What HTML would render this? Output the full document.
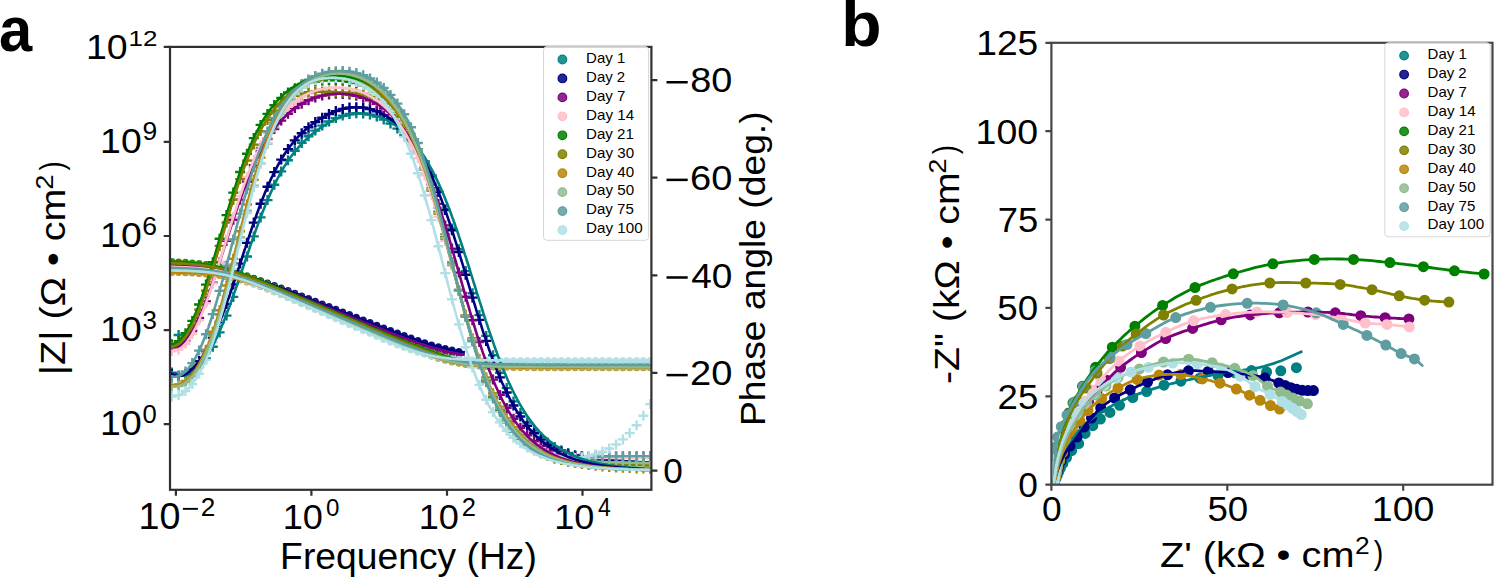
<!DOCTYPE html>
<html><head><meta charset="utf-8"><style>html,body{margin:0;padding:0;background:#fff;}body{width:1495px;height:577px;overflow:hidden;position:relative;}</style></head>
<body>
<svg width="1495" height="577" viewBox="0 0 1495 577" style="position:absolute;left:0;top:0;font-family:&quot;Liberation Sans&quot;,sans-serif">
<rect x="0" y="0" width="1495" height="577" fill="#fff"/>
<defs><clipPath id="ca"><rect x="170.0" y="46.9" width="481.4" height="442.9"/></clipPath>
<clipPath id="cb"><rect x="1051.4" y="42.8" width="441.1" height="441.9"/></clipPath></defs>
<g clip-path="url(#ca)">
<path d="M171.8,266.8h0.01M178.6,267.1h0.01M185.5,267.4h0.01M192.3,267.8h0.01M199.1,268.3h0.01M206.0,269.0h0.01M212.8,269.9h0.01M219.6,271.0h0.01M226.5,272.2h0.01M233.3,273.8h0.01M240.1,275.5h0.01M247.0,277.4h0.01M253.8,279.5h0.01M260.6,281.7h0.01M267.5,284.1h0.01M274.3,286.5h0.01M281.2,289.0h0.01M288.0,291.6h0.01M294.8,294.2h0.01M301.7,296.8h0.01M308.5,299.4h0.01M315.3,302.1h0.01M322.2,304.7h0.01M329.0,307.4h0.01M335.8,310.1h0.01M342.7,312.8h0.01M349.5,315.5h0.01M356.3,318.1h0.01M363.2,320.8h0.01M370.0,323.5h0.01M376.8,326.1h0.01M383.7,328.7h0.01M390.5,331.3h0.01M397.4,333.9h0.01M404.2,336.4h0.01M411.0,338.8h0.01M417.9,341.2h0.01M424.7,343.4h0.01M431.5,345.5h0.01M438.4,347.4h0.01M445.2,349.2h0.01M452.0,350.7h0.01M458.9,352.0h0.01" stroke="#008080" stroke-width="7" stroke-linecap="round" fill="none" stroke-opacity="0.9"/>
<path d="M166.8,372.6h10.0M171.8,367.6v10.0M173.6,375.6h10.0M178.6,370.6v10.0M180.5,375.7h10.0M185.5,370.7v10.0M187.3,372.9h10.0M192.3,367.9v10.0M194.1,367.1h10.0M199.1,362.1v10.0M201.0,358.4h10.0M206.0,353.4v10.0M207.8,346.8h10.0M212.8,341.8v10.0M214.6,332.4h10.0M219.6,327.4v10.0M221.5,315.6h10.0M226.5,310.6v10.0M228.3,296.9h10.0M233.3,291.9v10.0M235.1,276.9h10.0M240.1,271.9v10.0M242.0,256.5h10.0M247.0,251.5v10.0M248.8,236.4h10.0M253.8,231.4v10.0M255.6,217.4h10.0M260.6,212.4v10.0M262.5,200.1h10.0M267.5,195.1v10.0M269.3,184.7h10.0M274.3,179.7v10.0M276.2,171.4h10.0M281.2,166.4v10.0M283.0,160.2h10.0M288.0,155.2v10.0M289.8,150.8h10.0M294.8,145.8v10.0M296.7,142.9h10.0M301.7,137.9v10.0M303.5,136.3h10.0M308.5,131.3v10.0M310.3,130.6h10.0M315.3,125.6v10.0M317.2,125.6h10.0M322.2,120.6v10.0M324.0,121.5h10.0M329.0,116.5v10.0M330.8,118.1h10.0M335.8,113.1v10.0M337.7,115.6h10.0M342.7,110.6v10.0M344.5,114.0h10.0M349.5,109.0v10.0M351.3,113.3h10.0M356.3,108.3v10.0M358.2,113.5h10.0M363.2,108.5v10.0M365.0,114.6h10.0M370.0,109.6v10.0M371.8,116.6h10.0M376.8,111.6v10.0M378.7,119.6h10.0M383.7,114.6v10.0M385.5,123.5h10.0M390.5,118.5v10.0M392.4,128.6h10.0M397.4,123.6v10.0M399.2,135.0h10.0M404.2,130.0v10.0M406.0,142.8h10.0M411.0,137.8v10.0M412.9,152.3h10.0M417.9,147.3v10.0M419.7,163.5h10.0M424.7,158.5v10.0M426.5,176.7h10.0M431.5,171.7v10.0M433.4,192.0h10.0M438.4,187.0v10.0M440.2,209.3h10.0M445.2,204.3v10.0M447.0,228.5h10.0M452.0,223.5v10.0M453.9,249.3h10.0M458.9,244.3v10.0M460.7,271.1h10.0M465.7,266.1v10.0M467.5,293.2h10.0M472.5,288.2v10.0M474.4,315.1h10.0M479.4,310.1v10.0M481.2,335.9h10.0M486.2,330.9v10.0M488.0,355.2h10.0M493.0,350.2v10.0M494.9,372.7h10.0M499.9,367.7v10.0M501.7,388.1h10.0M506.7,383.1v10.0M508.5,401.4h10.0M513.5,396.4v10.0M515.4,412.9h10.0M520.4,407.9v10.0M522.2,422.5h10.0M527.2,417.5v10.0M529.1,430.6h10.0M534.1,425.6v10.0M535.9,437.2h10.0M540.9,432.2v10.0M542.7,442.6h10.0M547.7,437.6v10.0M549.6,446.9h10.0M554.6,441.9v10.0M556.4,450.3h10.0M561.4,445.3v10.0M563.2,453.0h10.0M568.2,448.0v10.0M570.1,455.0h10.0M575.1,450.0v10.0M576.9,456.5h10.0M581.9,451.5v10.0M583.7,457.7h10.0M588.7,452.7v10.0M590.6,458.6h10.0M595.6,453.6v10.0M597.4,459.4h10.0M602.4,454.4v10.0M604.2,460.0h10.0M609.2,455.0v10.0M611.1,460.6h10.0M616.1,455.6v10.0M617.9,461.1h10.0M622.9,456.1v10.0M624.7,461.5h10.0M629.7,456.5v10.0M631.6,461.9h10.0M636.6,456.9v10.0M638.4,462.2h10.0M643.4,457.2v10.0M645.2,462.5h10.0M650.2,457.5v10.0M173.6,335.0h10.0M178.6,330.0v10.0" stroke="#008080" stroke-width="2.4" fill="none"/>
<path d="M171.8,266.3h0.01M178.6,266.5h0.01M185.5,266.8h0.01M192.3,267.2h0.01M199.1,267.7h0.01M206.0,268.4h0.01M212.8,269.2h0.01M219.6,270.2h0.01M226.5,271.5h0.01M233.3,272.9h0.01M240.1,274.6h0.01M247.0,276.5h0.01M253.8,278.6h0.01M260.6,280.8h0.01M267.5,283.1h0.01M274.3,285.6h0.01M281.2,288.1h0.01M288.0,290.6h0.01M294.8,293.2h0.01M301.7,295.9h0.01M308.5,298.5h0.01M315.3,301.2h0.01M322.2,303.9h0.01M329.0,306.5h0.01M335.8,309.2h0.01M342.7,311.9h0.01M349.5,314.6h0.01M356.3,317.3h0.01M363.2,320.0h0.01M370.0,322.6h0.01M376.8,325.3h0.01M383.7,327.9h0.01M390.5,330.5h0.01M397.4,333.1h0.01M404.2,335.6h0.01M411.0,338.1h0.01M417.9,340.5h0.01M424.7,342.7h0.01M431.5,344.9h0.01M438.4,346.8h0.01M445.2,348.6h0.01M452.0,350.1h0.01M458.9,351.5h0.01" stroke="#000080" stroke-width="7" stroke-linecap="round" fill="none" stroke-opacity="0.9"/>
<path d="M166.8,374.0h10.0M171.8,369.0v10.0M173.6,375.9h10.0M178.6,370.9v10.0M180.5,374.0h10.0M185.5,369.0v10.0M187.3,368.9h10.0M192.3,363.9v10.0M194.1,361.1h10.0M199.1,356.1v10.0M201.0,350.7h10.0M206.0,345.7v10.0M207.8,337.6h10.0M212.8,332.6v10.0M214.6,322.0h10.0M219.6,317.0v10.0M221.5,304.1h10.0M226.5,299.1v10.0M228.3,284.4h10.0M233.3,279.4v10.0M235.1,263.6h10.0M240.1,258.6v10.0M242.0,242.7h10.0M247.0,237.7v10.0M248.8,222.6h10.0M253.8,217.6v10.0M255.6,203.8h10.0M260.6,198.8v10.0M262.5,186.8h10.0M267.5,181.8v10.0M269.3,172.1h10.0M274.3,167.1v10.0M276.2,159.6h10.0M281.2,154.6v10.0M283.0,149.1h10.0M288.0,144.1v10.0M289.8,140.4h10.0M294.8,135.4v10.0M296.7,133.3h10.0M301.7,128.3v10.0M303.5,127.3h10.0M308.5,122.3v10.0M310.3,122.1h10.0M315.3,117.1v10.0M317.2,117.7h10.0M322.2,112.7v10.0M324.0,114.0h10.0M329.0,109.0v10.0M330.8,111.1h10.0M335.8,106.1v10.0M337.7,108.9h10.0M342.7,103.9v10.0M344.5,107.6h10.0M349.5,102.6v10.0M351.3,107.2h10.0M356.3,102.2v10.0M358.2,107.7h10.0M363.2,102.7v10.0M365.0,109.1h10.0M370.0,104.1v10.0M371.8,111.3h10.0M376.8,106.3v10.0M378.7,114.6h10.0M383.7,109.6v10.0M385.5,118.9h10.0M390.5,113.9v10.0M392.4,124.4h10.0M397.4,119.4v10.0M399.2,131.2h10.0M404.2,126.2v10.0M406.0,139.5h10.0M411.0,134.5v10.0M412.9,149.5h10.0M417.9,144.5v10.0M419.7,161.5h10.0M424.7,156.5v10.0M426.5,175.5h10.0M431.5,170.5v10.0M433.4,191.7h10.0M438.4,186.7v10.0M440.2,210.0h10.0M445.2,205.0v10.0M447.0,230.3h10.0M452.0,225.3v10.0M453.9,252.0h10.0M458.9,247.0v10.0M460.7,274.7h10.0M465.7,269.7v10.0M467.5,297.6h10.0M472.5,292.6v10.0M474.4,319.9h10.0M479.4,314.9v10.0M481.2,340.9h10.0M486.2,335.9v10.0M488.0,360.2h10.0M493.0,355.2v10.0M494.9,377.4h10.0M499.9,372.4v10.0M501.7,392.5h10.0M506.7,387.5v10.0M508.5,405.5h10.0M513.5,400.5v10.0M515.4,416.5h10.0M520.4,411.5v10.0M522.2,425.7h10.0M527.2,420.7v10.0M529.1,433.3h10.0M534.1,428.3v10.0M535.9,439.6h10.0M540.9,434.6v10.0M542.7,444.7h10.0M547.7,439.7v10.0M549.6,448.7h10.0M554.6,443.7v10.0M556.4,451.8h10.0M561.4,446.8v10.0M563.2,454.2h10.0M568.2,449.2v10.0M570.1,456.0h10.0M575.1,451.0v10.0M576.9,457.4h10.0M581.9,452.4v10.0M583.7,458.4h10.0M588.7,453.4v10.0M590.6,459.2h10.0M595.6,454.2v10.0M597.4,459.9h10.0M602.4,454.9v10.0M604.2,460.5h10.0M609.2,455.5v10.0M611.1,461.0h10.0M616.1,456.0v10.0M617.9,461.4h10.0M622.9,456.4v10.0M624.7,461.8h10.0M629.7,456.8v10.0M631.6,462.1h10.0M636.6,457.1v10.0M638.4,462.4h10.0M643.4,457.4v10.0M645.2,462.6h10.0M650.2,457.6v10.0" stroke="#000080" stroke-width="2.4" fill="none"/>
<path d="M171.8,265.8h0.01M178.6,266.1h0.01M185.5,266.4h0.01M192.3,266.8h0.01M199.1,267.3h0.01M206.0,268.1h0.01M212.8,269.0h0.01M219.6,270.1h0.01M226.5,271.5h0.01M233.3,273.1h0.01M240.1,274.9h0.01M247.0,277.0h0.01M253.8,279.2h0.01M260.6,281.5h0.01M267.5,284.0h0.01M274.3,286.5h0.01M281.2,289.1h0.01M288.0,291.8h0.01M294.8,294.5h0.01M301.7,297.2h0.01M308.5,299.9h0.01M315.3,302.6h0.01M322.2,305.4h0.01M329.0,308.1h0.01M335.8,310.9h0.01M342.7,313.7h0.01M349.5,316.4h0.01M356.3,319.2h0.01M363.2,321.9h0.01M370.0,324.7h0.01M376.8,327.4h0.01M383.7,330.1h0.01M390.5,332.8h0.01M397.4,335.4h0.01M404.2,338.0h0.01M411.0,340.5h0.01M417.9,342.9h0.01M424.7,345.2h0.01M431.5,347.4h0.01M438.4,349.4h0.01M445.2,351.2h0.01M452.0,352.7h0.01M458.9,354.0h0.01" stroke="#800080" stroke-width="7" stroke-linecap="round" fill="none" stroke-opacity="0.9"/>
<path d="M166.8,347.3h10.0M171.8,342.3v10.0M173.6,345.9h10.0M178.6,340.9v10.0M180.5,340.4h10.0M185.5,335.4v10.0M187.3,331.0h10.0M192.3,326.0v10.0M194.1,317.9h10.0M199.1,312.9v10.0M201.0,301.5h10.0M206.0,296.5v10.0M207.8,282.7h10.0M212.8,277.7v10.0M214.6,262.1h10.0M219.6,257.1v10.0M221.5,240.8h10.0M226.5,235.8v10.0M228.3,219.8h10.0M233.3,214.8v10.0M235.1,199.8h10.0M240.1,194.8v10.0M242.0,181.6h10.0M247.0,176.6v10.0M248.8,165.3h10.0M253.8,160.3v10.0M255.6,151.2h10.0M260.6,146.2v10.0M262.5,139.1h10.0M267.5,134.1v10.0M269.3,129.0h10.0M274.3,124.0v10.0M276.2,120.6h10.0M281.2,115.6v10.0M283.0,113.7h10.0M288.0,108.7v10.0M289.8,108.1h10.0M294.8,103.1v10.0M296.7,103.7h10.0M301.7,98.7v10.0M303.5,100.2h10.0M308.5,95.2v10.0M310.3,97.5h10.0M315.3,92.5v10.0M317.2,95.6h10.0M322.2,90.6v10.0M324.0,94.4h10.0M329.0,89.4v10.0M330.8,93.8h10.0M335.8,88.8v10.0M337.7,93.9h10.0M342.7,88.9v10.0M344.5,94.5h10.0M349.5,89.5v10.0M351.3,95.7h10.0M356.3,90.7v10.0M358.2,97.7h10.0M363.2,92.7v10.0M365.0,100.4h10.0M370.0,95.4v10.0M371.8,103.9h10.0M376.8,98.9v10.0M378.7,108.5h10.0M383.7,103.5v10.0M385.5,114.2h10.0M390.5,109.2v10.0M392.4,121.3h10.0M397.4,116.3v10.0M399.2,129.9h10.0M404.2,124.9v10.0M406.0,140.3h10.0M411.0,135.3v10.0M412.9,152.8h10.0M417.9,147.8v10.0M419.7,167.5h10.0M424.7,162.5v10.0M426.5,184.6h10.0M431.5,179.6v10.0M433.4,203.9h10.0M438.4,198.9v10.0M440.2,225.4h10.0M445.2,220.4v10.0M447.0,248.6h10.0M452.0,243.6v10.0M453.9,272.6h10.0M458.9,267.6v10.0M460.7,296.8h10.0M465.7,291.8v10.0M467.5,320.2h10.0M472.5,315.2v10.0M474.4,342.1h10.0M479.4,337.1v10.0M481.2,362.0h10.0M486.2,357.0v10.0M488.0,379.6h10.0M493.0,374.6v10.0M494.9,394.9h10.0M499.9,389.9v10.0M501.7,407.9h10.0M506.7,402.9v10.0M508.5,418.8h10.0M513.5,413.8v10.0M515.4,427.8h10.0M520.4,422.8v10.0M522.2,435.3h10.0M527.2,430.3v10.0M529.1,441.3h10.0M534.1,436.3v10.0M535.9,446.0h10.0M540.9,441.0v10.0M542.7,449.7h10.0M547.7,444.7v10.0M549.6,452.4h10.0M554.6,447.4v10.0M556.4,454.2h10.0M561.4,449.2v10.0M563.2,455.4h10.0M568.2,450.4v10.0M570.1,456.0h10.0M575.1,451.0v10.0M576.9,456.3h10.0M581.9,451.3v10.0M583.7,456.4h10.0M588.7,451.4v10.0M590.6,456.4h10.0M595.6,451.4v10.0M597.4,456.4h10.0M602.4,451.4v10.0M604.2,456.5h10.0M609.2,451.5v10.0M611.1,456.6h10.0M616.1,451.6v10.0M617.9,456.7h10.0M622.9,451.7v10.0M624.7,456.8h10.0M629.7,451.8v10.0M631.6,456.9h10.0M636.6,451.9v10.0M638.4,457.1h10.0M643.4,452.1v10.0M645.2,457.2h10.0M650.2,452.2v10.0" stroke="#800080" stroke-width="2.4" fill="none"/>
<path d="M171.8,266.9h0.01M178.6,267.1h0.01M185.5,267.3h0.01M192.3,267.7h0.01M199.1,268.2h0.01M206.0,268.9h0.01M212.8,269.8h0.01M219.6,271.0h0.01M226.5,272.4h0.01M233.3,274.1h0.01M240.1,276.1h0.01M247.0,278.3h0.01M253.8,280.7h0.01M260.6,283.2h0.01M267.5,285.8h0.01M274.3,288.6h0.01M281.2,291.3h0.01M288.0,294.1h0.01M294.8,297.0h0.01M301.7,299.9h0.01M308.5,302.7h0.01M315.3,305.6h0.01M322.2,308.5h0.01M329.0,311.4h0.01M335.8,314.3h0.01M342.7,317.2h0.01M349.5,320.1h0.01M356.3,323.0h0.01M363.2,325.9h0.01M370.0,328.8h0.01M376.8,331.7h0.01M383.7,334.6h0.01M390.5,337.4h0.01M397.4,340.3h0.01M404.2,343.1h0.01M411.0,345.8h0.01M417.9,348.5h0.01M424.7,351.0h0.01M431.5,353.5h0.01M438.4,355.7h0.01M445.2,357.8h0.01M452.0,359.6h0.01M458.9,361.1h0.01M465.7,362.3h0.01M472.5,363.3h0.01M479.4,364.1h0.01M486.2,364.6h0.01M493.0,365.0h0.01M499.9,365.3h0.01M506.7,365.5h0.01M513.5,365.7h0.01M520.4,365.8h0.01M527.2,365.9h0.01M534.1,366.0h0.01M540.9,366.0h0.01M547.7,366.0h0.01M554.6,366.1h0.01M561.4,366.1h0.01M568.2,366.1h0.01M575.1,366.1h0.01M581.9,366.1h0.01M588.7,366.1h0.01M595.6,366.1h0.01M602.4,366.1h0.01M609.2,366.1h0.01M616.1,366.1h0.01M622.9,366.1h0.01M629.7,366.1h0.01M636.6,366.1h0.01M643.4,366.1h0.01M650.2,366.1h0.01" stroke="#FFC0CB" stroke-width="7" stroke-linecap="round" fill="none" stroke-opacity="0.9"/>
<path d="M166.8,351.0h10.0M171.8,346.0v10.0M173.6,349.5h10.0M178.6,344.5v10.0M180.5,343.7h10.0M185.5,338.7v10.0M187.3,333.9h10.0M192.3,328.9v10.0M194.1,320.3h10.0M199.1,315.3v10.0M201.0,303.2h10.0M206.0,298.2v10.0M207.8,283.4h10.0M212.8,278.4v10.0M214.6,261.8h10.0M219.6,256.8v10.0M221.5,239.3h10.0M226.5,234.3v10.0M228.3,217.1h10.0M233.3,212.1v10.0M235.1,196.1h10.0M240.1,191.1v10.0M242.0,177.0h10.0M247.0,172.0v10.0M248.8,160.0h10.0M253.8,155.0v10.0M255.6,145.3h10.0M260.6,140.3v10.0M262.5,132.8h10.0M267.5,127.8v10.0M269.3,122.4h10.0M274.3,117.4v10.0M276.2,113.9h10.0M281.2,108.9v10.0M283.0,106.9h10.0M288.0,101.9v10.0M289.8,101.3h10.0M294.8,96.3v10.0M296.7,96.8h10.0M301.7,91.8v10.0M303.5,93.4h10.0M308.5,88.4v10.0M310.3,90.9h10.0M315.3,85.9v10.0M317.2,89.1h10.0M322.2,84.1v10.0M324.0,88.0h10.0M329.0,83.0v10.0M330.8,87.7h10.0M335.8,82.7v10.0M337.7,87.9h10.0M342.7,82.9v10.0M344.5,88.9h10.0M349.5,83.9v10.0M351.3,90.5h10.0M356.3,85.5v10.0M358.2,92.9h10.0M363.2,87.9v10.0M365.0,96.2h10.0M370.0,91.2v10.0M371.8,100.5h10.0M376.8,95.5v10.0M378.7,105.9h10.0M383.7,100.9v10.0M385.5,112.7h10.0M390.5,107.7v10.0M392.4,121.0h10.0M397.4,116.0v10.0M399.2,131.2h10.0M404.2,126.2v10.0M406.0,143.5h10.0M411.0,138.5v10.0M412.9,158.2h10.0M417.9,153.2v10.0M419.7,175.3h10.0M424.7,170.3v10.0M426.5,194.9h10.0M431.5,189.9v10.0M433.4,216.9h10.0M438.4,211.9v10.0M440.2,240.7h10.0M445.2,235.7v10.0M447.0,265.7h10.0M452.0,260.7v10.0M453.9,290.9h10.0M458.9,285.9v10.0M460.7,315.4h10.0M465.7,310.4v10.0M467.5,338.4h10.0M472.5,333.4v10.0M474.4,359.3h10.0M479.4,354.3v10.0M481.2,377.7h10.0M486.2,372.7v10.0M488.0,393.6h10.0M493.0,388.6v10.0M494.9,407.1h10.0M499.9,402.1v10.0M501.7,418.4h10.0M506.7,413.4v10.0M508.5,427.8h10.0M513.5,422.8v10.0M515.4,435.5h10.0M520.4,430.5v10.0M522.2,441.7h10.0M527.2,436.7v10.0M529.1,446.7h10.0M534.1,441.7v10.0M535.9,450.6h10.0M540.9,445.6v10.0M542.7,453.5h10.0M547.7,448.5v10.0M549.6,455.7h10.0M554.6,450.7v10.0M556.4,457.1h10.0M561.4,452.1v10.0M563.2,457.9h10.0M568.2,452.9v10.0M570.1,458.3h10.0M575.1,453.3v10.0M576.9,458.3h10.0M581.9,453.3v10.0M583.7,458.3h10.0M588.7,453.3v10.0M590.6,458.1h10.0M595.6,453.1v10.0M597.4,458.1h10.0M602.4,453.1v10.0M604.2,458.0h10.0M609.2,453.0v10.0M611.1,458.0h10.0M616.1,453.0v10.0M617.9,458.1h10.0M622.9,453.1v10.0M624.7,458.1h10.0M629.7,453.1v10.0M631.6,458.2h10.0M636.6,453.2v10.0M638.4,458.3h10.0M643.4,453.3v10.0M645.2,458.4h10.0M650.2,453.4v10.0" stroke="#FFC0CB" stroke-width="2.4" fill="none"/>
<path d="M171.8,261.6h0.01M178.6,261.9h0.01M185.5,262.3h0.01M192.3,262.9h0.01M199.1,263.6h0.01M206.0,264.6h0.01M212.8,265.8h0.01M219.6,267.3h0.01M226.5,269.0h0.01M233.3,271.1h0.01M240.1,273.3h0.01M247.0,275.7h0.01M253.8,278.3h0.01M260.6,280.9h0.01M267.5,283.6h0.01M274.3,286.4h0.01M281.2,289.2h0.01M288.0,292.1h0.01M294.8,295.0h0.01M301.7,297.8h0.01M308.5,300.7h0.01M315.3,303.6h0.01M322.2,306.5h0.01M329.0,309.4h0.01M335.8,312.3h0.01M342.7,315.2h0.01M349.5,318.1h0.01M356.3,321.0h0.01M363.2,323.9h0.01M370.0,326.8h0.01M376.8,329.7h0.01M383.7,332.6h0.01M390.5,335.5h0.01M397.4,338.3h0.01M404.2,341.1h0.01M411.0,343.9h0.01M417.9,346.6h0.01M424.7,349.2h0.01M431.5,351.7h0.01M438.4,354.0h0.01M445.2,356.2h0.01M452.0,358.1h0.01M458.9,359.7h0.01M465.7,361.1h0.01M472.5,362.2h0.01M479.4,363.1h0.01M486.2,363.7h0.01M493.0,364.2h0.01M499.9,364.5h0.01M506.7,364.8h0.01M513.5,365.0h0.01M520.4,365.1h0.01M527.2,365.2h0.01M534.1,365.3h0.01M540.9,365.3h0.01M547.7,365.4h0.01M554.6,365.4h0.01M561.4,365.4h0.01M568.2,365.4h0.01M575.1,365.5h0.01M581.9,365.5h0.01M588.7,365.5h0.01M595.6,365.5h0.01M602.4,365.5h0.01M609.2,365.5h0.01M616.1,365.5h0.01M622.9,365.5h0.01M629.7,365.5h0.01M636.6,365.5h0.01M643.4,365.5h0.01M650.2,365.5h0.01" stroke="#008000" stroke-width="7" stroke-linecap="round" fill="none" stroke-opacity="0.9"/>
<path d="M166.8,344.2h10.0M171.8,339.2v10.0M173.6,341.1h10.0M178.6,336.1v10.0M180.5,333.3h10.0M185.5,328.3v10.0M187.3,320.9h10.0M192.3,315.9v10.0M194.1,304.5h10.0M199.1,299.5v10.0M201.0,284.6h10.0M206.0,279.6v10.0M207.8,262.3h10.0M212.8,257.3v10.0M214.6,238.7h10.0M219.6,233.7v10.0M221.5,215.1h10.0M226.5,210.1v10.0M228.3,192.6h10.0M233.3,187.6v10.0M235.1,172.0h10.0M240.1,167.0v10.0M242.0,153.8h10.0M247.0,148.8v10.0M248.8,138.1h10.0M253.8,133.1v10.0M255.6,124.9h10.0M260.6,119.9v10.0M262.5,113.9h10.0M267.5,108.9v10.0M269.3,105.1h10.0M274.3,100.1v10.0M276.2,98.0h10.0M281.2,93.0v10.0M283.0,92.4h10.0M288.0,87.4v10.0M289.8,88.2h10.0M294.8,83.2v10.0M296.7,85.1h10.0M301.7,80.1v10.0M303.5,82.9h10.0M308.5,77.9v10.0M310.3,81.5h10.0M315.3,76.5v10.0M317.2,80.6h10.0M322.2,75.6v10.0M324.0,80.3h10.0M329.0,75.3v10.0M330.8,80.4h10.0M335.8,75.4v10.0M337.7,80.8h10.0M342.7,75.8v10.0M344.5,81.7h10.0M349.5,76.7v10.0M351.3,83.1h10.0M356.3,78.1v10.0M358.2,85.2h10.0M363.2,80.2v10.0M365.0,88.0h10.0M370.0,83.0v10.0M371.8,91.8h10.0M376.8,86.8v10.0M378.7,96.8h10.0M383.7,91.8v10.0M385.5,103.3h10.0M390.5,98.3v10.0M392.4,111.5h10.0M397.4,106.5v10.0M399.2,121.7h10.0M404.2,116.7v10.0M406.0,134.3h10.0M411.0,129.3v10.0M412.9,149.5h10.0M417.9,144.5v10.0M419.7,167.5h10.0M424.7,162.5v10.0M426.5,188.3h10.0M431.5,183.3v10.0M433.4,211.7h10.0M438.4,206.7v10.0M440.2,237.2h10.0M445.2,232.2v10.0M447.0,263.8h10.0M452.0,258.8v10.0M453.9,290.6h10.0M458.9,285.6v10.0M460.7,316.4h10.0M465.7,311.4v10.0M467.5,340.4h10.0M472.5,335.4v10.0M474.4,361.9h10.0M479.4,356.9v10.0M481.2,380.7h10.0M486.2,375.7v10.0M488.0,396.7h10.0M493.0,391.7v10.0M494.9,410.2h10.0M499.9,405.2v10.0M501.7,421.4h10.0M506.7,416.4v10.0M508.5,430.6h10.0M513.5,425.6v10.0M515.4,438.1h10.0M520.4,433.1v10.0M522.2,444.2h10.0M527.2,439.2v10.0M529.1,449.1h10.0M534.1,444.1v10.0M535.9,453.0h10.0M540.9,448.0v10.0M542.7,456.0h10.0M547.7,451.0v10.0M549.6,458.4h10.0M554.6,453.4v10.0M556.4,460.1h10.0M561.4,455.1v10.0M563.2,461.4h10.0M568.2,456.4v10.0M570.1,462.4h10.0M575.1,457.4v10.0M576.9,463.0h10.0M581.9,458.0v10.0M583.7,463.5h10.0M588.7,458.5v10.0M590.6,463.8h10.0M595.6,458.8v10.0M597.4,464.1h10.0M602.4,459.1v10.0M604.2,464.3h10.0M609.2,459.3v10.0M611.1,464.5h10.0M616.1,459.5v10.0M617.9,464.7h10.0M622.9,459.7v10.0M624.7,464.9h10.0M629.7,459.9v10.0M631.6,465.0h10.0M636.6,460.0v10.0M638.4,465.1h10.0M643.4,460.1v10.0M645.2,465.2h10.0M650.2,460.2v10.0" stroke="#008000" stroke-width="2.4" fill="none"/>
<path d="M171.8,263.0h0.01M178.6,263.3h0.01M185.5,263.7h0.01M192.3,264.2h0.01M199.1,264.9h0.01M206.0,265.8h0.01M212.8,267.0h0.01M219.6,268.4h0.01M226.5,270.1h0.01M233.3,272.1h0.01M240.1,274.3h0.01M247.0,276.7h0.01M253.8,279.2h0.01M260.6,281.9h0.01M267.5,284.6h0.01M274.3,287.4h0.01M281.2,290.2h0.01M288.0,293.1h0.01M294.8,295.9h0.01M301.7,298.8h0.01M308.5,301.7h0.01M315.3,304.6h0.01M322.2,307.5h0.01M329.0,310.4h0.01M335.8,313.3h0.01M342.7,316.3h0.01M349.5,319.2h0.01M356.3,322.1h0.01M363.2,325.0h0.01M370.0,327.9h0.01M376.8,330.8h0.01M383.7,333.7h0.01M390.5,336.5h0.01M397.4,339.4h0.01M404.2,342.2h0.01M411.0,344.9h0.01M417.9,347.6h0.01M424.7,350.2h0.01M431.5,352.7h0.01M438.4,355.0h0.01M445.2,357.2h0.01M452.0,359.1h0.01M458.9,360.7h0.01M465.7,362.0h0.01M472.5,363.1h0.01M479.4,363.9h0.01M486.2,364.5h0.01M493.0,365.0h0.01M499.9,365.3h0.01M506.7,365.5h0.01M513.5,365.7h0.01M520.4,365.8h0.01M527.2,365.9h0.01M534.1,366.0h0.01M540.9,366.0h0.01M547.7,366.1h0.01M554.6,366.1h0.01M561.4,366.1h0.01M568.2,366.1h0.01M575.1,366.2h0.01M581.9,366.2h0.01M588.7,366.2h0.01M595.6,366.2h0.01M602.4,366.2h0.01M609.2,366.2h0.01M616.1,366.2h0.01M622.9,366.2h0.01M629.7,366.2h0.01M636.6,366.2h0.01M643.4,366.2h0.01M650.2,366.2h0.01" stroke="#808000" stroke-width="7" stroke-linecap="round" fill="none" stroke-opacity="0.9"/>
<path d="M166.8,346.6h10.0M171.8,341.6v10.0M173.6,344.0h10.0M178.6,339.0v10.0M180.5,336.8h10.0M185.5,331.8v10.0M187.3,325.2h10.0M192.3,320.2v10.0M194.1,309.6h10.0M199.1,304.6v10.0M201.0,290.6h10.0M206.0,285.6v10.0M207.8,269.0h10.0M212.8,264.0v10.0M214.6,245.9h10.0M219.6,240.9v10.0M221.5,222.5h10.0M226.5,217.5v10.0M228.3,199.9h10.0M233.3,194.9v10.0M235.1,179.1h10.0M240.1,174.1v10.0M242.0,160.6h10.0M247.0,155.6v10.0M248.8,144.6h10.0M253.8,139.6v10.0M255.6,131.1h10.0M260.6,126.1v10.0M262.5,120.1h10.0M267.5,115.1v10.0M269.3,111.3h10.0M274.3,106.3v10.0M276.2,104.5h10.0M281.2,99.5v10.0M283.0,99.4h10.0M288.0,94.4v10.0M289.8,95.9h10.0M294.8,90.9v10.0M296.7,93.6h10.0M301.7,88.6v10.0M303.5,92.3h10.0M308.5,87.3v10.0M310.3,91.7h10.0M315.3,86.7v10.0M317.2,91.7h10.0M322.2,86.7v10.0M324.0,91.8h10.0M329.0,86.8v10.0M330.8,92.2h10.0M335.8,87.2v10.0M337.7,92.5h10.0M342.7,87.5v10.0M344.5,93.0h10.0M349.5,88.0v10.0M351.3,93.6h10.0M356.3,88.6v10.0M358.2,94.7h10.0M363.2,89.7v10.0M365.0,96.4h10.0M370.0,91.4v10.0M371.8,99.0h10.0M376.8,94.0v10.0M378.7,102.9h10.0M383.7,97.9v10.0M385.5,108.4h10.0M390.5,103.4v10.0M392.4,115.8h10.0M397.4,110.8v10.0M399.2,125.3h10.0M404.2,120.3v10.0M406.0,137.2h10.0M411.0,132.2v10.0M412.9,151.9h10.0M417.9,146.9v10.0M419.7,169.3h10.0M424.7,164.3v10.0M426.5,189.6h10.0M431.5,184.6v10.0M433.4,212.5h10.0M438.4,207.5v10.0M440.2,237.4h10.0M445.2,232.4v10.0M447.0,263.6h10.0M452.0,258.6v10.0M453.9,290.0h10.0M458.9,285.0v10.0M460.7,315.5h10.0M465.7,310.5v10.0M467.5,339.3h10.0M472.5,334.3v10.0M474.4,360.7h10.0M479.4,355.7v10.0M481.2,379.5h10.0M486.2,374.5v10.0M488.0,395.6h10.0M493.0,390.6v10.0M494.9,409.1h10.0M499.9,404.1v10.0M501.7,420.4h10.0M506.7,415.4v10.0M508.5,429.7h10.0M513.5,424.7v10.0M515.4,437.3h10.0M520.4,432.3v10.0M522.2,443.5h10.0M527.2,438.5v10.0M529.1,448.5h10.0M534.1,443.5v10.0M535.9,452.5h10.0M540.9,447.5v10.0M542.7,455.6h10.0M547.7,450.6v10.0M549.6,458.0h10.0M554.6,453.0v10.0M556.4,459.9h10.0M561.4,454.9v10.0M563.2,461.2h10.0M568.2,456.2v10.0M570.1,462.2h10.0M575.1,457.2v10.0M576.9,462.8h10.0M581.9,457.8v10.0M583.7,463.3h10.0M588.7,458.3v10.0M590.6,463.7h10.0M595.6,458.7v10.0M597.4,464.0h10.0M602.4,459.0v10.0M604.2,464.2h10.0M609.2,459.2v10.0M611.1,464.5h10.0M616.1,459.5v10.0M617.9,464.6h10.0M622.9,459.6v10.0M624.7,464.8h10.0M629.7,459.8v10.0M631.6,465.0h10.0M636.6,460.0v10.0M638.4,465.1h10.0M643.4,460.1v10.0M645.2,465.2h10.0M650.2,460.2v10.0" stroke="#808000" stroke-width="2.4" fill="none"/>
<path d="M171.8,272.4h0.01M178.6,272.6h0.01M185.5,272.8h0.01M192.3,273.1h0.01M199.1,273.4h0.01M206.0,274.0h0.01M212.8,274.7h0.01M219.6,275.6h0.01M226.5,276.8h0.01M233.3,278.2h0.01M240.1,279.9h0.01M247.0,281.9h0.01M253.8,284.1h0.01M260.6,286.5h0.01M267.5,289.1h0.01M274.3,291.7h0.01M281.2,294.4h0.01M288.0,297.2h0.01M294.8,300.0h0.01M301.7,302.9h0.01M308.5,305.7h0.01M315.3,308.6h0.01M322.2,311.5h0.01M329.0,314.4h0.01M335.8,317.3h0.01M342.7,320.2h0.01M349.5,323.1h0.01M356.3,326.0h0.01M363.2,328.9h0.01M370.0,331.7h0.01M376.8,334.6h0.01M383.7,337.5h0.01M390.5,340.3h0.01M397.4,343.1h0.01M404.2,345.9h0.01M411.0,348.6h0.01M417.9,351.2h0.01M424.7,353.7h0.01M431.5,356.1h0.01M438.4,358.3h0.01M445.2,360.2h0.01M452.0,361.9h0.01M458.9,363.3h0.01M465.7,364.4h0.01M472.5,365.3h0.01M479.4,366.0h0.01M486.2,366.5h0.01M493.0,366.9h0.01M499.9,367.1h0.01M506.7,367.3h0.01M513.5,367.4h0.01M520.4,367.5h0.01M527.2,367.6h0.01M534.1,367.7h0.01M540.9,367.7h0.01M547.7,367.7h0.01M554.6,367.8h0.01M561.4,367.8h0.01M568.2,367.8h0.01M575.1,367.8h0.01M581.9,367.8h0.01M588.7,367.8h0.01M595.6,367.8h0.01M602.4,367.8h0.01M609.2,367.8h0.01M616.1,367.8h0.01M622.9,367.8h0.01M629.7,367.8h0.01M636.6,367.8h0.01M643.4,367.8h0.01M650.2,367.8h0.01" stroke="#B8860B" stroke-width="7" stroke-linecap="round" fill="none" stroke-opacity="0.9"/>
<path d="M166.8,385.2h10.0M171.8,380.2v10.0M173.6,384.5h10.0M178.6,379.5v10.0M180.5,380.9h10.0M185.5,375.9v10.0M187.3,374.1h10.0M192.3,369.1v10.0M194.1,363.8h10.0M199.1,358.8v10.0M201.0,349.7h10.0M206.0,344.7v10.0M207.8,331.8h10.0M212.8,326.8v10.0M214.6,310.2h10.0M219.6,305.2v10.0M221.5,285.5h10.0M226.5,280.5v10.0M228.3,258.7h10.0M233.3,253.7v10.0M235.1,231.2h10.0M240.1,226.2v10.0M242.0,204.5h10.0M247.0,199.5v10.0M248.8,179.7h10.0M253.8,174.7v10.0M255.6,157.6h10.0M260.6,152.6v10.0M262.5,138.7h10.0M267.5,133.7v10.0M269.3,122.9h10.0M274.3,117.9v10.0M276.2,110.0h10.0M281.2,105.0v10.0M283.0,99.6h10.0M288.0,94.6v10.0M289.8,91.4h10.0M294.8,86.4v10.0M296.7,85.1h10.0M301.7,80.1v10.0M303.5,80.4h10.0M308.5,75.4v10.0M310.3,76.9h10.0M315.3,71.9v10.0M317.2,74.6h10.0M322.2,69.6v10.0M324.0,73.3h10.0M329.0,68.3v10.0M330.8,72.9h10.0M335.8,67.9v10.0M337.7,73.3h10.0M342.7,68.3v10.0M344.5,74.5h10.0M349.5,69.5v10.0M351.3,76.5h10.0M356.3,71.5v10.0M358.2,79.4h10.0M363.2,74.4v10.0M365.0,83.3h10.0M370.0,78.3v10.0M371.8,88.2h10.0M376.8,83.2v10.0M378.7,94.4h10.0M383.7,89.4v10.0M385.5,102.0h10.0M390.5,97.0v10.0M392.4,111.3h10.0M397.4,106.3v10.0M399.2,122.5h10.0M404.2,117.5v10.0M406.0,135.8h10.0M411.0,130.8v10.0M412.9,151.6h10.0M417.9,146.6v10.0M419.7,169.9h10.0M424.7,164.9v10.0M426.5,190.7h10.0M431.5,185.7v10.0M433.4,213.8h10.0M438.4,208.8v10.0M440.2,238.7h10.0M445.2,233.7v10.0M447.0,264.5h10.0M452.0,259.5v10.0M453.9,290.3h10.0M458.9,285.3v10.0M460.7,315.1h10.0M465.7,310.1v10.0M467.5,338.3h10.0M472.5,333.3v10.0M474.4,359.1h10.0M479.4,354.1v10.0M481.2,377.5h10.0M486.2,372.5v10.0M488.0,393.2h10.0M493.0,388.2v10.0M494.9,406.7h10.0M499.9,401.7v10.0M501.7,417.9h10.0M506.7,412.9v10.0M508.5,427.3h10.0M513.5,422.3v10.0M515.4,435.0h10.0M520.4,430.0v10.0M522.2,441.4h10.0M527.2,436.4v10.0M529.1,446.6h10.0M534.1,441.6v10.0M535.9,450.9h10.0M540.9,445.9v10.0M542.7,454.4h10.0M547.7,449.4v10.0M549.6,457.2h10.0M554.6,452.2v10.0M556.4,459.5h10.0M561.4,454.5v10.0M563.2,461.3h10.0M568.2,456.3v10.0M570.1,462.8h10.0M575.1,457.8v10.0M576.9,464.0h10.0M581.9,459.0v10.0M583.7,465.0h10.0M588.7,460.0v10.0M590.6,465.8h10.0M595.6,460.8v10.0M597.4,466.5h10.0M602.4,461.5v10.0M604.2,467.0h10.0M609.2,462.0v10.0M611.1,467.4h10.0M616.1,462.4v10.0M617.9,467.8h10.0M622.9,462.8v10.0M624.7,468.1h10.0M629.7,463.1v10.0M631.6,468.4h10.0M636.6,463.4v10.0M638.4,468.6h10.0M643.4,463.6v10.0M645.2,468.8h10.0M650.2,463.8v10.0" stroke="#B8860B" stroke-width="2.4" fill="none"/>
<path d="M171.8,269.9h0.01M178.6,270.1h0.01M185.5,270.3h0.01M192.3,270.6h0.01M199.1,271.1h0.01M206.0,271.7h0.01M212.8,272.5h0.01M219.6,273.6h0.01M226.5,274.9h0.01M233.3,276.6h0.01M240.1,278.5h0.01M247.0,280.6h0.01M253.8,283.0h0.01M260.6,285.5h0.01M267.5,288.1h0.01M274.3,290.8h0.01M281.2,293.6h0.01M288.0,296.4h0.01M294.8,299.2h0.01M301.7,302.1h0.01M308.5,305.0h0.01M315.3,307.9h0.01M322.2,310.8h0.01M329.0,313.7h0.01M335.8,316.6h0.01M342.7,319.6h0.01M349.5,322.5h0.01M356.3,325.4h0.01M363.2,328.3h0.01M370.0,331.2h0.01M376.8,334.1h0.01M383.7,337.0h0.01M390.5,339.8h0.01M397.4,342.7h0.01M404.2,345.4h0.01M411.0,348.2h0.01M417.9,350.8h0.01M424.7,353.3h0.01M431.5,355.7h0.01M438.4,357.8h0.01M445.2,359.7h0.01M452.0,361.4h0.01M458.9,362.8h0.01M465.7,363.9h0.01M472.5,364.7h0.01M479.4,365.4h0.01M486.2,365.8h0.01M493.0,366.2h0.01M499.9,366.4h0.01M506.7,366.6h0.01M513.5,366.7h0.01M520.4,366.8h0.01M527.2,366.9h0.01M534.1,366.9h0.01M540.9,367.0h0.01M547.7,367.0h0.01M554.6,367.0h0.01M561.4,367.0h0.01M568.2,367.0h0.01M575.1,367.0h0.01M581.9,367.0h0.01M588.7,367.1h0.01M595.6,367.1h0.01M602.4,367.1h0.01M609.2,367.1h0.01M616.1,367.1h0.01M622.9,367.1h0.01M629.7,367.1h0.01M636.6,367.1h0.01M643.4,367.1h0.01M650.2,367.1h0.01" stroke="#8FBC8F" stroke-width="7" stroke-linecap="round" fill="none" stroke-opacity="0.9"/>
<path d="M166.8,386.4h10.0M171.8,381.4v10.0M173.6,386.1h10.0M178.6,381.1v10.0M180.5,382.8h10.0M185.5,377.8v10.0M187.3,376.4h10.0M192.3,371.4v10.0M194.1,366.6h10.0M199.1,361.6v10.0M201.0,353.1h10.0M206.0,348.1v10.0M207.8,335.8h10.0M212.8,330.8v10.0M214.6,314.8h10.0M219.6,309.8v10.0M221.5,290.8h10.0M226.5,285.8v10.0M228.3,264.5h10.0M233.3,259.5v10.0M235.1,237.3h10.0M240.1,232.3v10.0M242.0,210.6h10.0M247.0,205.6v10.0M248.8,185.6h10.0M253.8,180.6v10.0M255.6,163.2h10.0M260.6,158.2v10.0M262.5,143.8h10.0M267.5,138.8v10.0M269.3,127.4h10.0M274.3,122.4v10.0M276.2,113.9h10.0M281.2,108.9v10.0M283.0,103.0h10.0M288.0,98.0v10.0M289.8,94.4h10.0M294.8,89.4v10.0M296.7,87.6h10.0M301.7,82.6v10.0M303.5,82.4h10.0M308.5,77.4v10.0M310.3,78.6h10.0M315.3,73.6v10.0M317.2,75.9h10.0M322.2,70.9v10.0M324.0,74.3h10.0M329.0,69.3v10.0M330.8,73.5h10.0M335.8,68.5v10.0M337.7,73.6h10.0M342.7,68.6v10.0M344.5,74.6h10.0M349.5,69.6v10.0M351.3,76.3h10.0M356.3,71.3v10.0M358.2,79.0h10.0M363.2,74.0v10.0M365.0,82.5h10.0M370.0,77.5v10.0M371.8,87.2h10.0M376.8,82.2v10.0M378.7,93.2h10.0M383.7,88.2v10.0M385.5,100.6h10.0M390.5,95.6v10.0M392.4,109.7h10.0M397.4,104.7v10.0M399.2,120.7h10.0M404.2,115.7v10.0M406.0,134.0h10.0M411.0,129.0v10.0M412.9,149.8h10.0M417.9,144.8v10.0M419.7,168.2h10.0M424.7,163.2v10.0M426.5,189.3h10.0M431.5,184.3v10.0M433.4,212.7h10.0M438.4,207.7v10.0M440.2,238.0h10.0M445.2,233.0v10.0M447.0,264.4h10.0M452.0,259.4v10.0M453.9,290.7h10.0M458.9,285.7v10.0M460.7,316.0h10.0M465.7,311.0v10.0M467.5,339.5h10.0M472.5,334.5v10.0M474.4,360.6h10.0M479.4,355.6v10.0M481.2,379.1h10.0M486.2,374.1v10.0M488.0,395.0h10.0M493.0,390.0v10.0M494.9,408.3h10.0M499.9,403.3v10.0M501.7,419.5h10.0M506.7,414.5v10.0M508.5,428.7h10.0M513.5,423.7v10.0M515.4,436.2h10.0M520.4,431.2v10.0M522.2,442.4h10.0M527.2,437.4v10.0M529.1,447.4h10.0M534.1,442.4v10.0M535.9,451.3h10.0M540.9,446.3v10.0M542.7,454.4h10.0M547.7,449.4v10.0M549.6,456.8h10.0M554.6,451.8v10.0M556.4,458.5h10.0M561.4,453.5v10.0M563.2,459.7h10.0M568.2,454.7v10.0M570.1,460.5h10.0M575.1,455.5v10.0M576.9,461.1h10.0M581.9,456.1v10.0M583.7,461.5h10.0M588.7,456.5v10.0M590.6,461.7h10.0M595.6,456.7v10.0M597.4,461.9h10.0M602.4,456.9v10.0M604.2,462.1h10.0M609.2,457.1v10.0M611.1,462.3h10.0M616.1,457.3v10.0M617.9,462.5h10.0M622.9,457.5v10.0M624.7,462.7h10.0M629.7,457.7v10.0M631.6,462.8h10.0M636.6,457.8v10.0M638.4,463.0h10.0M643.4,458.0v10.0M645.2,463.1h10.0M650.2,458.1v10.0" stroke="#8FBC8F" stroke-width="2.4" fill="none"/>
<path d="M171.8,267.9h0.01M178.6,268.1h0.01M185.5,268.3h0.01M192.3,268.7h0.01M199.1,269.2h0.01M206.0,269.9h0.01M212.8,270.8h0.01M219.6,271.9h0.01M226.5,273.4h0.01M233.3,275.1h0.01M240.1,277.1h0.01M247.0,279.3h0.01M253.8,281.7h0.01M260.6,284.2h0.01M267.5,286.8h0.01M274.3,289.6h0.01M281.2,292.3h0.01M288.0,295.2h0.01M294.8,298.0h0.01M301.7,300.9h0.01M308.5,303.8h0.01M315.3,306.7h0.01M322.2,309.6h0.01M329.0,312.5h0.01M335.8,315.4h0.01M342.7,318.3h0.01M349.5,321.2h0.01M356.3,324.1h0.01M363.2,327.0h0.01M370.0,329.9h0.01M376.8,332.8h0.01M383.7,335.6h0.01M390.5,338.5h0.01M397.4,341.3h0.01M404.2,344.0h0.01M411.0,346.7h0.01M417.9,349.3h0.01M424.7,351.8h0.01M431.5,354.1h0.01M438.4,356.2h0.01M445.2,358.1h0.01M452.0,359.7h0.01M458.9,361.0h0.01M465.7,362.0h0.01M472.5,362.8h0.01M479.4,363.4h0.01M486.2,363.8h0.01M493.0,364.1h0.01M499.9,364.4h0.01M506.7,364.5h0.01M513.5,364.6h0.01M520.4,364.7h0.01M527.2,364.8h0.01M534.1,364.8h0.01M540.9,364.9h0.01M547.7,364.9h0.01M554.6,364.9h0.01M561.4,364.9h0.01M568.2,365.0h0.01M575.1,365.0h0.01M581.9,365.0h0.01M588.7,365.0h0.01M595.6,365.0h0.01M602.4,365.0h0.01M609.2,365.0h0.01M616.1,365.0h0.01M622.9,365.0h0.01M629.7,365.0h0.01M636.6,365.0h0.01M643.4,365.0h0.01M650.2,365.0h0.01" stroke="#5F9EA0" stroke-width="7" stroke-linecap="round" fill="none" stroke-opacity="0.9"/>
<path d="M166.8,376.3h10.0M171.8,371.3v10.0M173.6,375.9h10.0M178.6,370.9v10.0M180.5,371.5h10.0M185.5,366.5v10.0M187.3,363.1h10.0M192.3,358.1v10.0M194.1,350.6h10.0M199.1,345.6v10.0M201.0,334.2h10.0M206.0,329.2v10.0M207.8,314.1h10.0M212.8,309.1v10.0M214.6,290.9h10.0M219.6,285.9v10.0M221.5,265.6h10.0M226.5,260.6v10.0M228.3,239.4h10.0M233.3,234.4v10.0M235.1,213.6h10.0M240.1,208.6v10.0M242.0,189.3h10.0M247.0,184.3v10.0M248.8,167.3h10.0M253.8,162.3v10.0M255.6,148.0h10.0M260.6,143.0v10.0M262.5,131.6h10.0M267.5,126.6v10.0M269.3,117.9h10.0M274.3,112.9v10.0M276.2,106.5h10.0M281.2,101.5v10.0M283.0,97.3h10.0M288.0,92.3v10.0M289.8,90.0h10.0M294.8,85.0v10.0M296.7,84.1h10.0M301.7,79.1v10.0M303.5,79.6h10.0M308.5,74.6v10.0M310.3,76.1h10.0M315.3,71.1v10.0M317.2,73.7h10.0M322.2,68.7v10.0M324.0,72.0h10.0M329.0,67.0v10.0M330.8,71.2h10.0M335.8,66.2v10.0M337.7,71.1h10.0M342.7,66.1v10.0M344.5,71.7h10.0M349.5,66.7v10.0M351.3,73.1h10.0M356.3,68.1v10.0M358.2,75.3h10.0M363.2,70.3v10.0M365.0,78.4h10.0M370.0,73.4v10.0M371.8,82.6h10.0M376.8,77.6v10.0M378.7,88.0h10.0M383.7,83.0v10.0M385.5,94.9h10.0M390.5,89.9v10.0M392.4,103.6h10.0M397.4,98.6v10.0M399.2,114.2h10.0M404.2,109.2v10.0M406.0,127.3h10.0M411.0,122.3v10.0M412.9,143.0h10.0M417.9,138.0v10.0M419.7,161.7h10.0M424.7,156.7v10.0M426.5,183.3h10.0M431.5,178.3v10.0M433.4,207.7h10.0M438.4,202.7v10.0M440.2,234.3h10.0M445.2,229.3v10.0M447.0,262.1h10.0M452.0,257.1v10.0M453.9,290.0h10.0M458.9,285.0v10.0M460.7,316.7h10.0M465.7,311.7v10.0M467.5,341.4h10.0M472.5,336.4v10.0M474.4,363.3h10.0M479.4,358.3v10.0M481.2,382.3h10.0M486.2,377.3v10.0M488.0,398.4h10.0M493.0,393.4v10.0M494.9,411.9h10.0M499.9,406.9v10.0M501.7,422.9h10.0M506.7,417.9v10.0M508.5,431.9h10.0M513.5,426.9v10.0M515.4,439.1h10.0M520.4,434.1v10.0M522.2,444.9h10.0M527.2,439.9v10.0M529.1,449.4h10.0M534.1,444.4v10.0M535.9,452.8h10.0M540.9,447.8v10.0M542.7,455.3h10.0M547.7,450.3v10.0M549.6,457.0h10.0M554.6,452.0v10.0M556.4,458.0h10.0M561.4,453.0v10.0M563.2,458.3h10.0M568.2,453.3v10.0M570.1,458.2h10.0M575.1,453.2v10.0M576.9,457.9h10.0M581.9,452.9v10.0M583.7,457.4h10.0M588.7,452.4v10.0M590.6,457.0h10.0M595.6,452.0v10.0M597.4,456.6h10.0M602.4,451.6v10.0M604.2,456.4h10.0M609.2,451.4v10.0M611.1,456.2h10.0M616.1,451.2v10.0M617.9,456.1h10.0M622.9,451.1v10.0M624.7,456.1h10.0M629.7,451.1v10.0M631.6,456.1h10.0M636.6,451.1v10.0M638.4,456.1h10.0M643.4,451.1v10.0M645.2,456.1h10.0M650.2,451.1v10.0" stroke="#5F9EA0" stroke-width="2.4" fill="none"/>
<path d="M171.8,270.5h0.01M178.6,270.6h0.01M185.5,270.8h0.01M192.3,271.1h0.01M199.1,271.5h0.01M206.0,272.1h0.01M212.8,272.9h0.01M219.6,273.9h0.01M226.5,275.3h0.01M233.3,277.0h0.01M240.1,279.0h0.01M247.0,281.2h0.01M253.8,283.7h0.01M260.6,286.3h0.01M267.5,289.0h0.01M274.3,291.9h0.01M281.2,294.8h0.01M288.0,297.7h0.01M294.8,300.7h0.01M301.7,303.7h0.01M308.5,306.7h0.01M315.3,309.7h0.01M322.2,312.7h0.01M329.0,315.7h0.01M335.8,318.7h0.01M342.7,321.7h0.01M349.5,324.7h0.01M356.3,327.7h0.01M363.2,330.7h0.01M370.0,333.6h0.01M376.8,336.6h0.01M383.7,339.5h0.01M390.5,342.3h0.01M397.4,345.0h0.01M404.2,347.6h0.01M411.0,350.0h0.01M417.9,352.2h0.01M424.7,354.1h0.01M431.5,355.7h0.01M438.4,357.0h0.01M445.2,358.0h0.01M452.0,358.8h0.01M458.9,359.3h0.01M465.7,359.7h0.01M472.5,360.0h0.01M479.4,360.1h0.01M486.2,360.3h0.01M493.0,360.4h0.01M499.9,360.4h0.01M506.7,360.5h0.01M513.5,360.5h0.01M520.4,360.5h0.01M527.2,360.5h0.01M534.1,360.5h0.01M540.9,360.5h0.01M547.7,360.6h0.01M554.6,360.6h0.01M561.4,360.6h0.01M568.2,360.6h0.01M575.1,360.6h0.01M581.9,360.6h0.01M588.7,360.6h0.01M595.6,360.6h0.01M602.4,360.6h0.01M609.2,360.6h0.01M616.1,360.6h0.01M622.9,360.6h0.01M629.7,360.6h0.01M636.6,360.6h0.01M643.4,360.6h0.01M650.2,360.6h0.01" stroke="#B0E0E6" stroke-width="7" stroke-linecap="round" fill="none" stroke-opacity="0.9"/>
<path d="M166.8,396.4h10.0M171.8,391.4v10.0M173.6,395.1h10.0M178.6,390.1v10.0M180.5,391.0h10.0M185.5,386.0v10.0M187.3,384.1h10.0M192.3,379.1v10.0M194.1,373.8h10.0M199.1,368.8v10.0M201.0,359.9h10.0M206.0,354.9v10.0M207.8,342.3h10.0M212.8,337.3v10.0M214.6,320.9h10.0M219.6,315.9v10.0M221.5,296.2h10.0M226.5,291.2v10.0M228.3,269.1h10.0M233.3,264.1v10.0M235.1,240.9h10.0M240.1,235.9v10.0M242.0,213.0h10.0M247.0,208.0v10.0M248.8,186.9h10.0M253.8,181.9v10.0M255.6,163.4h10.0M260.6,158.4v10.0M262.5,143.2h10.0M267.5,138.2v10.0M269.3,126.3h10.0M274.3,121.3v10.0M276.2,112.6h10.0M281.2,107.6v10.0M283.0,101.8h10.0M288.0,96.8v10.0M289.8,93.5h10.0M294.8,88.5v10.0M296.7,87.4h10.0M301.7,82.4v10.0M303.5,83.1h10.0M308.5,78.1v10.0M310.3,80.2h10.0M315.3,75.2v10.0M317.2,78.6h10.0M322.2,73.6v10.0M324.0,77.9h10.0M329.0,72.9v10.0M330.8,77.9h10.0M335.8,72.9v10.0M337.7,78.6h10.0M342.7,73.6v10.0M344.5,79.9h10.0M349.5,74.9v10.0M351.3,82.0h10.0M356.3,77.0v10.0M358.2,85.0h10.0M363.2,80.0v10.0M365.0,89.2h10.0M370.0,84.2v10.0M371.8,94.7h10.0M376.8,89.7v10.0M378.7,102.0h10.0M383.7,97.0v10.0M385.5,111.3h10.0M390.5,106.3v10.0M392.4,122.9h10.0M397.4,117.9v10.0M399.2,136.9h10.0M404.2,131.9v10.0M406.0,153.7h10.0M411.0,148.7v10.0M412.9,173.3h10.0M417.9,168.3v10.0M419.7,195.5h10.0M424.7,190.5v10.0M426.5,220.1h10.0M431.5,215.1v10.0M433.4,246.3h10.0M438.4,241.3v10.0M440.2,273.1h10.0M445.2,268.1v10.0M447.0,299.4h10.0M452.0,294.4v10.0M453.9,324.4h10.0M458.9,319.4v10.0M460.7,347.2h10.0M465.7,342.2v10.0M467.5,367.4h10.0M472.5,362.4v10.0M474.4,384.9h10.0M479.4,379.9v10.0M481.2,399.7h10.0M486.2,394.7v10.0M488.0,412.1h10.0M493.0,407.1v10.0M494.9,422.4h10.0M499.9,417.4v10.0M501.7,430.8h10.0M506.7,425.8v10.0M508.5,437.7h10.0M513.5,432.7v10.0M515.4,443.2h10.0M520.4,438.2v10.0M522.2,447.6h10.0M527.2,442.6v10.0M529.1,451.1h10.0M534.1,446.1v10.0M535.9,453.7h10.0M540.9,448.7v10.0M542.7,455.7h10.0M547.7,450.7v10.0M549.6,457.0h10.0M554.6,452.0v10.0M556.4,457.8h10.0M561.4,452.8v10.0M563.2,458.1h10.0M568.2,453.1v10.0M570.1,457.9h10.0M575.1,452.9v10.0M576.9,457.2h10.0M581.9,452.2v10.0M583.7,456.0h10.0M588.7,451.0v10.0M590.6,454.2h10.0M595.6,449.2v10.0M597.4,451.7h10.0M602.4,446.7v10.0M604.2,448.5h10.0M609.2,443.5v10.0M611.1,444.5h10.0M616.1,439.5v10.0M617.9,439.4h10.0M622.9,434.4v10.0M624.7,433.1h10.0M629.7,428.1v10.0M631.6,425.3h10.0M636.6,420.3v10.0M638.4,415.8h10.0M643.4,410.8v10.0M645.2,404.1h10.0M650.2,399.1v10.0" stroke="#B0E0E6" stroke-width="2.4" fill="none"/>
<path d="M162.3,266.6 L163.5,266.6 L164.8,266.6 L166.0,266.7 L167.3,266.7 L168.5,266.7 L169.7,266.8 L171.0,266.8 L172.2,266.8 L173.5,266.9 L174.7,266.9 L175.9,267.0 L177.2,267.0 L178.4,267.1 L179.7,267.1 L180.9,267.2 L182.1,267.2 L183.4,267.3 L184.6,267.3 L185.9,267.4 L187.1,267.5 L188.3,267.6 L189.6,267.6 L190.8,267.7 L192.1,267.8 L193.3,267.9 L194.5,268.0 L195.8,268.1 L197.0,268.2 L198.3,268.3 L199.5,268.4 L200.7,268.5 L202.0,268.6 L203.2,268.7 L204.5,268.9 L205.7,269.0 L206.9,269.1 L208.2,269.3 L209.4,269.4 L210.7,269.6 L211.9,269.8 L213.1,269.9 L214.4,270.1 L215.6,270.3 L216.9,270.5 L218.1,270.7 L219.3,270.9 L220.6,271.1 L221.8,271.3 L223.1,271.6 L224.3,271.8 L225.5,272.1 L226.8,272.3 L228.0,272.6 L229.3,272.8 L230.5,273.1 L231.7,273.4 L233.0,273.7 L234.2,274.0 L235.5,274.3 L236.7,274.6 L237.9,274.9 L239.2,275.2 L240.4,275.6 L241.7,275.9 L242.9,276.2 L244.1,276.6 L245.4,276.9 L246.6,277.3 L247.9,277.7 L249.1,278.0 L250.3,278.4 L251.6,278.8 L252.8,279.2 L254.1,279.6 L255.3,280.0 L256.5,280.4 L257.8,280.8 L259.0,281.2 L260.3,281.6 L261.5,282.0 L262.7,282.4 L264.0,282.9 L265.2,283.3 L266.5,283.7 L267.7,284.2 L268.9,284.6 L270.2,285.0 L271.4,285.5 L272.7,285.9 L273.9,286.4 L275.1,286.8 L276.4,287.3 L277.6,287.7 L278.9,288.2 L280.1,288.6 L281.3,289.1 L282.6,289.5 L283.8,290.0 L285.1,290.5 L286.3,290.9 L287.5,291.4 L288.8,291.9 L290.0,292.3 L291.3,292.8 L292.5,293.3 L293.7,293.7 L295.0,294.2 L296.2,294.7 L297.5,295.2 L298.7,295.6 L299.9,296.1 L301.2,296.6 L302.4,297.1 L303.7,297.5 L304.9,298.0 L306.1,298.5 L307.4,299.0 L308.6,299.5 L309.9,299.9 L311.1,300.4 L312.3,300.9 L313.6,301.4 L314.8,301.9 L316.1,302.4 L317.3,302.8 L318.5,303.3 L319.8,303.8 L321.0,304.3 L322.3,304.8 L323.5,305.3 L324.7,305.8 L326.0,306.2 L327.2,306.7 L328.5,307.2 L329.7,307.7 L330.9,308.2 L332.2,308.7 L333.4,309.2 L334.7,309.6 L335.9,310.1 L337.1,310.6 L338.4,311.1 L339.6,311.6 L340.9,312.1 L342.1,312.6 L343.3,313.0 L344.6,313.5 L345.8,314.0 L347.1,314.5 L348.3,315.0 L349.5,315.5 L350.8,316.0 L352.0,316.4 L353.3,316.9 L354.5,317.4 L355.7,317.9 L357.0,318.4 L358.2,318.9 L359.5,319.4 L360.7,319.8 L361.9,320.3 L363.2,320.8 L364.4,321.3 L365.6,321.8 L366.9,322.2 L368.1,322.7 L369.4,323.2 L370.6,323.7 L371.8,324.2 L373.1,324.7 L374.3,325.1 L375.6,325.6 L376.8,326.1 L378.0,326.6 L379.3,327.0 L380.5,327.5 L381.8,328.0 L383.0,328.5 L384.2,328.9 L385.5,329.4 L386.7,329.9 L388.0,330.4 L389.2,330.8 L390.4,331.3 L391.7,331.8 L392.9,332.2 L394.2,332.7 L395.4,333.2 L396.6,333.6 L397.9,334.1 L399.1,334.5 L400.4,335.0 L401.6,335.4 L402.8,335.9 L404.1,336.3 L405.3,336.8 L406.6,337.2 L407.8,337.7 L409.0,338.1 L410.3,338.6 L411.5,339.0 L412.8,339.4 L414.0,339.9 L415.2,340.3 L416.5,340.7 L417.7,341.1 L419.0,341.5 L420.2,341.9 L421.4,342.4 L422.7,342.8 L423.9,343.2 L425.2,343.6 L426.4,343.9 L427.6,344.3 L428.9,344.7 L430.1,345.1 L431.4,345.5 L432.6,345.8 L433.8,346.2 L435.1,346.5 L436.3,346.9 L437.6,347.2 L438.8,347.5 L440.0,347.9 L441.3,348.2 L442.5,348.5 L443.8,348.8 L445.0,349.1 L446.2,349.4 L447.5,349.7 L448.7,350.0 L450.0,350.2 L451.2,350.5 L452.4,350.8 L453.7,351.0 L454.9,351.3 L456.2,351.5 L457.4,351.7 L458.6,351.9 L459.9,352.2 L461.1,352.4 L462.4,352.6 L463.6,352.8 L464.8,352.9" stroke="#008080" stroke-width="2.6" fill="none" stroke-linejoin="round"/>
<path d="M162.3,365.1 L163.5,366.5 L164.8,367.7 L166.0,368.9 L167.3,369.9 L168.5,370.9 L169.7,371.8 L171.0,372.6 L172.2,373.3 L173.5,374.0 L174.7,374.5 L175.9,375.0 L177.2,375.3 L178.4,375.6 L179.7,375.8 L180.9,375.8 L182.1,375.8 L183.4,375.7 L184.6,375.5 L185.9,375.2 L187.1,374.9 L188.3,374.4 L189.6,373.8 L190.8,373.1 L192.1,372.4 L193.3,371.5 L194.5,370.6 L195.8,369.5 L197.0,368.4 L198.3,367.1 L199.5,365.8 L200.7,364.4 L202.0,362.8 L203.2,361.2 L204.5,359.5 L205.7,357.7 L206.9,355.8 L208.2,353.8 L209.4,351.7 L210.7,349.5 L211.9,347.2 L213.1,344.9 L214.4,342.4 L215.6,339.9 L216.9,337.3 L218.1,334.6 L219.3,331.8 L220.6,328.9 L221.8,326.0 L223.1,323.0 L224.3,319.9 L225.5,316.7 L226.8,313.5 L228.0,310.2 L229.3,306.9 L230.5,303.5 L231.7,300.1 L233.0,296.6 L234.2,293.1 L235.5,289.6 L236.7,286.0 L237.9,282.4 L239.2,278.7 L240.4,275.1 L241.7,271.4 L242.9,267.8 L244.1,264.1 L245.4,260.4 L246.6,256.8 L247.9,253.1 L249.1,249.5 L250.3,245.9 L251.6,242.3 L252.8,238.7 L254.1,235.2 L255.3,231.7 L256.5,228.3 L257.8,224.9 L259.0,221.5 L260.3,218.2 L261.5,215.0 L262.7,211.8 L264.0,208.7 L265.2,205.6 L266.5,202.6 L267.7,199.6 L268.9,196.7 L270.2,193.9 L271.4,191.2 L272.7,188.5 L273.9,185.9 L275.1,183.3 L276.4,180.8 L277.6,178.4 L278.9,176.1 L280.1,173.8 L281.3,171.6 L282.6,169.5 L283.8,167.4 L285.1,165.4 L286.3,163.5 L287.5,161.6 L288.8,159.8 L290.0,158.0 L291.3,156.3 L292.5,154.6 L293.7,153.0 L295.0,151.5 L296.2,150.0 L297.5,148.5 L298.7,147.1 L299.9,145.7 L301.2,144.4 L302.4,143.1 L303.7,141.9 L304.9,140.6 L306.1,139.5 L307.4,138.3 L308.6,137.2 L309.9,136.1 L311.1,135.0 L312.3,134.0 L313.6,133.0 L314.8,132.0 L316.1,131.1 L317.3,130.1 L318.5,129.2 L319.8,128.3 L321.0,127.5 L322.3,126.6 L323.5,125.8 L324.7,125.0 L326.0,124.3 L327.2,123.5 L328.5,122.8 L329.7,122.1 L330.9,121.5 L332.2,120.8 L333.4,120.2 L334.7,119.6 L335.9,119.1 L337.1,118.5 L338.4,118.0 L339.6,117.5 L340.9,117.1 L342.1,116.7 L343.3,116.3 L344.6,115.9 L345.8,115.6 L347.1,115.2 L348.3,115.0 L349.5,114.7 L350.8,114.5 L352.0,114.3 L353.3,114.1 L354.5,114.0 L355.7,113.9 L357.0,113.8 L358.2,113.7 L359.5,113.7 L360.7,113.7 L361.9,113.7 L363.2,113.8 L364.4,113.9 L365.6,114.0 L366.9,114.1 L368.1,114.3 L369.4,114.5 L370.6,114.7 L371.8,115.0 L373.1,115.2 L374.3,115.5 L375.6,115.9 L376.8,116.2 L378.0,116.6 L379.3,117.0 L380.5,117.5 L381.8,118.0 L383.0,118.5 L384.2,119.0 L385.5,119.6 L386.7,120.2 L388.0,120.8 L389.2,121.4 L390.4,122.1 L391.7,122.9 L392.9,123.6 L394.2,124.4 L395.4,125.2 L396.6,126.1 L397.9,127.0 L399.1,127.9 L400.4,128.9 L401.6,129.9 L402.8,131.0 L404.1,132.1 L405.3,133.2 L406.6,134.4 L407.8,135.6 L409.0,136.9 L410.3,138.2 L411.5,139.6 L412.8,141.0 L414.0,142.5 L415.2,144.0 L416.5,145.6 L417.7,147.2 L419.0,148.9 L420.2,150.6 L421.4,152.4 L422.7,154.2 L423.9,156.1 L425.2,158.1 L426.4,160.1 L427.6,162.2 L428.9,164.4 L430.1,166.6 L431.4,168.8 L432.6,171.2 L433.8,173.6 L435.1,176.1 L436.3,178.6 L437.6,181.2 L438.8,183.9 L440.0,186.6 L441.3,189.4 L442.5,192.3 L443.8,195.2 L445.0,198.2 L446.2,201.3 L447.5,204.4 L448.7,207.6 L450.0,210.9 L451.2,214.2 L452.4,217.6 L453.7,221.0 L454.9,224.5 L456.2,228.1 L457.4,231.7 L458.6,235.4 L459.9,239.1 L461.1,242.8 L462.4,246.6 L463.6,250.4 L464.8,254.3 L466.1,258.1 L467.3,262.0 L468.6,266.0 L469.8,269.9 L471.0,273.9 L472.3,277.9 L473.5,281.8 L474.8,285.8 L476.0,289.8 L477.2,293.8 L478.5,297.8 L479.7,301.7 L481.0,305.6 L482.2,309.5 L483.4,313.4 L484.7,317.3 L485.9,321.1 L487.2,324.9 L488.4,328.6 L489.6,332.3 L490.9,335.9 L492.1,339.5 L493.4,343.1 L494.6,346.6 L495.8,350.0 L497.1,353.4 L498.3,356.7 L499.6,360.0 L500.8,363.2 L502.0,366.3 L503.3,369.4 L504.5,372.4 L505.8,375.3 L507.0,378.2 L508.2,381.0 L509.5,383.7 L510.7,386.4 L512.0,389.0 L513.2,391.5 L514.4,394.0 L515.7,396.4 L516.9,398.8 L518.2,401.1 L519.4,403.3 L520.6,405.5 L521.9,407.6 L523.1,409.6 L524.4,411.6 L525.6,413.5 L526.8,415.4 L528.1,417.2 L529.3,419.0 L530.6,420.7 L531.8,422.3 L533.0,423.9 L534.3,425.5 L535.5,427.0 L536.8,428.5 L538.0,429.9 L539.2,431.3 L540.5,432.6 L541.7,433.9 L543.0,435.1 L544.2,436.3 L545.4,437.5 L546.7,438.6 L547.9,439.7 L549.2,440.8 L550.4,441.8 L551.6,442.8 L552.9,443.7 L554.1,444.7 L555.4,445.5 L556.6,446.4 L557.8,447.2 L559.1,448.0 L560.3,448.8 L561.6,449.6 L562.8,450.3 L564.0,451.0 L565.3,451.7 L566.5,452.3 L567.8,453.0 L569.0,453.6 L570.2,454.2 L571.5,454.8 L572.7,455.3 L574.0,455.8 L575.2,456.3 L576.4,456.8 L577.7,457.3 L578.9,457.8 L580.2,458.2 L581.4,458.7 L582.6,459.1 L583.9,459.5 L585.1,459.9 L586.4,460.2 L587.6,460.6 L588.8,461.0 L590.1,461.3 L591.3,461.6 L592.6,461.9 L593.8,462.2 L595.0,462.5 L596.3,462.8 L597.5,463.1 L598.8,463.4 L600.0,463.6 L601.2,463.9 L602.5,464.1 L603.7,464.3 L605.0,464.5 L606.2,464.8 L607.4,465.0 L608.7,465.2 L609.9,465.3 L611.2,465.5 L612.4,465.7 L613.6,465.9 L614.9,466.0 L616.1,466.2 L617.4,466.4 L618.6,466.5 L619.8,466.7 L621.1,466.8 L622.3,466.9 L623.5,467.1 L624.8,467.2 L626.0,467.3 L627.3,467.4 L628.5,467.5 L629.7,467.6 L631.0,467.7 L632.2,467.8 L633.5,467.9 L634.7,468.0 L635.9,468.1 L637.2,468.2 L638.4,468.3 L639.7,468.4 L640.9,468.5 L642.1,468.5 L643.4,468.6 L644.6,468.7 L645.9,468.7 L647.1,468.8 L648.3,468.9 L649.6,468.9 L650.8,469.0 L652.1,469.0 L653.3,469.1 L654.5,469.2 L655.8,469.2 L657.0,469.3" stroke="#008080" stroke-width="2.6" fill="none" stroke-linejoin="round"/>
<path d="M162.3,266.1 L163.5,266.1 L164.8,266.1 L166.0,266.1 L167.3,266.2 L168.5,266.2 L169.7,266.2 L171.0,266.3 L172.2,266.3 L173.5,266.3 L174.7,266.4 L175.9,266.4 L177.2,266.5 L178.4,266.5 L179.7,266.6 L180.9,266.6 L182.1,266.7 L183.4,266.7 L184.6,266.8 L185.9,266.8 L187.1,266.9 L188.3,267.0 L189.6,267.0 L190.8,267.1 L192.1,267.2 L193.3,267.3 L194.5,267.4 L195.8,267.5 L197.0,267.5 L198.3,267.6 L199.5,267.7 L200.7,267.9 L202.0,268.0 L203.2,268.1 L204.5,268.2 L205.7,268.3 L206.9,268.5 L208.2,268.6 L209.4,268.8 L210.7,268.9 L211.9,269.1 L213.1,269.2 L214.4,269.4 L215.6,269.6 L216.9,269.8 L218.1,270.0 L219.3,270.2 L220.6,270.4 L221.8,270.6 L223.1,270.8 L224.3,271.0 L225.5,271.3 L226.8,271.5 L228.0,271.8 L229.3,272.0 L230.5,272.3 L231.7,272.6 L233.0,272.9 L234.2,273.1 L235.5,273.4 L236.7,273.7 L237.9,274.1 L239.2,274.4 L240.4,274.7 L241.7,275.0 L242.9,275.4 L244.1,275.7 L245.4,276.1 L246.6,276.4 L247.9,276.8 L249.1,277.1 L250.3,277.5 L251.6,277.9 L252.8,278.3 L254.1,278.7 L255.3,279.1 L256.5,279.5 L257.8,279.9 L259.0,280.3 L260.3,280.7 L261.5,281.1 L262.7,281.5 L264.0,281.9 L265.2,282.4 L266.5,282.8 L267.7,283.2 L268.9,283.7 L270.2,284.1 L271.4,284.5 L272.7,285.0 L273.9,285.4 L275.1,285.9 L276.4,286.3 L277.6,286.8 L278.9,287.2 L280.1,287.7 L281.3,288.1 L282.6,288.6 L283.8,289.1 L285.1,289.5 L286.3,290.0 L287.5,290.5 L288.8,290.9 L290.0,291.4 L291.3,291.9 L292.5,292.3 L293.7,292.8 L295.0,293.3 L296.2,293.8 L297.5,294.2 L298.7,294.7 L299.9,295.2 L301.2,295.7 L302.4,296.2 L303.7,296.6 L304.9,297.1 L306.1,297.6 L307.4,298.1 L308.6,298.6 L309.9,299.0 L311.1,299.5 L312.3,300.0 L313.6,300.5 L314.8,301.0 L316.1,301.5 L317.3,301.9 L318.5,302.4 L319.8,302.9 L321.0,303.4 L322.3,303.9 L323.5,304.4 L324.7,304.9 L326.0,305.3 L327.2,305.8 L328.5,306.3 L329.7,306.8 L330.9,307.3 L332.2,307.8 L333.4,308.3 L334.7,308.8 L335.9,309.2 L337.1,309.7 L338.4,310.2 L339.6,310.7 L340.9,311.2 L342.1,311.7 L343.3,312.2 L344.6,312.7 L345.8,313.2 L347.1,313.6 L348.3,314.1 L349.5,314.6 L350.8,315.1 L352.0,315.6 L353.3,316.1 L354.5,316.6 L355.7,317.1 L357.0,317.5 L358.2,318.0 L359.5,318.5 L360.7,319.0 L361.9,319.5 L363.2,320.0 L364.4,320.5 L365.6,320.9 L366.9,321.4 L368.1,321.9 L369.4,322.4 L370.6,322.9 L371.8,323.4 L373.1,323.8 L374.3,324.3 L375.6,324.8 L376.8,325.3 L378.0,325.8 L379.3,326.2 L380.5,326.7 L381.8,327.2 L383.0,327.7 L384.2,328.2 L385.5,328.6 L386.7,329.1 L388.0,329.6 L389.2,330.0 L390.4,330.5 L391.7,331.0 L392.9,331.5 L394.2,331.9 L395.4,332.4 L396.6,332.9 L397.9,333.3 L399.1,333.8 L400.4,334.2 L401.6,334.7 L402.8,335.1 L404.1,335.6 L405.3,336.1 L406.6,336.5 L407.8,337.0 L409.0,337.4 L410.3,337.8 L411.5,338.3 L412.8,338.7 L414.0,339.1 L415.2,339.6 L416.5,340.0 L417.7,340.4 L419.0,340.8 L420.2,341.3 L421.4,341.7 L422.7,342.1 L423.9,342.5 L425.2,342.9 L426.4,343.3 L427.6,343.7 L428.9,344.1 L430.1,344.4 L431.4,344.8 L432.6,345.2 L433.8,345.5 L435.1,345.9 L436.3,346.3 L437.6,346.6 L438.8,346.9 L440.0,347.3 L441.3,347.6 L442.5,347.9 L443.8,348.2 L445.0,348.5 L446.2,348.8 L447.5,349.1 L448.7,349.4 L450.0,349.7 L451.2,350.0 L452.4,350.2 L453.7,350.5 L454.9,350.7 L456.2,351.0 L457.4,351.2 L458.6,351.4 L459.9,351.6 L461.1,351.8 L462.4,352.0 L463.6,352.2 L464.8,352.4" stroke="#000080" stroke-width="2.6" fill="none" stroke-linejoin="round"/>
<path d="M162.3,364.2 L163.5,365.9 L164.8,367.5 L166.0,369.0 L167.3,370.3 L168.5,371.5 L169.7,372.5 L171.0,373.4 L172.2,374.2 L173.5,374.8 L174.7,375.3 L175.9,375.6 L177.2,375.8 L178.4,375.9 L179.7,375.9 L180.9,375.7 L182.1,375.4 L183.4,375.0 L184.6,374.5 L185.9,373.8 L187.1,373.1 L188.3,372.3 L189.6,371.3 L190.8,370.3 L192.1,369.2 L193.3,368.0 L194.5,366.7 L195.8,365.3 L197.0,363.8 L198.3,362.3 L199.5,360.6 L200.7,358.9 L202.0,357.1 L203.2,355.2 L204.5,353.2 L205.7,351.1 L206.9,349.0 L208.2,346.8 L209.4,344.4 L210.7,342.0 L211.9,339.5 L213.1,336.9 L214.4,334.3 L215.6,331.5 L216.9,328.7 L218.1,325.7 L219.3,322.7 L220.6,319.7 L221.8,316.5 L223.1,313.3 L224.3,310.0 L225.5,306.6 L226.8,303.2 L228.0,299.7 L229.3,296.2 L230.5,292.6 L231.7,289.0 L233.0,285.3 L234.2,281.6 L235.5,277.9 L236.7,274.2 L237.9,270.4 L239.2,266.6 L240.4,262.8 L241.7,259.0 L242.9,255.2 L244.1,251.4 L245.4,247.6 L246.6,243.8 L247.9,240.1 L249.1,236.4 L250.3,232.7 L251.6,229.0 L252.8,225.4 L254.1,221.9 L255.3,218.3 L256.5,214.9 L257.8,211.4 L259.0,208.1 L260.3,204.8 L261.5,201.5 L262.7,198.4 L264.0,195.3 L265.2,192.2 L266.5,189.3 L267.7,186.4 L268.9,183.5 L270.2,180.8 L271.4,178.1 L272.7,175.5 L273.9,172.9 L275.1,170.5 L276.4,168.1 L277.6,165.8 L278.9,163.5 L280.1,161.4 L281.3,159.3 L282.6,157.2 L283.8,155.3 L285.1,153.3 L286.3,151.5 L287.5,149.7 L288.8,148.0 L290.0,146.4 L291.3,144.8 L292.5,143.2 L293.7,141.7 L295.0,140.3 L296.2,138.9 L297.5,137.5 L298.7,136.2 L299.9,135.0 L301.2,133.7 L302.4,132.6 L303.7,131.4 L304.9,130.3 L306.1,129.2 L307.4,128.2 L308.6,127.2 L309.9,126.2 L311.1,125.2 L312.3,124.3 L313.6,123.4 L314.8,122.5 L316.1,121.6 L317.3,120.8 L318.5,120.0 L319.8,119.2 L321.0,118.4 L322.3,117.7 L323.5,116.9 L324.7,116.3 L326.0,115.6 L327.2,114.9 L328.5,114.3 L329.7,113.7 L330.9,113.1 L332.2,112.6 L333.4,112.0 L334.7,111.5 L335.9,111.0 L337.1,110.6 L338.4,110.2 L339.6,109.8 L340.9,109.4 L342.1,109.0 L343.3,108.7 L344.6,108.4 L345.8,108.2 L347.1,108.0 L348.3,107.8 L349.5,107.6 L350.8,107.5 L352.0,107.3 L353.3,107.3 L354.5,107.2 L355.7,107.2 L357.0,107.2 L358.2,107.2 L359.5,107.3 L360.7,107.4 L361.9,107.5 L363.2,107.7 L364.4,107.9 L365.6,108.1 L366.9,108.3 L368.1,108.6 L369.4,108.9 L370.6,109.2 L371.8,109.6 L373.1,110.0 L374.3,110.4 L375.6,110.8 L376.8,111.3 L378.0,111.8 L379.3,112.4 L380.5,113.0 L381.8,113.6 L383.0,114.2 L384.2,114.9 L385.5,115.6 L386.7,116.4 L388.0,117.2 L389.2,118.0 L390.4,118.9 L391.7,119.8 L392.9,120.7 L394.2,121.7 L395.4,122.7 L396.6,123.8 L397.9,124.9 L399.1,126.0 L400.4,127.2 L401.6,128.4 L402.8,129.7 L404.1,131.1 L405.3,132.5 L406.6,133.9 L407.8,135.4 L409.0,136.9 L410.3,138.5 L411.5,140.2 L412.8,141.9 L414.0,143.7 L415.2,145.5 L416.5,147.4 L417.7,149.3 L419.0,151.3 L420.2,153.4 L421.4,155.6 L422.7,157.8 L423.9,160.0 L425.2,162.4 L426.4,164.8 L427.6,167.3 L428.9,169.8 L430.1,172.5 L431.4,175.1 L432.6,177.9 L433.8,180.8 L435.1,183.7 L436.3,186.6 L437.6,189.7 L438.8,192.8 L440.0,196.0 L441.3,199.3 L442.5,202.6 L443.8,206.0 L445.0,209.5 L446.2,213.0 L447.5,216.6 L448.7,220.3 L450.0,224.0 L451.2,227.7 L452.4,231.5 L453.7,235.4 L454.9,239.3 L456.2,243.3 L457.4,247.3 L458.6,251.3 L459.9,255.4 L461.1,259.5 L462.4,263.6 L463.6,267.7 L464.8,271.9 L466.1,276.0 L467.3,280.2 L468.6,284.3 L469.8,288.5 L471.0,292.6 L472.3,296.8 L473.5,300.9 L474.8,305.0 L476.0,309.0 L477.2,313.1 L478.5,317.1 L479.7,321.0 L481.0,324.9 L482.2,328.8 L483.4,332.6 L484.7,336.4 L485.9,340.1 L487.2,343.7 L488.4,347.3 L489.6,350.9 L490.9,354.3 L492.1,357.7 L493.4,361.1 L494.6,364.4 L495.8,367.6 L497.1,370.7 L498.3,373.7 L499.6,376.7 L500.8,379.6 L502.0,382.5 L503.3,385.3 L504.5,388.0 L505.8,390.6 L507.0,393.2 L508.2,395.7 L509.5,398.1 L510.7,400.5 L512.0,402.8 L513.2,405.0 L514.4,407.2 L515.7,409.3 L516.9,411.3 L518.2,413.3 L519.4,415.2 L520.6,417.1 L521.9,418.9 L523.1,420.7 L524.4,422.3 L525.6,424.0 L526.8,425.6 L528.1,427.1 L529.3,428.6 L530.6,430.1 L531.8,431.5 L533.0,432.8 L534.3,434.1 L535.5,435.4 L536.8,436.6 L538.0,437.8 L539.2,438.9 L540.5,440.0 L541.7,441.1 L543.0,442.1 L544.2,443.1 L545.4,444.1 L546.7,445.0 L547.9,445.9 L549.2,446.8 L550.4,447.6 L551.6,448.4 L552.9,449.2 L554.1,450.0 L555.4,450.7 L556.6,451.4 L557.8,452.1 L559.1,452.7 L560.3,453.4 L561.6,454.0 L562.8,454.6 L564.0,455.1 L565.3,455.7 L566.5,456.2 L567.8,456.7 L569.0,457.2 L570.2,457.7 L571.5,458.1 L572.7,458.6 L574.0,459.0 L575.2,459.4 L576.4,459.8 L577.7,460.2 L578.9,460.6 L580.2,460.9 L581.4,461.3 L582.6,461.6 L583.9,461.9 L585.1,462.2 L586.4,462.5 L587.6,462.8 L588.8,463.1 L590.1,463.4 L591.3,463.6 L592.6,463.9 L593.8,464.1 L595.0,464.4 L596.3,464.6 L597.5,464.8 L598.8,465.0 L600.0,465.2 L601.2,465.4 L602.5,465.6 L603.7,465.8 L605.0,465.9 L606.2,466.1 L607.4,466.3 L608.7,466.4 L609.9,466.6 L611.2,466.7 L612.4,466.9 L613.6,467.0 L614.9,467.1 L616.1,467.2 L617.4,467.4 L618.6,467.5 L619.8,467.6 L621.1,467.7 L622.3,467.8 L623.5,467.9 L624.8,468.0 L626.0,468.1 L627.3,468.2 L628.5,468.3 L629.7,468.4 L631.0,468.4 L632.2,468.5 L633.5,468.6 L634.7,468.7 L635.9,468.7 L637.2,468.8 L638.4,468.9 L639.7,468.9 L640.9,469.0 L642.1,469.0 L643.4,469.1 L644.6,469.2 L645.9,469.2 L647.1,469.3 L648.3,469.3 L649.6,469.3 L650.8,469.4 L652.1,469.4 L653.3,469.5 L654.5,469.5 L655.8,469.6 L657.0,469.6" stroke="#000080" stroke-width="2.6" fill="none" stroke-linejoin="round"/>
<path d="M162.3,265.6 L163.5,265.6 L164.8,265.6 L166.0,265.7 L167.3,265.7 L168.5,265.7 L169.7,265.8 L171.0,265.8 L172.2,265.8 L173.5,265.9 L174.7,265.9 L175.9,266.0 L177.2,266.0 L178.4,266.1 L179.7,266.1 L180.9,266.2 L182.1,266.2 L183.4,266.3 L184.6,266.3 L185.9,266.4 L187.1,266.5 L188.3,266.5 L189.6,266.6 L190.8,266.7 L192.1,266.8 L193.3,266.9 L194.5,267.0 L195.8,267.1 L197.0,267.2 L198.3,267.3 L199.5,267.4 L200.7,267.5 L202.0,267.6 L203.2,267.8 L204.5,267.9 L205.7,268.0 L206.9,268.2 L208.2,268.3 L209.4,268.5 L210.7,268.7 L211.9,268.8 L213.1,269.0 L214.4,269.2 L215.6,269.4 L216.9,269.6 L218.1,269.8 L219.3,270.1 L220.6,270.3 L221.8,270.5 L223.1,270.8 L224.3,271.0 L225.5,271.3 L226.8,271.5 L228.0,271.8 L229.3,272.1 L230.5,272.4 L231.7,272.7 L233.0,273.0 L234.2,273.3 L235.5,273.6 L236.7,274.0 L237.9,274.3 L239.2,274.7 L240.4,275.0 L241.7,275.4 L242.9,275.7 L244.1,276.1 L245.4,276.5 L246.6,276.9 L247.9,277.2 L249.1,277.6 L250.3,278.0 L251.6,278.4 L252.8,278.8 L254.1,279.3 L255.3,279.7 L256.5,280.1 L257.8,280.5 L259.0,281.0 L260.3,281.4 L261.5,281.8 L262.7,282.3 L264.0,282.7 L265.2,283.2 L266.5,283.6 L267.7,284.1 L268.9,284.5 L270.2,285.0 L271.4,285.4 L272.7,285.9 L273.9,286.4 L275.1,286.8 L276.4,287.3 L277.6,287.8 L278.9,288.3 L280.1,288.7 L281.3,289.2 L282.6,289.7 L283.8,290.2 L285.1,290.6 L286.3,291.1 L287.5,291.6 L288.8,292.1 L290.0,292.6 L291.3,293.1 L292.5,293.6 L293.7,294.0 L295.0,294.5 L296.2,295.0 L297.5,295.5 L298.7,296.0 L299.9,296.5 L301.2,297.0 L302.4,297.5 L303.7,298.0 L304.9,298.5 L306.1,299.0 L307.4,299.5 L308.6,300.0 L309.9,300.4 L311.1,300.9 L312.3,301.4 L313.6,301.9 L314.8,302.4 L316.1,302.9 L317.3,303.4 L318.5,303.9 L319.8,304.4 L321.0,304.9 L322.3,305.4 L323.5,305.9 L324.7,306.4 L326.0,306.9 L327.2,307.4 L328.5,307.9 L329.7,308.4 L330.9,308.9 L332.2,309.4 L333.4,309.9 L334.7,310.4 L335.9,310.9 L337.1,311.4 L338.4,311.9 L339.6,312.4 L340.9,312.9 L342.1,313.4 L343.3,313.9 L344.6,314.4 L345.8,314.9 L347.1,315.4 L348.3,315.9 L349.5,316.4 L350.8,316.9 L352.0,317.4 L353.3,317.9 L354.5,318.4 L355.7,318.9 L357.0,319.4 L358.2,319.9 L359.5,320.4 L360.7,320.9 L361.9,321.4 L363.2,321.9 L364.4,322.4 L365.6,322.9 L366.9,323.4 L368.1,323.9 L369.4,324.4 L370.6,324.9 L371.8,325.4 L373.1,325.9 L374.3,326.4 L375.6,326.9 L376.8,327.4 L378.0,327.9 L379.3,328.3 L380.5,328.8 L381.8,329.3 L383.0,329.8 L384.2,330.3 L385.5,330.8 L386.7,331.3 L388.0,331.8 L389.2,332.2 L390.4,332.7 L391.7,333.2 L392.9,333.7 L394.2,334.2 L395.4,334.6 L396.6,335.1 L397.9,335.6 L399.1,336.1 L400.4,336.5 L401.6,337.0 L402.8,337.5 L404.1,337.9 L405.3,338.4 L406.6,338.9 L407.8,339.3 L409.0,339.8 L410.3,340.2 L411.5,340.7 L412.8,341.1 L414.0,341.6 L415.2,342.0 L416.5,342.4 L417.7,342.9 L419.0,343.3 L420.2,343.7 L421.4,344.2 L422.7,344.6 L423.9,345.0 L425.2,345.4 L426.4,345.8 L427.6,346.2 L428.9,346.6 L430.1,347.0 L431.4,347.4 L432.6,347.7 L433.8,348.1 L435.1,348.5 L436.3,348.8 L437.6,349.2 L438.8,349.5 L440.0,349.8 L441.3,350.2 L442.5,350.5 L443.8,350.8 L445.0,351.1 L446.2,351.4 L447.5,351.7 L448.7,352.0 L450.0,352.3 L451.2,352.5 L452.4,352.8 L453.7,353.0 L454.9,353.3 L456.2,353.5 L457.4,353.7 L458.6,354.0 L459.9,354.2 L461.1,354.4 L462.4,354.6 L463.6,354.8 L464.8,354.9" stroke="#800080" stroke-width="2.6" fill="none" stroke-linejoin="round"/>
<path d="M162.3,342.2 L163.5,343.3 L164.8,344.3 L166.0,345.2 L167.3,345.9 L168.5,346.4 L169.7,346.9 L171.0,347.2 L172.2,347.3 L173.5,347.3 L174.7,347.2 L175.9,346.9 L177.2,346.5 L178.4,346.0 L179.7,345.3 L180.9,344.5 L182.1,343.6 L183.4,342.5 L184.6,341.3 L185.9,340.0 L187.1,338.5 L188.3,336.9 L189.6,335.2 L190.8,333.4 L192.1,331.4 L193.3,329.3 L194.5,327.1 L195.8,324.7 L197.0,322.3 L198.3,319.7 L199.5,317.1 L200.7,314.3 L202.0,311.4 L203.2,308.5 L204.5,305.4 L205.7,302.2 L206.9,299.0 L208.2,295.7 L209.4,292.3 L210.7,288.8 L211.9,285.3 L213.1,281.7 L214.4,278.0 L215.6,274.3 L216.9,270.6 L218.1,266.8 L219.3,263.0 L220.6,259.2 L221.8,255.3 L223.1,251.4 L224.3,247.6 L225.5,243.7 L226.8,239.8 L228.0,236.0 L229.3,232.1 L230.5,228.3 L231.7,224.5 L233.0,220.8 L234.2,217.0 L235.5,213.3 L236.7,209.7 L237.9,206.1 L239.2,202.5 L240.4,199.1 L241.7,195.6 L242.9,192.2 L244.1,188.9 L245.4,185.7 L246.6,182.5 L247.9,179.4 L249.1,176.3 L250.3,173.3 L251.6,170.4 L252.8,167.6 L254.1,164.8 L255.3,162.1 L256.5,159.4 L257.8,156.9 L259.0,154.4 L260.3,152.0 L261.5,149.6 L262.7,147.3 L264.0,145.1 L265.2,142.9 L266.5,140.8 L267.7,138.8 L268.9,136.8 L270.2,134.9 L271.4,133.1 L272.7,131.3 L273.9,129.6 L275.1,127.9 L276.4,126.3 L277.6,124.8 L278.9,123.3 L280.1,121.8 L281.3,120.4 L282.6,119.1 L283.8,117.8 L285.1,116.5 L286.3,115.3 L287.5,114.1 L288.8,113.0 L290.0,111.9 L291.3,110.9 L292.5,109.9 L293.7,108.9 L295.0,108.0 L296.2,107.1 L297.5,106.3 L298.7,105.5 L299.9,104.7 L301.2,103.9 L302.4,103.2 L303.7,102.6 L304.9,101.9 L306.1,101.3 L307.4,100.7 L308.6,100.1 L309.9,99.6 L311.1,99.1 L312.3,98.6 L313.6,98.1 L314.8,97.7 L316.1,97.3 L317.3,96.9 L318.5,96.6 L319.8,96.2 L321.0,95.9 L322.3,95.6 L323.5,95.4 L324.7,95.1 L326.0,94.9 L327.2,94.7 L328.5,94.5 L329.7,94.3 L330.9,94.2 L332.2,94.1 L333.4,94.0 L334.7,93.9 L335.9,93.8 L337.1,93.8 L338.4,93.8 L339.6,93.8 L340.9,93.8 L342.1,93.8 L343.3,93.9 L344.6,94.0 L345.8,94.1 L347.1,94.2 L348.3,94.3 L349.5,94.5 L350.8,94.7 L352.0,94.9 L353.3,95.1 L354.5,95.3 L355.7,95.6 L357.0,95.9 L358.2,96.2 L359.5,96.5 L360.7,96.9 L361.9,97.3 L363.2,97.7 L364.4,98.1 L365.6,98.6 L366.9,99.1 L368.1,99.6 L369.4,100.1 L370.6,100.7 L371.8,101.3 L373.1,101.9 L374.3,102.5 L375.6,103.2 L376.8,103.9 L378.0,104.7 L379.3,105.5 L380.5,106.3 L381.8,107.1 L383.0,108.0 L384.2,108.9 L385.5,109.9 L386.7,110.9 L388.0,111.9 L389.2,113.0 L390.4,114.1 L391.7,115.3 L392.9,116.5 L394.2,117.8 L395.4,119.1 L396.6,120.5 L397.9,121.9 L399.1,123.4 L400.4,124.9 L401.6,126.4 L402.8,128.1 L404.1,129.8 L405.3,131.5 L406.6,133.3 L407.8,135.2 L409.0,137.1 L410.3,139.1 L411.5,141.2 L412.8,143.3 L414.0,145.5 L415.2,147.8 L416.5,150.1 L417.7,152.5 L419.0,155.0 L420.2,157.6 L421.4,160.2 L422.7,162.9 L423.9,165.7 L425.2,168.6 L426.4,171.6 L427.6,174.6 L428.9,177.7 L430.1,180.9 L431.4,184.1 L432.6,187.5 L433.8,190.9 L435.1,194.4 L436.3,197.9 L437.6,201.6 L438.8,205.3 L440.0,209.0 L441.3,212.9 L442.5,216.8 L443.8,220.8 L445.0,224.8 L446.2,228.9 L447.5,233.0 L448.7,237.2 L450.0,241.4 L451.2,245.7 L452.4,250.0 L453.7,254.3 L454.9,258.7 L456.2,263.0 L457.4,267.4 L458.6,271.8 L459.9,276.2 L461.1,280.6 L462.4,285.0 L463.6,289.4 L464.8,293.8 L466.1,298.1 L467.3,302.5 L468.6,306.7 L469.8,311.0 L471.0,315.2 L472.3,319.4 L473.5,323.5 L474.8,327.6 L476.0,331.6 L477.2,335.5 L478.5,339.4 L479.7,343.2 L481.0,347.0 L482.2,350.7 L483.4,354.3 L484.7,357.8 L485.9,361.3 L487.2,364.7 L488.4,368.0 L489.6,371.2 L490.9,374.4 L492.1,377.5 L493.4,380.5 L494.6,383.4 L495.8,386.3 L497.1,389.0 L498.3,391.7 L499.6,394.4 L500.8,396.9 L502.0,399.4 L503.3,401.8 L504.5,404.1 L505.8,406.4 L507.0,408.6 L508.2,410.7 L509.5,412.8 L510.7,414.8 L512.0,416.7 L513.2,418.6 L514.4,420.4 L515.7,422.1 L516.9,423.8 L518.2,425.5 L519.4,427.1 L520.6,428.6 L521.9,430.1 L523.1,431.5 L524.4,432.9 L525.6,434.3 L526.8,435.6 L528.1,436.8 L529.3,438.0 L530.6,439.2 L531.8,440.3 L533.0,441.4 L534.3,442.4 L535.5,443.5 L536.8,444.4 L538.0,445.4 L539.2,446.3 L540.5,447.2 L541.7,448.0 L543.0,448.8 L544.2,449.6 L545.4,450.4 L546.7,451.1 L547.9,451.8 L549.2,452.5 L550.4,453.2 L551.6,453.8 L552.9,454.4 L554.1,455.0 L555.4,455.6 L556.6,456.1 L557.8,456.6 L559.1,457.1 L560.3,457.6 L561.6,458.1 L562.8,458.6 L564.0,459.0 L565.3,459.4 L566.5,459.8 L567.8,460.2 L569.0,460.6 L570.2,461.0 L571.5,461.3 L572.7,461.7 L574.0,462.0 L575.2,462.3 L576.4,462.6 L577.7,462.9 L578.9,463.2 L580.2,463.5 L581.4,463.7 L582.6,464.0 L583.9,464.2 L585.1,464.4 L586.4,464.7 L587.6,464.9 L588.8,465.1 L590.1,465.3 L591.3,465.5 L592.6,465.7 L593.8,465.9 L595.0,466.0 L596.3,466.2 L597.5,466.4 L598.8,466.5 L600.0,466.7 L601.2,466.8 L602.5,467.0 L603.7,467.1 L605.0,467.2 L606.2,467.3 L607.4,467.5 L608.7,467.6 L609.9,467.7 L611.2,467.8 L612.4,467.9 L613.6,468.0 L614.9,468.1 L616.1,468.2 L617.4,468.3 L618.6,468.4 L619.8,468.4 L621.1,468.5 L622.3,468.6 L623.5,468.7 L624.8,468.7 L626.0,468.8 L627.3,468.9 L628.5,468.9 L629.7,469.0 L631.0,469.1 L632.2,469.1 L633.5,469.2 L634.7,469.2 L635.9,469.3 L637.2,469.3 L638.4,469.4 L639.7,469.4 L640.9,469.5 L642.1,469.5 L643.4,469.5 L644.6,469.6 L645.9,469.6 L647.1,469.7 L648.3,469.7 L649.6,469.7 L650.8,469.8 L652.1,469.8 L653.3,469.8 L654.5,469.8 L655.8,469.9 L657.0,469.9" stroke="#800080" stroke-width="2.6" fill="none" stroke-linejoin="round"/>
<path d="M162.3,266.7 L163.5,266.7 L164.8,266.7 L166.0,266.8 L167.3,266.8 L168.5,266.8 L169.7,266.8 L171.0,266.9 L172.2,266.9 L173.5,266.9 L174.7,266.9 L175.9,267.0 L177.2,267.0 L178.4,267.1 L179.7,267.1 L180.9,267.1 L182.1,267.2 L183.4,267.2 L184.6,267.3 L185.9,267.4 L187.1,267.4 L188.3,267.5 L189.6,267.5 L190.8,267.6 L192.1,267.7 L193.3,267.8 L194.5,267.9 L195.8,268.0 L197.0,268.0 L198.3,268.1 L199.5,268.3 L200.7,268.4 L202.0,268.5 L203.2,268.6 L204.5,268.7 L205.7,268.9 L206.9,269.0 L208.2,269.2 L209.4,269.3 L210.7,269.5 L211.9,269.7 L213.1,269.9 L214.4,270.1 L215.6,270.3 L216.9,270.5 L218.1,270.7 L219.3,270.9 L220.6,271.2 L221.8,271.4 L223.1,271.7 L224.3,271.9 L225.5,272.2 L226.8,272.5 L228.0,272.8 L229.3,273.1 L230.5,273.4 L231.7,273.7 L233.0,274.0 L234.2,274.4 L235.5,274.7 L236.7,275.1 L237.9,275.4 L239.2,275.8 L240.4,276.2 L241.7,276.6 L242.9,277.0 L244.1,277.4 L245.4,277.8 L246.6,278.2 L247.9,278.6 L249.1,279.0 L250.3,279.4 L251.6,279.9 L252.8,280.3 L254.1,280.8 L255.3,281.2 L256.5,281.7 L257.8,282.1 L259.0,282.6 L260.3,283.1 L261.5,283.5 L262.7,284.0 L264.0,284.5 L265.2,285.0 L266.5,285.4 L267.7,285.9 L268.9,286.4 L270.2,286.9 L271.4,287.4 L272.7,287.9 L273.9,288.4 L275.1,288.9 L276.4,289.4 L277.6,289.9 L278.9,290.4 L280.1,290.9 L281.3,291.4 L282.6,291.9 L283.8,292.4 L285.1,292.9 L286.3,293.4 L287.5,294.0 L288.8,294.5 L290.0,295.0 L291.3,295.5 L292.5,296.0 L293.7,296.5 L295.0,297.1 L296.2,297.6 L297.5,298.1 L298.7,298.6 L299.9,299.1 L301.2,299.7 L302.4,300.2 L303.7,300.7 L304.9,301.2 L306.1,301.7 L307.4,302.3 L308.6,302.8 L309.9,303.3 L311.1,303.8 L312.3,304.4 L313.6,304.9 L314.8,305.4 L316.1,305.9 L317.3,306.5 L318.5,307.0 L319.8,307.5 L321.0,308.0 L322.3,308.6 L323.5,309.1 L324.7,309.6 L326.0,310.1 L327.2,310.7 L328.5,311.2 L329.7,311.7 L330.9,312.2 L332.2,312.8 L333.4,313.3 L334.7,313.8 L335.9,314.4 L337.1,314.9 L338.4,315.4 L339.6,315.9 L340.9,316.5 L342.1,317.0 L343.3,317.5 L344.6,318.0 L345.8,318.6 L347.1,319.1 L348.3,319.6 L349.5,320.2 L350.8,320.7 L352.0,321.2 L353.3,321.7 L354.5,322.3 L355.7,322.8 L357.0,323.3 L358.2,323.8 L359.5,324.4 L360.7,324.9 L361.9,325.4 L363.2,325.9 L364.4,326.5 L365.6,327.0 L366.9,327.5 L368.1,328.0 L369.4,328.6 L370.6,329.1 L371.8,329.6 L373.1,330.1 L374.3,330.7 L375.6,331.2 L376.8,331.7 L378.0,332.2 L379.3,332.7 L380.5,333.3 L381.8,333.8 L383.0,334.3 L384.2,334.8 L385.5,335.3 L386.7,335.9 L388.0,336.4 L389.2,336.9 L390.4,337.4 L391.7,337.9 L392.9,338.4 L394.2,339.0 L395.4,339.5 L396.6,340.0 L397.9,340.5 L399.1,341.0 L400.4,341.5 L401.6,342.0 L402.8,342.5 L404.1,343.0 L405.3,343.5 L406.6,344.0 L407.8,344.5 L409.0,345.0 L410.3,345.5 L411.5,346.0 L412.8,346.5 L414.0,347.0 L415.2,347.5 L416.5,347.9 L417.7,348.4 L419.0,348.9 L420.2,349.4 L421.4,349.8 L422.7,350.3 L423.9,350.7 L425.2,351.2 L426.4,351.6 L427.6,352.1 L428.9,352.5 L430.1,353.0 L431.4,353.4 L432.6,353.8 L433.8,354.2 L435.1,354.7 L436.3,355.1 L437.6,355.5 L438.8,355.9 L440.0,356.2 L441.3,356.6 L442.5,357.0 L443.8,357.4 L445.0,357.7 L446.2,358.1 L447.5,358.4 L448.7,358.7 L450.0,359.0 L451.2,359.4 L452.4,359.7 L453.7,360.0 L454.9,360.2 L456.2,360.5 L457.4,360.8 L458.6,361.0 L459.9,361.3 L461.1,361.5 L462.4,361.8 L463.6,362.0 L464.8,362.2 L466.1,362.4 L467.3,362.6 L468.6,362.8 L469.8,362.9 L471.0,363.1 L472.3,363.3 L473.5,363.4 L474.8,363.6 L476.0,363.7 L477.2,363.8 L478.5,364.0 L479.7,364.1 L481.0,364.2 L482.2,364.3 L483.4,364.4 L484.7,364.5 L485.9,364.6 L487.2,364.7 L488.4,364.8 L489.6,364.8 L490.9,364.9 L492.1,365.0 L493.4,365.0 L494.6,365.1 L495.8,365.2 L497.1,365.2 L498.3,365.3 L499.6,365.3 L500.8,365.4 L502.0,365.4 L503.3,365.4 L504.5,365.5 L505.8,365.5 L507.0,365.5 L508.2,365.6 L509.5,365.6 L510.7,365.6 L512.0,365.7 L513.2,365.7 L514.4,365.7 L515.7,365.7 L516.9,365.8 L518.2,365.8 L519.4,365.8 L520.6,365.8 L521.9,365.8 L523.1,365.8 L524.4,365.9 L525.6,365.9 L526.8,365.9 L528.1,365.9 L529.3,365.9 L530.6,365.9 L531.8,365.9 L533.0,365.9 L534.3,366.0 L535.5,366.0 L536.8,366.0 L538.0,366.0 L539.2,366.0 L540.5,366.0 L541.7,366.0 L543.0,366.0 L544.2,366.0 L545.4,366.0 L546.7,366.0 L547.9,366.0 L549.2,366.0 L550.4,366.0 L551.6,366.0 L552.9,366.1 L554.1,366.1 L555.4,366.1 L556.6,366.1 L557.8,366.1 L559.1,366.1 L560.3,366.1 L561.6,366.1 L562.8,366.1 L564.0,366.1 L565.3,366.1 L566.5,366.1 L567.8,366.1 L569.0,366.1 L570.2,366.1 L571.5,366.1 L572.7,366.1 L574.0,366.1 L575.2,366.1 L576.4,366.1 L577.7,366.1 L578.9,366.1 L580.2,366.1 L581.4,366.1 L582.6,366.1 L583.9,366.1 L585.1,366.1 L586.4,366.1 L587.6,366.1 L588.8,366.1 L590.1,366.1 L591.3,366.1 L592.6,366.1 L593.8,366.1 L595.0,366.1 L596.3,366.1 L597.5,366.1 L598.8,366.1 L600.0,366.1 L601.2,366.1 L602.5,366.1 L603.7,366.1 L605.0,366.1 L606.2,366.1 L607.4,366.1 L608.7,366.1 L609.9,366.1 L611.2,366.1 L612.4,366.1 L613.6,366.1 L614.9,366.1 L616.1,366.1 L617.4,366.1 L618.6,366.1 L619.8,366.1 L621.1,366.1 L622.3,366.1 L623.5,366.1 L624.8,366.1 L626.0,366.1 L627.3,366.1 L628.5,366.1 L629.7,366.1 L631.0,366.1 L632.2,366.1 L633.5,366.1 L634.7,366.1 L635.9,366.1 L637.2,366.1 L638.4,366.1 L639.7,366.1 L640.9,366.1 L642.1,366.1 L643.4,366.1 L644.6,366.1 L645.9,366.1 L647.1,366.1 L648.3,366.1 L649.6,366.1 L650.8,366.1 L652.1,366.1 L653.3,366.1 L654.5,366.1 L655.8,366.1 L657.0,366.1" stroke="#FFC0CB" stroke-width="2.6" fill="none" stroke-linejoin="round"/>
<path d="M162.3,346.3 L163.5,347.4 L164.8,348.3 L166.0,349.1 L167.3,349.8 L168.5,350.3 L169.7,350.7 L171.0,350.9 L172.2,351.1 L173.5,351.0 L174.7,350.9 L175.9,350.6 L177.2,350.1 L178.4,349.6 L179.7,348.9 L180.9,348.0 L182.1,347.0 L183.4,345.9 L184.6,344.7 L185.9,343.3 L187.1,341.7 L188.3,340.1 L189.6,338.3 L190.8,336.4 L192.1,334.3 L193.3,332.1 L194.5,329.8 L195.8,327.4 L197.0,324.9 L198.3,322.2 L199.5,319.4 L200.7,316.5 L202.0,313.6 L203.2,310.4 L204.5,307.2 L205.7,303.9 L206.9,300.6 L208.2,297.1 L209.4,293.5 L210.7,289.9 L211.9,286.2 L213.1,282.4 L214.4,278.5 L215.6,274.7 L216.9,270.7 L218.1,266.7 L219.3,262.7 L220.6,258.7 L221.8,254.6 L223.1,250.6 L224.3,246.5 L225.5,242.4 L226.8,238.3 L228.0,234.2 L229.3,230.2 L230.5,226.2 L231.7,222.2 L233.0,218.2 L234.2,214.3 L235.5,210.4 L236.7,206.5 L237.9,202.7 L239.2,199.0 L240.4,195.3 L241.7,191.7 L242.9,188.2 L244.1,184.7 L245.4,181.3 L246.6,177.9 L247.9,174.7 L249.1,171.5 L250.3,168.3 L251.6,165.3 L252.8,162.3 L254.1,159.4 L255.3,156.6 L256.5,153.9 L257.8,151.2 L259.0,148.6 L260.3,146.1 L261.5,143.6 L262.7,141.3 L264.0,139.0 L265.2,136.7 L266.5,134.6 L267.7,132.5 L268.9,130.5 L270.2,128.5 L271.4,126.6 L272.7,124.8 L273.9,123.0 L275.1,121.3 L276.4,119.7 L277.6,118.1 L278.9,116.6 L280.1,115.1 L281.3,113.6 L282.6,112.3 L283.8,111.0 L285.1,109.7 L286.3,108.5 L287.5,107.3 L288.8,106.2 L290.0,105.1 L291.3,104.0 L292.5,103.0 L293.7,102.1 L295.0,101.1 L296.2,100.3 L297.5,99.4 L298.7,98.6 L299.9,97.8 L301.2,97.1 L302.4,96.4 L303.7,95.7 L304.9,95.1 L306.1,94.5 L307.4,93.9 L308.6,93.3 L309.9,92.8 L311.1,92.3 L312.3,91.9 L313.6,91.4 L314.8,91.0 L316.1,90.6 L317.3,90.3 L318.5,89.9 L319.8,89.6 L321.0,89.3 L322.3,89.1 L323.5,88.8 L324.7,88.6 L326.0,88.4 L327.2,88.3 L328.5,88.1 L329.7,88.0 L330.9,87.9 L332.2,87.8 L333.4,87.7 L334.7,87.7 L335.9,87.7 L337.1,87.7 L338.4,87.7 L339.6,87.7 L340.9,87.8 L342.1,87.9 L343.3,88.0 L344.6,88.1 L345.8,88.3 L347.1,88.5 L348.3,88.7 L349.5,88.9 L350.8,89.1 L352.0,89.4 L353.3,89.7 L354.5,90.0 L355.7,90.3 L357.0,90.7 L358.2,91.1 L359.5,91.5 L360.7,92.0 L361.9,92.4 L363.2,92.9 L364.4,93.4 L365.6,94.0 L366.9,94.6 L368.1,95.2 L369.4,95.8 L370.6,96.5 L371.8,97.2 L373.1,98.0 L374.3,98.8 L375.6,99.6 L376.8,100.4 L378.0,101.3 L379.3,102.3 L380.5,103.2 L381.8,104.2 L383.0,105.3 L384.2,106.4 L385.5,107.5 L386.7,108.7 L388.0,110.0 L389.2,111.3 L390.4,112.6 L391.7,114.0 L392.9,115.4 L394.2,116.9 L395.4,118.5 L396.6,120.1 L397.9,121.8 L399.1,123.5 L400.4,125.3 L401.6,127.2 L402.8,129.1 L404.1,131.1 L405.3,133.1 L406.6,135.3 L407.8,137.5 L409.0,139.8 L410.3,142.1 L411.5,144.5 L412.8,147.0 L414.0,149.6 L415.2,152.3 L416.5,155.0 L417.7,157.9 L419.0,160.8 L420.2,163.8 L421.4,166.8 L422.7,170.0 L423.9,173.2 L425.2,176.6 L426.4,180.0 L427.6,183.4 L428.9,187.0 L430.1,190.7 L431.4,194.4 L432.6,198.2 L433.8,202.1 L435.1,206.1 L436.3,210.1 L437.6,214.2 L438.8,218.3 L440.0,222.6 L441.3,226.9 L442.5,231.2 L443.8,235.6 L445.0,240.0 L446.2,244.5 L447.5,249.0 L448.7,253.5 L450.0,258.0 L451.2,262.6 L452.4,267.2 L453.7,271.8 L454.9,276.4 L456.2,281.0 L457.4,285.5 L458.6,290.1 L459.9,294.6 L461.1,299.1 L462.4,303.6 L463.6,308.0 L464.8,312.4 L466.1,316.8 L467.3,321.0 L468.6,325.3 L469.8,329.5 L471.0,333.6 L472.3,337.6 L473.5,341.6 L474.8,345.5 L476.0,349.3 L477.2,353.0 L478.5,356.7 L479.7,360.3 L481.0,363.8 L482.2,367.2 L483.4,370.6 L484.7,373.8 L485.9,377.0 L487.2,380.1 L488.4,383.1 L489.6,386.1 L490.9,388.9 L492.1,391.7 L493.4,394.4 L494.6,397.0 L495.8,399.5 L497.1,402.0 L498.3,404.4 L499.6,406.7 L500.8,408.9 L502.0,411.1 L503.3,413.2 L504.5,415.2 L505.8,417.2 L507.0,419.1 L508.2,420.9 L509.5,422.7 L510.7,424.4 L512.0,426.1 L513.2,427.7 L514.4,429.2 L515.7,430.7 L516.9,432.1 L518.2,433.5 L519.4,434.9 L520.6,436.2 L521.9,437.4 L523.1,438.6 L524.4,439.8 L525.6,440.9 L526.8,442.0 L528.1,443.1 L529.3,444.1 L530.6,445.1 L531.8,446.0 L533.0,446.9 L534.3,447.8 L535.5,448.6 L536.8,449.4 L538.0,450.2 L539.2,451.0 L540.5,451.7 L541.7,452.4 L543.0,453.1 L544.2,453.7 L545.4,454.3 L546.7,454.9 L547.9,455.5 L549.2,456.1 L550.4,456.6 L551.6,457.1 L552.9,457.6 L554.1,458.1 L555.4,458.6 L556.6,459.0 L557.8,459.5 L559.1,459.9 L560.3,460.3 L561.6,460.7 L562.8,461.0 L564.0,461.4 L565.3,461.7 L566.5,462.1 L567.8,462.4 L569.0,462.7 L570.2,463.0 L571.5,463.3 L572.7,463.5 L574.0,463.8 L575.2,464.0 L576.4,464.3 L577.7,464.5 L578.9,464.8 L580.2,465.0 L581.4,465.2 L582.6,465.4 L583.9,465.6 L585.1,465.8 L586.4,465.9 L587.6,466.1 L588.8,466.3 L590.1,466.4 L591.3,466.6 L592.6,466.8 L593.8,466.9 L595.0,467.0 L596.3,467.2 L597.5,467.3 L598.8,467.4 L600.0,467.5 L601.2,467.7 L602.5,467.8 L603.7,467.9 L605.0,468.0 L606.2,468.1 L607.4,468.2 L608.7,468.3 L609.9,468.3 L611.2,468.4 L612.4,468.5 L613.6,468.6 L614.9,468.7 L616.1,468.7 L617.4,468.8 L618.6,468.9 L619.8,468.9 L621.1,469.0 L622.3,469.1 L623.5,469.1 L624.8,469.2 L626.0,469.2 L627.3,469.3 L628.5,469.3 L629.7,469.4 L631.0,469.4 L632.2,469.5 L633.5,469.5 L634.7,469.5 L635.9,469.6 L637.2,469.6 L638.4,469.7 L639.7,469.7 L640.9,469.7 L642.1,469.8 L643.4,469.8 L644.6,469.8 L645.9,469.9 L647.1,469.9 L648.3,469.9 L649.6,469.9 L650.8,470.0 L652.1,470.0 L653.3,470.0 L654.5,470.0 L655.8,470.0 L657.0,470.1" stroke="#FFC0CB" stroke-width="2.6" fill="none" stroke-linejoin="round"/>
<path d="M162.3,261.4 L163.5,261.4 L164.8,261.4 L166.0,261.5 L167.3,261.5 L168.5,261.5 L169.7,261.6 L171.0,261.6 L172.2,261.7 L173.5,261.7 L174.7,261.8 L175.9,261.8 L177.2,261.9 L178.4,261.9 L179.7,262.0 L180.9,262.1 L182.1,262.1 L183.4,262.2 L184.6,262.3 L185.9,262.4 L187.1,262.4 L188.3,262.5 L189.6,262.6 L190.8,262.7 L192.1,262.9 L193.3,263.0 L194.5,263.1 L195.8,263.2 L197.0,263.4 L198.3,263.5 L199.5,263.7 L200.7,263.8 L202.0,264.0 L203.2,264.2 L204.5,264.3 L205.7,264.5 L206.9,264.7 L208.2,264.9 L209.4,265.1 L210.7,265.4 L211.9,265.6 L213.1,265.9 L214.4,266.1 L215.6,266.4 L216.9,266.6 L218.1,266.9 L219.3,267.2 L220.6,267.5 L221.8,267.8 L223.1,268.1 L224.3,268.5 L225.5,268.8 L226.8,269.1 L228.0,269.5 L229.3,269.8 L230.5,270.2 L231.7,270.6 L233.0,271.0 L234.2,271.4 L235.5,271.7 L236.7,272.2 L237.9,272.6 L239.2,273.0 L240.4,273.4 L241.7,273.8 L242.9,274.3 L244.1,274.7 L245.4,275.1 L246.6,275.6 L247.9,276.0 L249.1,276.5 L250.3,277.0 L251.6,277.4 L252.8,277.9 L254.1,278.4 L255.3,278.8 L256.5,279.3 L257.8,279.8 L259.0,280.3 L260.3,280.8 L261.5,281.3 L262.7,281.7 L264.0,282.2 L265.2,282.7 L266.5,283.2 L267.7,283.7 L268.9,284.2 L270.2,284.7 L271.4,285.2 L272.7,285.7 L273.9,286.3 L275.1,286.8 L276.4,287.3 L277.6,287.8 L278.9,288.3 L280.1,288.8 L281.3,289.3 L282.6,289.8 L283.8,290.4 L285.1,290.9 L286.3,291.4 L287.5,291.9 L288.8,292.4 L290.0,292.9 L291.3,293.5 L292.5,294.0 L293.7,294.5 L295.0,295.0 L296.2,295.5 L297.5,296.1 L298.7,296.6 L299.9,297.1 L301.2,297.6 L302.4,298.2 L303.7,298.7 L304.9,299.2 L306.1,299.7 L307.4,300.3 L308.6,300.8 L309.9,301.3 L311.1,301.8 L312.3,302.4 L313.6,302.9 L314.8,303.4 L316.1,303.9 L317.3,304.5 L318.5,305.0 L319.8,305.5 L321.0,306.0 L322.3,306.6 L323.5,307.1 L324.7,307.6 L326.0,308.1 L327.2,308.7 L328.5,309.2 L329.7,309.7 L330.9,310.2 L332.2,310.8 L333.4,311.3 L334.7,311.8 L335.9,312.4 L337.1,312.9 L338.4,313.4 L339.6,313.9 L340.9,314.5 L342.1,315.0 L343.3,315.5 L344.6,316.0 L345.8,316.6 L347.1,317.1 L348.3,317.6 L349.5,318.2 L350.8,318.7 L352.0,319.2 L353.3,319.7 L354.5,320.3 L355.7,320.8 L357.0,321.3 L358.2,321.8 L359.5,322.4 L360.7,322.9 L361.9,323.4 L363.2,323.9 L364.4,324.5 L365.6,325.0 L366.9,325.5 L368.1,326.0 L369.4,326.6 L370.6,327.1 L371.8,327.6 L373.1,328.1 L374.3,328.7 L375.6,329.2 L376.8,329.7 L378.0,330.2 L379.3,330.8 L380.5,331.3 L381.8,331.8 L383.0,332.3 L384.2,332.8 L385.5,333.4 L386.7,333.9 L388.0,334.4 L389.2,334.9 L390.4,335.4 L391.7,335.9 L392.9,336.5 L394.2,337.0 L395.4,337.5 L396.6,338.0 L397.9,338.5 L399.1,339.0 L400.4,339.5 L401.6,340.0 L402.8,340.5 L404.1,341.1 L405.3,341.6 L406.6,342.1 L407.8,342.6 L409.0,343.1 L410.3,343.6 L411.5,344.1 L412.8,344.6 L414.0,345.0 L415.2,345.5 L416.5,346.0 L417.7,346.5 L419.0,347.0 L420.2,347.5 L421.4,347.9 L422.7,348.4 L423.9,348.9 L425.2,349.3 L426.4,349.8 L427.6,350.3 L428.9,350.7 L430.1,351.2 L431.4,351.6 L432.6,352.0 L433.8,352.5 L435.1,352.9 L436.3,353.3 L437.6,353.7 L438.8,354.2 L440.0,354.6 L441.3,355.0 L442.5,355.3 L443.8,355.7 L445.0,356.1 L446.2,356.5 L447.5,356.8 L448.7,357.2 L450.0,357.5 L451.2,357.9 L452.4,358.2 L453.7,358.5 L454.9,358.8 L456.2,359.1 L457.4,359.4 L458.6,359.7 L459.9,360.0 L461.1,360.2 L462.4,360.5 L463.6,360.7 L464.8,360.9 L466.1,361.2 L467.3,361.4 L468.6,361.6 L469.8,361.8 L471.0,362.0 L472.3,362.2 L473.5,362.3 L474.8,362.5 L476.0,362.7 L477.2,362.8 L478.5,363.0 L479.7,363.1 L481.0,363.2 L482.2,363.4 L483.4,363.5 L484.7,363.6 L485.9,363.7 L487.2,363.8 L488.4,363.9 L489.6,364.0 L490.9,364.1 L492.1,364.1 L493.4,364.2 L494.6,364.3 L495.8,364.3 L497.1,364.4 L498.3,364.5 L499.6,364.5 L500.8,364.6 L502.0,364.6 L503.3,364.7 L504.5,364.7 L505.8,364.8 L507.0,364.8 L508.2,364.8 L509.5,364.9 L510.7,364.9 L512.0,364.9 L513.2,365.0 L514.4,365.0 L515.7,365.0 L516.9,365.0 L518.2,365.1 L519.4,365.1 L520.6,365.1 L521.9,365.1 L523.1,365.2 L524.4,365.2 L525.6,365.2 L526.8,365.2 L528.1,365.2 L529.3,365.2 L530.6,365.2 L531.8,365.3 L533.0,365.3 L534.3,365.3 L535.5,365.3 L536.8,365.3 L538.0,365.3 L539.2,365.3 L540.5,365.3 L541.7,365.3 L543.0,365.3 L544.2,365.4 L545.4,365.4 L546.7,365.4 L547.9,365.4 L549.2,365.4 L550.4,365.4 L551.6,365.4 L552.9,365.4 L554.1,365.4 L555.4,365.4 L556.6,365.4 L557.8,365.4 L559.1,365.4 L560.3,365.4 L561.6,365.4 L562.8,365.4 L564.0,365.4 L565.3,365.4 L566.5,365.4 L567.8,365.4 L569.0,365.4 L570.2,365.4 L571.5,365.4 L572.7,365.4 L574.0,365.4 L575.2,365.5 L576.4,365.5 L577.7,365.5 L578.9,365.5 L580.2,365.5 L581.4,365.5 L582.6,365.5 L583.9,365.5 L585.1,365.5 L586.4,365.5 L587.6,365.5 L588.8,365.5 L590.1,365.5 L591.3,365.5 L592.6,365.5 L593.8,365.5 L595.0,365.5 L596.3,365.5 L597.5,365.5 L598.8,365.5 L600.0,365.5 L601.2,365.5 L602.5,365.5 L603.7,365.5 L605.0,365.5 L606.2,365.5 L607.4,365.5 L608.7,365.5 L609.9,365.5 L611.2,365.5 L612.4,365.5 L613.6,365.5 L614.9,365.5 L616.1,365.5 L617.4,365.5 L618.6,365.5 L619.8,365.5 L621.1,365.5 L622.3,365.5 L623.5,365.5 L624.8,365.5 L626.0,365.5 L627.3,365.5 L628.5,365.5 L629.7,365.5 L631.0,365.5 L632.2,365.5 L633.5,365.5 L634.7,365.5 L635.9,365.5 L637.2,365.5 L638.4,365.5 L639.7,365.5 L640.9,365.5 L642.1,365.5 L643.4,365.5 L644.6,365.5 L645.9,365.5 L647.1,365.5 L648.3,365.5 L649.6,365.5 L650.8,365.5 L652.1,365.5 L653.3,365.5 L654.5,365.5 L655.8,365.5 L657.0,365.5" stroke="#008000" stroke-width="2.6" fill="none" stroke-linejoin="round"/>
<path d="M162.3,340.3 L163.5,341.3 L164.8,342.2 L166.0,342.9 L167.3,343.5 L168.5,343.9 L169.7,344.1 L171.0,344.2 L172.2,344.1 L173.5,343.9 L174.7,343.5 L175.9,342.9 L177.2,342.2 L178.4,341.3 L179.7,340.2 L180.9,339.0 L182.1,337.7 L183.4,336.2 L184.6,334.5 L185.9,332.7 L187.1,330.7 L188.3,328.6 L189.6,326.3 L190.8,324.0 L192.1,321.4 L193.3,318.8 L194.5,315.9 L195.8,313.0 L197.0,310.0 L198.3,306.8 L199.5,303.5 L200.7,300.1 L202.0,296.6 L203.2,292.9 L204.5,289.2 L205.7,285.4 L206.9,281.6 L208.2,277.6 L209.4,273.6 L210.7,269.5 L211.9,265.3 L213.1,261.1 L214.4,256.9 L215.6,252.7 L216.9,248.4 L218.1,244.1 L219.3,239.7 L220.6,235.4 L221.8,231.1 L223.1,226.8 L224.3,222.5 L225.5,218.3 L226.8,214.1 L228.0,209.9 L229.3,205.7 L230.5,201.6 L231.7,197.6 L233.0,193.6 L234.2,189.7 L235.5,185.9 L236.7,182.1 L237.9,178.4 L239.2,174.7 L240.4,171.2 L241.7,167.7 L242.9,164.3 L244.1,161.0 L245.4,157.7 L246.6,154.6 L247.9,151.5 L249.1,148.5 L250.3,145.6 L251.6,142.8 L252.8,140.0 L254.1,137.4 L255.3,134.8 L256.5,132.3 L257.8,129.8 L259.0,127.5 L260.3,125.2 L261.5,123.0 L262.7,120.9 L264.0,118.8 L265.2,116.9 L266.5,114.9 L267.7,113.1 L268.9,111.3 L270.2,109.6 L271.4,107.9 L272.7,106.3 L273.9,104.8 L275.1,103.3 L276.4,101.9 L277.6,100.5 L278.9,99.2 L280.1,97.9 L281.3,96.7 L282.6,95.5 L283.8,94.4 L285.1,93.3 L286.3,92.2 L287.5,91.2 L288.8,90.3 L290.0,89.3 L291.3,88.5 L292.5,87.6 L293.7,86.8 L295.0,86.0 L296.2,85.3 L297.5,84.6 L298.7,83.9 L299.9,83.3 L301.2,82.7 L302.4,82.1 L303.7,81.5 L304.9,81.0 L306.1,80.5 L307.4,80.1 L308.6,79.6 L309.9,79.2 L311.1,78.8 L312.3,78.4 L313.6,78.1 L314.8,77.8 L316.1,77.5 L317.3,77.2 L318.5,76.9 L319.8,76.7 L321.0,76.5 L322.3,76.3 L323.5,76.1 L324.7,76.0 L326.0,75.8 L327.2,75.7 L328.5,75.6 L329.7,75.6 L330.9,75.5 L332.2,75.5 L333.4,75.5 L334.7,75.5 L335.9,75.5 L337.1,75.6 L338.4,75.6 L339.6,75.7 L340.9,75.8 L342.1,75.9 L343.3,76.1 L344.6,76.2 L345.8,76.4 L347.1,76.6 L348.3,76.9 L349.5,77.1 L350.8,77.4 L352.0,77.7 L353.3,78.0 L354.5,78.4 L355.7,78.7 L357.0,79.1 L358.2,79.5 L359.5,80.0 L360.7,80.4 L361.9,80.9 L363.2,81.4 L364.4,82.0 L365.6,82.6 L366.9,83.2 L368.1,83.8 L369.4,84.5 L370.6,85.2 L371.8,85.9 L373.1,86.7 L374.3,87.5 L375.6,88.3 L376.8,89.2 L378.0,90.1 L379.3,91.1 L380.5,92.1 L381.8,93.1 L383.0,94.2 L384.2,95.3 L385.5,96.5 L386.7,97.7 L388.0,99.0 L389.2,100.3 L390.4,101.7 L391.7,103.2 L392.9,104.6 L394.2,106.2 L395.4,107.8 L396.6,109.5 L397.9,111.2 L399.1,113.0 L400.4,114.9 L401.6,116.8 L402.8,118.8 L404.1,120.9 L405.3,123.0 L406.6,125.2 L407.8,127.5 L409.0,129.9 L410.3,132.4 L411.5,134.9 L412.8,137.5 L414.0,140.3 L415.2,143.1 L416.5,145.9 L417.7,148.9 L419.0,152.0 L420.2,155.2 L421.4,158.4 L422.7,161.7 L423.9,165.2 L425.2,168.7 L426.4,172.3 L427.6,176.0 L428.9,179.8 L430.1,183.7 L431.4,187.7 L432.6,191.8 L433.8,195.9 L435.1,200.1 L436.3,204.4 L437.6,208.8 L438.8,213.3 L440.0,217.8 L441.3,222.4 L442.5,227.0 L443.8,231.7 L445.0,236.4 L446.2,241.2 L447.5,246.0 L448.7,250.8 L450.0,255.7 L451.2,260.5 L452.4,265.4 L453.7,270.3 L454.9,275.2 L456.2,280.1 L457.4,284.9 L458.6,289.7 L459.9,294.5 L461.1,299.3 L462.4,304.0 L463.6,308.7 L464.8,313.3 L466.1,317.8 L467.3,322.3 L468.6,326.7 L469.8,331.1 L471.0,335.4 L472.3,339.6 L473.5,343.7 L474.8,347.7 L476.0,351.7 L477.2,355.5 L478.5,359.3 L479.7,363.0 L481.0,366.5 L482.2,370.0 L483.4,373.4 L484.7,376.8 L485.9,380.0 L487.2,383.1 L488.4,386.2 L489.6,389.1 L490.9,392.0 L492.1,394.8 L493.4,397.4 L494.6,400.1 L495.8,402.6 L497.1,405.0 L498.3,407.4 L499.6,409.7 L500.8,411.9 L502.0,414.0 L503.3,416.1 L504.5,418.1 L505.8,420.0 L507.0,421.9 L508.2,423.7 L509.5,425.4 L510.7,427.1 L512.0,428.7 L513.2,430.3 L514.4,431.8 L515.7,433.2 L516.9,434.6 L518.2,436.0 L519.4,437.3 L520.6,438.5 L521.9,439.7 L523.1,440.9 L524.4,442.0 L525.6,443.1 L526.8,444.1 L528.1,445.1 L529.3,446.1 L530.6,447.0 L531.8,447.9 L533.0,448.8 L534.3,449.6 L535.5,450.4 L536.8,451.2 L538.0,451.9 L539.2,452.6 L540.5,453.3 L541.7,453.9 L543.0,454.6 L544.2,455.2 L545.4,455.8 L546.7,456.3 L547.9,456.9 L549.2,457.4 L550.4,457.9 L551.6,458.4 L552.9,458.9 L554.1,459.3 L555.4,459.7 L556.6,460.1 L557.8,460.5 L559.1,460.9 L560.3,461.3 L561.6,461.7 L562.8,462.0 L564.0,462.3 L565.3,462.6 L566.5,462.9 L567.8,463.2 L569.0,463.5 L570.2,463.8 L571.5,464.1 L572.7,464.3 L574.0,464.5 L575.2,464.8 L576.4,465.0 L577.7,465.2 L578.9,465.4 L580.2,465.6 L581.4,465.8 L582.6,466.0 L583.9,466.2 L585.1,466.3 L586.4,466.5 L587.6,466.7 L588.8,466.8 L590.1,467.0 L591.3,467.1 L592.6,467.2 L593.8,467.4 L595.0,467.5 L596.3,467.6 L597.5,467.7 L598.8,467.8 L600.0,467.9 L601.2,468.0 L602.5,468.1 L603.7,468.2 L605.0,468.3 L606.2,468.4 L607.4,468.5 L608.7,468.6 L609.9,468.6 L611.2,468.7 L612.4,468.8 L613.6,468.9 L614.9,468.9 L616.1,469.0 L617.4,469.1 L618.6,469.1 L619.8,469.2 L621.1,469.2 L622.3,469.3 L623.5,469.3 L624.8,469.4 L626.0,469.4 L627.3,469.5 L628.5,469.5 L629.7,469.6 L631.0,469.6 L632.2,469.6 L633.5,469.7 L634.7,469.7 L635.9,469.7 L637.2,469.8 L638.4,469.8 L639.7,469.8 L640.9,469.9 L642.1,469.9 L643.4,469.9 L644.6,469.9 L645.9,470.0 L647.1,470.0 L648.3,470.0 L649.6,470.0 L650.8,470.1 L652.1,470.1 L653.3,470.1 L654.5,470.1 L655.8,470.1 L657.0,470.2" stroke="#008000" stroke-width="2.6" fill="none" stroke-linejoin="round"/>
<path d="M162.3,262.8 L163.5,262.8 L164.8,262.8 L166.0,262.9 L167.3,262.9 L168.5,262.9 L169.7,263.0 L171.0,263.0 L172.2,263.1 L173.5,263.1 L174.7,263.1 L175.9,263.2 L177.2,263.2 L178.4,263.3 L179.7,263.4 L180.9,263.4 L182.1,263.5 L183.4,263.6 L184.6,263.6 L185.9,263.7 L187.1,263.8 L188.3,263.9 L189.6,264.0 L190.8,264.1 L192.1,264.2 L193.3,264.3 L194.5,264.4 L195.8,264.5 L197.0,264.7 L198.3,264.8 L199.5,264.9 L200.7,265.1 L202.0,265.2 L203.2,265.4 L204.5,265.6 L205.7,265.8 L206.9,265.9 L208.2,266.1 L209.4,266.4 L210.7,266.6 L211.9,266.8 L213.1,267.0 L214.4,267.3 L215.6,267.5 L216.9,267.8 L218.1,268.1 L219.3,268.3 L220.6,268.6 L221.8,268.9 L223.1,269.2 L224.3,269.5 L225.5,269.9 L226.8,270.2 L228.0,270.6 L229.3,270.9 L230.5,271.3 L231.7,271.6 L233.0,272.0 L234.2,272.4 L235.5,272.8 L236.7,273.2 L237.9,273.6 L239.2,274.0 L240.4,274.4 L241.7,274.8 L242.9,275.3 L244.1,275.7 L245.4,276.1 L246.6,276.6 L247.9,277.0 L249.1,277.5 L250.3,277.9 L251.6,278.4 L252.8,278.9 L254.1,279.3 L255.3,279.8 L256.5,280.3 L257.8,280.8 L259.0,281.2 L260.3,281.7 L261.5,282.2 L262.7,282.7 L264.0,283.2 L265.2,283.7 L266.5,284.2 L267.7,284.7 L268.9,285.2 L270.2,285.7 L271.4,286.2 L272.7,286.7 L273.9,287.2 L275.1,287.7 L276.4,288.2 L277.6,288.7 L278.9,289.3 L280.1,289.8 L281.3,290.3 L282.6,290.8 L283.8,291.3 L285.1,291.8 L286.3,292.4 L287.5,292.9 L288.8,293.4 L290.0,293.9 L291.3,294.4 L292.5,295.0 L293.7,295.5 L295.0,296.0 L296.2,296.5 L297.5,297.0 L298.7,297.6 L299.9,298.1 L301.2,298.6 L302.4,299.1 L303.7,299.7 L304.9,300.2 L306.1,300.7 L307.4,301.2 L308.6,301.8 L309.9,302.3 L311.1,302.8 L312.3,303.3 L313.6,303.9 L314.8,304.4 L316.1,304.9 L317.3,305.4 L318.5,306.0 L319.8,306.5 L321.0,307.0 L322.3,307.6 L323.5,308.1 L324.7,308.6 L326.0,309.1 L327.2,309.7 L328.5,310.2 L329.7,310.7 L330.9,311.3 L332.2,311.8 L333.4,312.3 L334.7,312.8 L335.9,313.4 L337.1,313.9 L338.4,314.4 L339.6,315.0 L340.9,315.5 L342.1,316.0 L343.3,316.5 L344.6,317.1 L345.8,317.6 L347.1,318.1 L348.3,318.6 L349.5,319.2 L350.8,319.7 L352.0,320.2 L353.3,320.8 L354.5,321.3 L355.7,321.8 L357.0,322.3 L358.2,322.9 L359.5,323.4 L360.7,323.9 L361.9,324.5 L363.2,325.0 L364.4,325.5 L365.6,326.0 L366.9,326.6 L368.1,327.1 L369.4,327.6 L370.6,328.1 L371.8,328.7 L373.1,329.2 L374.3,329.7 L375.6,330.2 L376.8,330.8 L378.0,331.3 L379.3,331.8 L380.5,332.3 L381.8,332.8 L383.0,333.4 L384.2,333.9 L385.5,334.4 L386.7,334.9 L388.0,335.5 L389.2,336.0 L390.4,336.5 L391.7,337.0 L392.9,337.5 L394.2,338.0 L395.4,338.6 L396.6,339.1 L397.9,339.6 L399.1,340.1 L400.4,340.6 L401.6,341.1 L402.8,341.6 L404.1,342.1 L405.3,342.6 L406.6,343.1 L407.8,343.6 L409.0,344.1 L410.3,344.6 L411.5,345.1 L412.8,345.6 L414.0,346.1 L415.2,346.6 L416.5,347.1 L417.7,347.6 L419.0,348.1 L420.2,348.5 L421.4,349.0 L422.7,349.5 L423.9,349.9 L425.2,350.4 L426.4,350.9 L427.6,351.3 L428.9,351.8 L430.1,352.2 L431.4,352.7 L432.6,353.1 L433.8,353.5 L435.1,354.0 L436.3,354.4 L437.6,354.8 L438.8,355.2 L440.0,355.6 L441.3,356.0 L442.5,356.4 L443.8,356.7 L445.0,357.1 L446.2,357.5 L447.5,357.8 L448.7,358.2 L450.0,358.5 L451.2,358.8 L452.4,359.2 L453.7,359.5 L454.9,359.8 L456.2,360.1 L457.4,360.4 L458.6,360.6 L459.9,360.9 L461.1,361.1 L462.4,361.4 L463.6,361.6 L464.8,361.9 L466.1,362.1 L467.3,362.3 L468.6,362.5 L469.8,362.7 L471.0,362.9 L472.3,363.0 L473.5,363.2 L474.8,363.4 L476.0,363.5 L477.2,363.7 L478.5,363.8 L479.7,363.9 L481.0,364.1 L482.2,364.2 L483.4,364.3 L484.7,364.4 L485.9,364.5 L487.2,364.6 L488.4,364.7 L489.6,364.8 L490.9,364.8 L492.1,364.9 L493.4,365.0 L494.6,365.1 L495.8,365.1 L497.1,365.2 L498.3,365.2 L499.6,365.3 L500.8,365.3 L502.0,365.4 L503.3,365.4 L504.5,365.5 L505.8,365.5 L507.0,365.6 L508.2,365.6 L509.5,365.6 L510.7,365.7 L512.0,365.7 L513.2,365.7 L514.4,365.7 L515.7,365.8 L516.9,365.8 L518.2,365.8 L519.4,365.8 L520.6,365.8 L521.9,365.9 L523.1,365.9 L524.4,365.9 L525.6,365.9 L526.8,365.9 L528.1,365.9 L529.3,366.0 L530.6,366.0 L531.8,366.0 L533.0,366.0 L534.3,366.0 L535.5,366.0 L536.8,366.0 L538.0,366.0 L539.2,366.0 L540.5,366.0 L541.7,366.1 L543.0,366.1 L544.2,366.1 L545.4,366.1 L546.7,366.1 L547.9,366.1 L549.2,366.1 L550.4,366.1 L551.6,366.1 L552.9,366.1 L554.1,366.1 L555.4,366.1 L556.6,366.1 L557.8,366.1 L559.1,366.1 L560.3,366.1 L561.6,366.1 L562.8,366.1 L564.0,366.1 L565.3,366.1 L566.5,366.1 L567.8,366.1 L569.0,366.2 L570.2,366.2 L571.5,366.2 L572.7,366.2 L574.0,366.2 L575.2,366.2 L576.4,366.2 L577.7,366.2 L578.9,366.2 L580.2,366.2 L581.4,366.2 L582.6,366.2 L583.9,366.2 L585.1,366.2 L586.4,366.2 L587.6,366.2 L588.8,366.2 L590.1,366.2 L591.3,366.2 L592.6,366.2 L593.8,366.2 L595.0,366.2 L596.3,366.2 L597.5,366.2 L598.8,366.2 L600.0,366.2 L601.2,366.2 L602.5,366.2 L603.7,366.2 L605.0,366.2 L606.2,366.2 L607.4,366.2 L608.7,366.2 L609.9,366.2 L611.2,366.2 L612.4,366.2 L613.6,366.2 L614.9,366.2 L616.1,366.2 L617.4,366.2 L618.6,366.2 L619.8,366.2 L621.1,366.2 L622.3,366.2 L623.5,366.2 L624.8,366.2 L626.0,366.2 L627.3,366.2 L628.5,366.2 L629.7,366.2 L631.0,366.2 L632.2,366.2 L633.5,366.2 L634.7,366.2 L635.9,366.2 L637.2,366.2 L638.4,366.2 L639.7,366.2 L640.9,366.2 L642.1,366.2 L643.4,366.2 L644.6,366.2 L645.9,366.2 L647.1,366.2 L648.3,366.2 L649.6,366.2 L650.8,366.2 L652.1,366.2 L653.3,366.2 L654.5,366.2 L655.8,366.2 L657.0,366.2" stroke="#808000" stroke-width="2.6" fill="none" stroke-linejoin="round"/>
<path d="M162.3,342.7 L163.5,343.7 L164.8,344.6 L166.0,345.3 L167.3,345.8 L168.5,346.3 L169.7,346.5 L171.0,346.6 L172.2,346.6 L173.5,346.4 L174.7,346.1 L175.9,345.6 L177.2,344.9 L178.4,344.1 L179.7,343.2 L180.9,342.1 L182.1,340.8 L183.4,339.4 L184.6,337.9 L185.9,336.2 L187.1,334.4 L188.3,332.4 L189.6,330.3 L190.8,328.1 L192.1,325.7 L193.3,323.2 L194.5,320.5 L195.8,317.8 L197.0,314.9 L198.3,311.8 L199.5,308.7 L200.7,305.4 L202.0,302.1 L203.2,298.6 L204.5,295.1 L205.7,291.4 L206.9,287.7 L208.2,283.8 L209.4,279.9 L210.7,276.0 L211.9,271.9 L213.1,267.9 L214.4,263.7 L215.6,259.6 L216.9,255.3 L218.1,251.1 L219.3,246.9 L220.6,242.6 L221.8,238.3 L223.1,234.1 L224.3,229.8 L225.5,225.6 L226.8,221.4 L228.0,217.2 L229.3,213.1 L230.5,209.0 L231.7,204.9 L233.0,200.9 L234.2,196.9 L235.5,193.1 L236.7,189.2 L237.9,185.5 L239.2,181.8 L240.4,178.1 L241.7,174.6 L242.9,171.1 L244.1,167.7 L245.4,164.4 L246.6,161.2 L247.9,158.0 L249.1,155.0 L250.3,152.0 L251.6,149.1 L252.8,146.2 L254.1,143.5 L255.3,140.8 L256.5,138.2 L257.8,135.7 L259.0,133.3 L260.3,130.9 L261.5,128.7 L262.7,126.4 L264.0,124.3 L265.2,122.2 L266.5,120.2 L267.7,118.3 L268.9,116.5 L270.2,114.7 L271.4,112.9 L272.7,111.2 L273.9,109.6 L275.1,108.1 L276.4,106.6 L277.6,105.1 L278.9,103.8 L280.1,102.4 L281.3,101.1 L282.6,99.9 L283.8,98.7 L285.1,97.6 L286.3,96.5 L287.5,95.4 L288.8,94.4 L290.0,93.4 L291.3,92.5 L292.5,91.6 L293.7,90.8 L295.0,89.9 L296.2,89.2 L297.5,88.4 L298.7,87.7 L299.9,87.0 L301.2,86.4 L302.4,85.8 L303.7,85.2 L304.9,84.6 L306.1,84.1 L307.4,83.6 L308.6,83.1 L309.9,82.7 L311.1,82.2 L312.3,81.8 L313.6,81.5 L314.8,81.1 L316.1,80.8 L317.3,80.5 L318.5,80.2 L319.8,80.0 L321.0,79.7 L322.3,79.5 L323.5,79.3 L324.7,79.1 L326.0,79.0 L327.2,78.9 L328.5,78.8 L329.7,78.7 L330.9,78.6 L332.2,78.6 L333.4,78.5 L334.7,78.5 L335.9,78.5 L337.1,78.6 L338.4,78.6 L339.6,78.7 L340.9,78.8 L342.1,78.9 L343.3,79.0 L344.6,79.2 L345.8,79.4 L347.1,79.6 L348.3,79.8 L349.5,80.0 L350.8,80.3 L352.0,80.6 L353.3,80.9 L354.5,81.2 L355.7,81.6 L357.0,81.9 L358.2,82.3 L359.5,82.8 L360.7,83.2 L361.9,83.7 L363.2,84.2 L364.4,84.8 L365.6,85.3 L366.9,85.9 L368.1,86.6 L369.4,87.2 L370.6,87.9 L371.8,88.6 L373.1,89.4 L374.3,90.2 L375.6,91.0 L376.8,91.9 L378.0,92.8 L379.3,93.7 L380.5,94.7 L381.8,95.7 L383.0,96.8 L384.2,97.9 L385.5,99.1 L386.7,100.3 L388.0,101.6 L389.2,102.9 L390.4,104.2 L391.7,105.6 L392.9,107.1 L394.2,108.6 L395.4,110.2 L396.6,111.9 L397.9,113.6 L399.1,115.3 L400.4,117.2 L401.6,119.1 L402.8,121.1 L404.1,123.1 L405.3,125.2 L406.6,127.4 L407.8,129.7 L409.0,132.0 L410.3,134.4 L411.5,136.9 L412.8,139.5 L414.0,142.2 L415.2,144.9 L416.5,147.8 L417.7,150.7 L419.0,153.7 L420.2,156.8 L421.4,160.0 L422.7,163.3 L423.9,166.7 L425.2,170.1 L426.4,173.7 L427.6,177.3 L428.9,181.1 L430.1,184.9 L431.4,188.8 L432.6,192.8 L433.8,196.8 L435.1,201.0 L436.3,205.2 L437.6,209.5 L438.8,213.9 L440.0,218.3 L441.3,222.8 L442.5,227.3 L443.8,231.9 L445.0,236.6 L446.2,241.3 L447.5,246.0 L448.7,250.7 L450.0,255.5 L451.2,260.3 L452.4,265.1 L453.7,269.9 L454.9,274.7 L456.2,279.5 L457.4,284.3 L458.6,289.1 L459.9,293.8 L461.1,298.5 L462.4,303.2 L463.6,307.8 L464.8,312.4 L466.1,316.9 L467.3,321.3 L468.6,325.7 L469.8,330.0 L471.0,334.3 L472.3,338.4 L473.5,342.5 L474.8,346.5 L476.0,350.5 L477.2,354.3 L478.5,358.1 L479.7,361.7 L481.0,365.3 L482.2,368.8 L483.4,372.2 L484.7,375.5 L485.9,378.8 L487.2,381.9 L488.4,385.0 L489.6,387.9 L490.9,390.8 L492.1,393.6 L493.4,396.3 L494.6,398.9 L495.8,401.5 L497.1,403.9 L498.3,406.3 L499.6,408.6 L500.8,410.8 L502.0,413.0 L503.3,415.1 L504.5,417.1 L505.8,419.0 L507.0,420.9 L508.2,422.7 L509.5,424.5 L510.7,426.2 L512.0,427.8 L513.2,429.4 L514.4,430.9 L515.7,432.4 L516.9,433.8 L518.2,435.2 L519.4,436.5 L520.6,437.8 L521.9,439.0 L523.1,440.2 L524.4,441.3 L525.6,442.4 L526.8,443.5 L528.1,444.5 L529.3,445.5 L530.6,446.4 L531.8,447.3 L533.0,448.2 L534.3,449.0 L535.5,449.8 L536.8,450.6 L538.0,451.4 L539.2,452.1 L540.5,452.8 L541.7,453.5 L543.0,454.1 L544.2,454.7 L545.4,455.3 L546.7,455.9 L547.9,456.5 L549.2,457.0 L550.4,457.5 L551.6,458.0 L552.9,458.5 L554.1,459.0 L555.4,459.4 L556.6,459.8 L557.8,460.2 L559.1,460.6 L560.3,461.0 L561.6,461.4 L562.8,461.7 L564.0,462.1 L565.3,462.4 L566.5,462.7 L567.8,463.0 L569.0,463.3 L570.2,463.6 L571.5,463.8 L572.7,464.1 L574.0,464.3 L575.2,464.6 L576.4,464.8 L577.7,465.0 L578.9,465.2 L580.2,465.4 L581.4,465.6 L582.6,465.8 L583.9,466.0 L585.1,466.2 L586.4,466.3 L587.6,466.5 L588.8,466.7 L590.1,466.8 L591.3,467.0 L592.6,467.1 L593.8,467.2 L595.0,467.4 L596.3,467.5 L597.5,467.6 L598.8,467.7 L600.0,467.8 L601.2,467.9 L602.5,468.0 L603.7,468.1 L605.0,468.2 L606.2,468.3 L607.4,468.4 L608.7,468.5 L609.9,468.6 L611.2,468.6 L612.4,468.7 L613.6,468.8 L614.9,468.9 L616.1,468.9 L617.4,469.0 L618.6,469.1 L619.8,469.1 L621.1,469.2 L622.3,469.2 L623.5,469.3 L624.8,469.3 L626.0,469.4 L627.3,469.4 L628.5,469.5 L629.7,469.5 L631.0,469.5 L632.2,469.6 L633.5,469.6 L634.7,469.7 L635.9,469.7 L637.2,469.7 L638.4,469.8 L639.7,469.8 L640.9,469.8 L642.1,469.9 L643.4,469.9 L644.6,469.9 L645.9,469.9 L647.1,470.0 L648.3,470.0 L649.6,470.0 L650.8,470.0 L652.1,470.1 L653.3,470.1 L654.5,470.1 L655.8,470.1 L657.0,470.1" stroke="#808000" stroke-width="2.6" fill="none" stroke-linejoin="round"/>
<path d="M162.3,272.3 L163.5,272.3 L164.8,272.3 L166.0,272.3 L167.3,272.4 L168.5,272.4 L169.7,272.4 L171.0,272.4 L172.2,272.4 L173.5,272.5 L174.7,272.5 L175.9,272.5 L177.2,272.5 L178.4,272.6 L179.7,272.6 L180.9,272.6 L182.1,272.7 L183.4,272.7 L184.6,272.8 L185.9,272.8 L187.1,272.8 L188.3,272.9 L189.6,272.9 L190.8,273.0 L192.1,273.0 L193.3,273.1 L194.5,273.2 L195.8,273.2 L197.0,273.3 L198.3,273.4 L199.5,273.5 L200.7,273.5 L202.0,273.6 L203.2,273.7 L204.5,273.8 L205.7,273.9 L206.9,274.0 L208.2,274.2 L209.4,274.3 L210.7,274.4 L211.9,274.6 L213.1,274.7 L214.4,274.9 L215.6,275.0 L216.9,275.2 L218.1,275.4 L219.3,275.5 L220.6,275.7 L221.8,275.9 L223.1,276.1 L224.3,276.4 L225.5,276.6 L226.8,276.8 L228.0,277.1 L229.3,277.3 L230.5,277.6 L231.7,277.9 L233.0,278.1 L234.2,278.4 L235.5,278.7 L236.7,279.0 L237.9,279.4 L239.2,279.7 L240.4,280.0 L241.7,280.4 L242.9,280.7 L244.1,281.1 L245.4,281.4 L246.6,281.8 L247.9,282.2 L249.1,282.6 L250.3,283.0 L251.6,283.4 L252.8,283.8 L254.1,284.2 L255.3,284.6 L256.5,285.1 L257.8,285.5 L259.0,285.9 L260.3,286.4 L261.5,286.8 L262.7,287.3 L264.0,287.7 L265.2,288.2 L266.5,288.7 L267.7,289.1 L268.9,289.6 L270.2,290.1 L271.4,290.6 L272.7,291.0 L273.9,291.5 L275.1,292.0 L276.4,292.5 L277.6,293.0 L278.9,293.5 L280.1,294.0 L281.3,294.5 L282.6,295.0 L283.8,295.5 L285.1,296.0 L286.3,296.5 L287.5,297.0 L288.8,297.5 L290.0,298.0 L291.3,298.5 L292.5,299.0 L293.7,299.6 L295.0,300.1 L296.2,300.6 L297.5,301.1 L298.7,301.6 L299.9,302.1 L301.2,302.6 L302.4,303.2 L303.7,303.7 L304.9,304.2 L306.1,304.7 L307.4,305.2 L308.6,305.8 L309.9,306.3 L311.1,306.8 L312.3,307.3 L313.6,307.8 L314.8,308.4 L316.1,308.9 L317.3,309.4 L318.5,309.9 L319.8,310.5 L321.0,311.0 L322.3,311.5 L323.5,312.0 L324.7,312.6 L326.0,313.1 L327.2,313.6 L328.5,314.1 L329.7,314.7 L330.9,315.2 L332.2,315.7 L333.4,316.2 L334.7,316.8 L335.9,317.3 L337.1,317.8 L338.4,318.3 L339.6,318.9 L340.9,319.4 L342.1,319.9 L343.3,320.4 L344.6,321.0 L345.8,321.5 L347.1,322.0 L348.3,322.5 L349.5,323.1 L350.8,323.6 L352.0,324.1 L353.3,324.7 L354.5,325.2 L355.7,325.7 L357.0,326.2 L358.2,326.8 L359.5,327.3 L360.7,327.8 L361.9,328.3 L363.2,328.8 L364.4,329.4 L365.6,329.9 L366.9,330.4 L368.1,330.9 L369.4,331.5 L370.6,332.0 L371.8,332.5 L373.1,333.0 L374.3,333.6 L375.6,334.1 L376.8,334.6 L378.0,335.1 L379.3,335.6 L380.5,336.2 L381.8,336.7 L383.0,337.2 L384.2,337.7 L385.5,338.2 L386.7,338.7 L388.0,339.3 L389.2,339.8 L390.4,340.3 L391.7,340.8 L392.9,341.3 L394.2,341.8 L395.4,342.3 L396.6,342.8 L397.9,343.3 L399.1,343.8 L400.4,344.3 L401.6,344.9 L402.8,345.4 L404.1,345.8 L405.3,346.3 L406.6,346.8 L407.8,347.3 L409.0,347.8 L410.3,348.3 L411.5,348.8 L412.8,349.3 L414.0,349.8 L415.2,350.2 L416.5,350.7 L417.7,351.2 L419.0,351.6 L420.2,352.1 L421.4,352.6 L422.7,353.0 L423.9,353.5 L425.2,353.9 L426.4,354.3 L427.6,354.8 L428.9,355.2 L430.1,355.6 L431.4,356.0 L432.6,356.5 L433.8,356.9 L435.1,357.3 L436.3,357.6 L437.6,358.0 L438.8,358.4 L440.0,358.8 L441.3,359.1 L442.5,359.5 L443.8,359.8 L445.0,360.2 L446.2,360.5 L447.5,360.8 L448.7,361.1 L450.0,361.4 L451.2,361.7 L452.4,362.0 L453.7,362.3 L454.9,362.5 L456.2,362.8 L457.4,363.0 L458.6,363.3 L459.9,363.5 L461.1,363.7 L462.4,363.9 L463.6,364.1 L464.8,364.3 L466.1,364.5 L467.3,364.7 L468.6,364.8 L469.8,365.0 L471.0,365.2 L472.3,365.3 L473.5,365.4 L474.8,365.6 L476.0,365.7 L477.2,365.8 L478.5,365.9 L479.7,366.0 L481.0,366.1 L482.2,366.2 L483.4,366.3 L484.7,366.4 L485.9,366.5 L487.2,366.6 L488.4,366.6 L489.6,366.7 L490.9,366.8 L492.1,366.8 L493.4,366.9 L494.6,366.9 L495.8,367.0 L497.1,367.0 L498.3,367.1 L499.6,367.1 L500.8,367.1 L502.0,367.2 L503.3,367.2 L504.5,367.3 L505.8,367.3 L507.0,367.3 L508.2,367.3 L509.5,367.4 L510.7,367.4 L512.0,367.4 L513.2,367.4 L514.4,367.5 L515.7,367.5 L516.9,367.5 L518.2,367.5 L519.4,367.5 L520.6,367.5 L521.9,367.6 L523.1,367.6 L524.4,367.6 L525.6,367.6 L526.8,367.6 L528.1,367.6 L529.3,367.6 L530.6,367.6 L531.8,367.7 L533.0,367.7 L534.3,367.7 L535.5,367.7 L536.8,367.7 L538.0,367.7 L539.2,367.7 L540.5,367.7 L541.7,367.7 L543.0,367.7 L544.2,367.7 L545.4,367.7 L546.7,367.7 L547.9,367.7 L549.2,367.7 L550.4,367.8 L551.6,367.8 L552.9,367.8 L554.1,367.8 L555.4,367.8 L556.6,367.8 L557.8,367.8 L559.1,367.8 L560.3,367.8 L561.6,367.8 L562.8,367.8 L564.0,367.8 L565.3,367.8 L566.5,367.8 L567.8,367.8 L569.0,367.8 L570.2,367.8 L571.5,367.8 L572.7,367.8 L574.0,367.8 L575.2,367.8 L576.4,367.8 L577.7,367.8 L578.9,367.8 L580.2,367.8 L581.4,367.8 L582.6,367.8 L583.9,367.8 L585.1,367.8 L586.4,367.8 L587.6,367.8 L588.8,367.8 L590.1,367.8 L591.3,367.8 L592.6,367.8 L593.8,367.8 L595.0,367.8 L596.3,367.8 L597.5,367.8 L598.8,367.8 L600.0,367.8 L601.2,367.8 L602.5,367.8 L603.7,367.8 L605.0,367.8 L606.2,367.8 L607.4,367.8 L608.7,367.8 L609.9,367.8 L611.2,367.8 L612.4,367.8 L613.6,367.8 L614.9,367.8 L616.1,367.8 L617.4,367.8 L618.6,367.8 L619.8,367.8 L621.1,367.8 L622.3,367.8 L623.5,367.8 L624.8,367.8 L626.0,367.8 L627.3,367.8 L628.5,367.8 L629.7,367.8 L631.0,367.8 L632.2,367.8 L633.5,367.8 L634.7,367.8 L635.9,367.8 L637.2,367.8 L638.4,367.8 L639.7,367.8 L640.9,367.8 L642.1,367.8 L643.4,367.8 L644.6,367.8 L645.9,367.8 L647.1,367.8 L648.3,367.8 L649.6,367.8 L650.8,367.8 L652.1,367.8 L653.3,367.8 L654.5,367.8 L655.8,367.8 L657.0,367.8" stroke="#B8860B" stroke-width="2.6" fill="none" stroke-linejoin="round"/>
<path d="M162.3,381.8 L163.5,382.5 L164.8,383.1 L166.0,383.7 L167.3,384.2 L168.5,384.5 L169.7,384.8 L171.0,385.1 L172.2,385.2 L173.5,385.3 L174.7,385.2 L175.9,385.1 L177.2,384.9 L178.4,384.6 L179.7,384.2 L180.9,383.6 L182.1,383.0 L183.4,382.3 L184.6,381.5 L185.9,380.6 L187.1,379.6 L188.3,378.5 L189.6,377.2 L190.8,375.9 L192.1,374.4 L193.3,372.8 L194.5,371.1 L195.8,369.3 L197.0,367.4 L198.3,365.3 L199.5,363.1 L200.7,360.8 L202.0,358.4 L203.2,355.9 L204.5,353.2 L205.7,350.4 L206.9,347.4 L208.2,344.4 L209.4,341.2 L210.7,337.8 L211.9,334.4 L213.1,330.8 L214.4,327.1 L215.6,323.3 L216.9,319.4 L218.1,315.4 L219.3,311.2 L220.6,307.0 L221.8,302.6 L223.1,298.2 L224.3,293.6 L225.5,289.0 L226.8,284.3 L228.0,279.6 L229.3,274.8 L230.5,269.9 L231.7,265.0 L233.0,260.0 L234.2,255.1 L235.5,250.1 L236.7,245.1 L237.9,240.1 L239.2,235.1 L240.4,230.1 L241.7,225.2 L242.9,220.3 L244.1,215.4 L245.4,210.6 L246.6,205.8 L247.9,201.1 L249.1,196.5 L250.3,192.0 L251.6,187.5 L252.8,183.1 L254.1,178.8 L255.3,174.6 L256.5,170.5 L257.8,166.5 L259.0,162.6 L260.3,158.8 L261.5,155.1 L262.7,151.5 L264.0,148.0 L265.2,144.6 L266.5,141.3 L267.7,138.2 L268.9,135.1 L270.2,132.1 L271.4,129.2 L272.7,126.5 L273.9,123.8 L275.1,121.2 L276.4,118.7 L277.6,116.3 L278.9,114.0 L280.1,111.8 L281.3,109.7 L282.6,107.6 L283.8,105.7 L285.1,103.8 L286.3,102.0 L287.5,100.2 L288.8,98.6 L290.0,97.0 L291.3,95.5 L292.5,94.0 L293.7,92.6 L295.0,91.3 L296.2,90.0 L297.5,88.8 L298.7,87.7 L299.9,86.6 L301.2,85.5 L302.4,84.5 L303.7,83.6 L304.9,82.7 L306.1,81.9 L307.4,81.1 L308.6,80.3 L309.9,79.6 L311.1,78.9 L312.3,78.3 L313.6,77.7 L314.8,77.2 L316.1,76.6 L317.3,76.2 L318.5,75.7 L319.8,75.3 L321.0,75.0 L322.3,74.6 L323.5,74.3 L324.7,74.0 L326.0,73.8 L327.2,73.6 L328.5,73.4 L329.7,73.2 L330.9,73.1 L332.2,73.0 L333.4,73.0 L334.7,72.9 L335.9,72.9 L337.1,72.9 L338.4,73.0 L339.6,73.0 L340.9,73.1 L342.1,73.2 L343.3,73.4 L344.6,73.6 L345.8,73.8 L347.1,74.0 L348.3,74.2 L349.5,74.5 L350.8,74.8 L352.0,75.2 L353.3,75.5 L354.5,75.9 L355.7,76.3 L357.0,76.8 L358.2,77.2 L359.5,77.7 L360.7,78.3 L361.9,78.8 L363.2,79.4 L364.4,80.1 L365.6,80.7 L366.9,81.4 L368.1,82.1 L369.4,82.9 L370.6,83.7 L371.8,84.5 L373.1,85.4 L374.3,86.3 L375.6,87.2 L376.8,88.2 L378.0,89.2 L379.3,90.3 L380.5,91.4 L381.8,92.5 L383.0,93.7 L384.2,95.0 L385.5,96.3 L386.7,97.6 L388.0,99.0 L389.2,100.4 L390.4,101.9 L391.7,103.5 L392.9,105.1 L394.2,106.7 L395.4,108.5 L396.6,110.2 L397.9,112.1 L399.1,114.0 L400.4,116.0 L401.6,118.0 L402.8,120.1 L404.1,122.3 L405.3,124.5 L406.6,126.9 L407.8,129.3 L409.0,131.7 L410.3,134.3 L411.5,136.9 L412.8,139.6 L414.0,142.4 L415.2,145.3 L416.5,148.2 L417.7,151.3 L419.0,154.4 L420.2,157.6 L421.4,160.9 L422.7,164.3 L423.9,167.7 L425.2,171.3 L426.4,174.9 L427.6,178.6 L428.9,182.4 L430.1,186.3 L431.4,190.2 L432.6,194.2 L433.8,198.3 L435.1,202.5 L436.3,206.7 L437.6,211.0 L438.8,215.4 L440.0,219.8 L441.3,224.3 L442.5,228.8 L443.8,233.3 L445.0,237.9 L446.2,242.6 L447.5,247.2 L448.7,251.9 L450.0,256.6 L451.2,261.3 L452.4,266.0 L453.7,270.7 L454.9,275.4 L456.2,280.1 L457.4,284.8 L458.6,289.4 L459.9,294.0 L461.1,298.6 L462.4,303.2 L463.6,307.7 L464.8,312.1 L466.1,316.5 L467.3,320.8 L468.6,325.1 L469.8,329.3 L471.0,333.4 L472.3,337.4 L473.5,341.4 L474.8,345.3 L476.0,349.1 L477.2,352.9 L478.5,356.5 L479.7,360.1 L481.0,363.6 L482.2,367.0 L483.4,370.3 L484.7,373.6 L485.9,376.7 L487.2,379.8 L488.4,382.8 L489.6,385.7 L490.9,388.5 L492.1,391.3 L493.4,393.9 L494.6,396.5 L495.8,399.0 L497.1,401.5 L498.3,403.8 L499.6,406.1 L500.8,408.3 L502.0,410.4 L503.3,412.5 L504.5,414.5 L505.8,416.5 L507.0,418.3 L508.2,420.2 L509.5,421.9 L510.7,423.6 L512.0,425.3 L513.2,426.8 L514.4,428.4 L515.7,429.9 L516.9,431.3 L518.2,432.7 L519.4,434.0 L520.6,435.3 L521.9,436.5 L523.1,437.7 L524.4,438.9 L525.6,440.0 L526.8,441.1 L528.1,442.1 L529.3,443.2 L530.6,444.1 L531.8,445.1 L533.0,446.0 L534.3,446.8 L535.5,447.7 L536.8,448.5 L538.0,449.3 L539.2,450.0 L540.5,450.8 L541.7,451.5 L543.0,452.1 L544.2,452.8 L545.4,453.4 L546.7,454.0 L547.9,454.6 L549.2,455.2 L550.4,455.7 L551.6,456.2 L552.9,456.8 L554.1,457.2 L555.4,457.7 L556.6,458.2 L557.8,458.6 L559.1,459.0 L560.3,459.4 L561.6,459.8 L562.8,460.2 L564.0,460.6 L565.3,460.9 L566.5,461.3 L567.8,461.6 L569.0,461.9 L570.2,462.2 L571.5,462.5 L572.7,462.8 L574.0,463.1 L575.2,463.3 L576.4,463.6 L577.7,463.8 L578.9,464.1 L580.2,464.3 L581.4,464.5 L582.6,464.7 L583.9,464.9 L585.1,465.1 L586.4,465.3 L587.6,465.5 L588.8,465.7 L590.1,465.9 L591.3,466.0 L592.6,466.2 L593.8,466.3 L595.0,466.5 L596.3,466.6 L597.5,466.8 L598.8,466.9 L600.0,467.0 L601.2,467.1 L602.5,467.3 L603.7,467.4 L605.0,467.5 L606.2,467.6 L607.4,467.7 L608.7,467.8 L609.9,467.9 L611.2,468.0 L612.4,468.1 L613.6,468.2 L614.9,468.3 L616.1,468.3 L617.4,468.4 L618.6,468.5 L619.8,468.6 L621.1,468.6 L622.3,468.7 L623.5,468.8 L624.8,468.8 L626.0,468.9 L627.3,468.9 L628.5,469.0 L629.7,469.1 L631.0,469.1 L632.2,469.2 L633.5,469.2 L634.7,469.3 L635.9,469.3 L637.2,469.3 L638.4,469.4 L639.7,469.4 L640.9,469.5 L642.1,469.5 L643.4,469.5 L644.6,469.6 L645.9,469.6 L647.1,469.6 L648.3,469.7 L649.6,469.7 L650.8,469.7 L652.1,469.8 L653.3,469.8 L654.5,469.8 L655.8,469.8 L657.0,469.9" stroke="#B8860B" stroke-width="2.6" fill="none" stroke-linejoin="round"/>
<path d="M162.3,269.7 L163.5,269.8 L164.8,269.8 L166.0,269.8 L167.3,269.8 L168.5,269.8 L169.7,269.9 L171.0,269.9 L172.2,269.9 L173.5,269.9 L174.7,270.0 L175.9,270.0 L177.2,270.0 L178.4,270.1 L179.7,270.1 L180.9,270.1 L182.1,270.2 L183.4,270.2 L184.6,270.3 L185.9,270.3 L187.1,270.4 L188.3,270.4 L189.6,270.5 L190.8,270.6 L192.1,270.6 L193.3,270.7 L194.5,270.8 L195.8,270.8 L197.0,270.9 L198.3,271.0 L199.5,271.1 L200.7,271.2 L202.0,271.3 L203.2,271.4 L204.5,271.6 L205.7,271.7 L206.9,271.8 L208.2,271.9 L209.4,272.1 L210.7,272.2 L211.9,272.4 L213.1,272.6 L214.4,272.8 L215.6,272.9 L216.9,273.1 L218.1,273.3 L219.3,273.6 L220.6,273.8 L221.8,274.0 L223.1,274.2 L224.3,274.5 L225.5,274.7 L226.8,275.0 L228.0,275.3 L229.3,275.6 L230.5,275.9 L231.7,276.2 L233.0,276.5 L234.2,276.8 L235.5,277.1 L236.7,277.5 L237.9,277.8 L239.2,278.2 L240.4,278.6 L241.7,278.9 L242.9,279.3 L244.1,279.7 L245.4,280.1 L246.6,280.5 L247.9,280.9 L249.1,281.3 L250.3,281.7 L251.6,282.2 L252.8,282.6 L254.1,283.0 L255.3,283.5 L256.5,283.9 L257.8,284.4 L259.0,284.9 L260.3,285.3 L261.5,285.8 L262.7,286.3 L264.0,286.7 L265.2,287.2 L266.5,287.7 L267.7,288.2 L268.9,288.7 L270.2,289.1 L271.4,289.6 L272.7,290.1 L273.9,290.6 L275.1,291.1 L276.4,291.6 L277.6,292.1 L278.9,292.6 L280.1,293.1 L281.3,293.6 L282.6,294.2 L283.8,294.7 L285.1,295.2 L286.3,295.7 L287.5,296.2 L288.8,296.7 L290.0,297.2 L291.3,297.8 L292.5,298.3 L293.7,298.8 L295.0,299.3 L296.2,299.8 L297.5,300.3 L298.7,300.9 L299.9,301.4 L301.2,301.9 L302.4,302.4 L303.7,303.0 L304.9,303.5 L306.1,304.0 L307.4,304.5 L308.6,305.1 L309.9,305.6 L311.1,306.1 L312.3,306.6 L313.6,307.2 L314.8,307.7 L316.1,308.2 L317.3,308.7 L318.5,309.3 L319.8,309.8 L321.0,310.3 L322.3,310.9 L323.5,311.4 L324.7,311.9 L326.0,312.4 L327.2,313.0 L328.5,313.5 L329.7,314.0 L330.9,314.6 L332.2,315.1 L333.4,315.6 L334.7,316.1 L335.9,316.7 L337.1,317.2 L338.4,317.7 L339.6,318.3 L340.9,318.8 L342.1,319.3 L343.3,319.8 L344.6,320.4 L345.8,320.9 L347.1,321.4 L348.3,322.0 L349.5,322.5 L350.8,323.0 L352.0,323.6 L353.3,324.1 L354.5,324.6 L355.7,325.1 L357.0,325.7 L358.2,326.2 L359.5,326.7 L360.7,327.2 L361.9,327.8 L363.2,328.3 L364.4,328.8 L365.6,329.4 L366.9,329.9 L368.1,330.4 L369.4,330.9 L370.6,331.5 L371.8,332.0 L373.1,332.5 L374.3,333.0 L375.6,333.6 L376.8,334.1 L378.0,334.6 L379.3,335.1 L380.5,335.7 L381.8,336.2 L383.0,336.7 L384.2,337.2 L385.5,337.7 L386.7,338.3 L388.0,338.8 L389.2,339.3 L390.4,339.8 L391.7,340.3 L392.9,340.8 L394.2,341.3 L395.4,341.9 L396.6,342.4 L397.9,342.9 L399.1,343.4 L400.4,343.9 L401.6,344.4 L402.8,344.9 L404.1,345.4 L405.3,345.9 L406.6,346.4 L407.8,346.9 L409.0,347.4 L410.3,347.9 L411.5,348.4 L412.8,348.8 L414.0,349.3 L415.2,349.8 L416.5,350.3 L417.7,350.7 L419.0,351.2 L420.2,351.7 L421.4,352.1 L422.7,352.6 L423.9,353.0 L425.2,353.5 L426.4,353.9 L427.6,354.3 L428.9,354.8 L430.1,355.2 L431.4,355.6 L432.6,356.0 L433.8,356.4 L435.1,356.8 L436.3,357.2 L437.6,357.6 L438.8,358.0 L440.0,358.3 L441.3,358.7 L442.5,359.0 L443.8,359.4 L445.0,359.7 L446.2,360.0 L447.5,360.3 L448.7,360.6 L450.0,360.9 L451.2,361.2 L452.4,361.5 L453.7,361.8 L454.9,362.0 L456.2,362.3 L457.4,362.5 L458.6,362.7 L459.9,363.0 L461.1,363.2 L462.4,363.4 L463.6,363.6 L464.8,363.8 L466.1,363.9 L467.3,364.1 L468.6,364.3 L469.8,364.4 L471.0,364.6 L472.3,364.7 L473.5,364.8 L474.8,364.9 L476.0,365.1 L477.2,365.2 L478.5,365.3 L479.7,365.4 L481.0,365.5 L482.2,365.6 L483.4,365.7 L484.7,365.7 L485.9,365.8 L487.2,365.9 L488.4,365.9 L489.6,366.0 L490.9,366.1 L492.1,366.1 L493.4,366.2 L494.6,366.2 L495.8,366.3 L497.1,366.3 L498.3,366.4 L499.6,366.4 L500.8,366.4 L502.0,366.5 L503.3,366.5 L504.5,366.5 L505.8,366.6 L507.0,366.6 L508.2,366.6 L509.5,366.6 L510.7,366.7 L512.0,366.7 L513.2,366.7 L514.4,366.7 L515.7,366.7 L516.9,366.8 L518.2,366.8 L519.4,366.8 L520.6,366.8 L521.9,366.8 L523.1,366.8 L524.4,366.8 L525.6,366.9 L526.8,366.9 L528.1,366.9 L529.3,366.9 L530.6,366.9 L531.8,366.9 L533.0,366.9 L534.3,366.9 L535.5,366.9 L536.8,366.9 L538.0,366.9 L539.2,366.9 L540.5,367.0 L541.7,367.0 L543.0,367.0 L544.2,367.0 L545.4,367.0 L546.7,367.0 L547.9,367.0 L549.2,367.0 L550.4,367.0 L551.6,367.0 L552.9,367.0 L554.1,367.0 L555.4,367.0 L556.6,367.0 L557.8,367.0 L559.1,367.0 L560.3,367.0 L561.6,367.0 L562.8,367.0 L564.0,367.0 L565.3,367.0 L566.5,367.0 L567.8,367.0 L569.0,367.0 L570.2,367.0 L571.5,367.0 L572.7,367.0 L574.0,367.0 L575.2,367.0 L576.4,367.0 L577.7,367.0 L578.9,367.0 L580.2,367.0 L581.4,367.0 L582.6,367.0 L583.9,367.0 L585.1,367.0 L586.4,367.1 L587.6,367.1 L588.8,367.1 L590.1,367.1 L591.3,367.1 L592.6,367.1 L593.8,367.1 L595.0,367.1 L596.3,367.1 L597.5,367.1 L598.8,367.1 L600.0,367.1 L601.2,367.1 L602.5,367.1 L603.7,367.1 L605.0,367.1 L606.2,367.1 L607.4,367.1 L608.7,367.1 L609.9,367.1 L611.2,367.1 L612.4,367.1 L613.6,367.1 L614.9,367.1 L616.1,367.1 L617.4,367.1 L618.6,367.1 L619.8,367.1 L621.1,367.1 L622.3,367.1 L623.5,367.1 L624.8,367.1 L626.0,367.1 L627.3,367.1 L628.5,367.1 L629.7,367.1 L631.0,367.1 L632.2,367.1 L633.5,367.1 L634.7,367.1 L635.9,367.1 L637.2,367.1 L638.4,367.1 L639.7,367.1 L640.9,367.1 L642.1,367.1 L643.4,367.1 L644.6,367.1 L645.9,367.1 L647.1,367.1 L648.3,367.1 L649.6,367.1 L650.8,367.1 L652.1,367.1 L653.3,367.1 L654.5,367.1 L655.8,367.1 L657.0,367.1" stroke="#8FBC8F" stroke-width="2.6" fill="none" stroke-linejoin="round"/>
<path d="M162.3,382.6 L163.5,383.4 L164.8,384.1 L166.0,384.7 L167.3,385.2 L168.5,385.6 L169.7,386.0 L171.0,386.3 L172.2,386.5 L173.5,386.6 L174.7,386.6 L175.9,386.5 L177.2,386.4 L178.4,386.1 L179.7,385.8 L180.9,385.3 L182.1,384.8 L183.4,384.1 L184.6,383.4 L185.9,382.6 L187.1,381.6 L188.3,380.5 L189.6,379.4 L190.8,378.1 L192.1,376.7 L193.3,375.2 L194.5,373.6 L195.8,371.9 L197.0,370.0 L198.3,368.0 L199.5,366.0 L200.7,363.8 L202.0,361.4 L203.2,359.0 L204.5,356.4 L205.7,353.7 L206.9,350.8 L208.2,347.9 L209.4,344.8 L210.7,341.6 L211.9,338.3 L213.1,334.8 L214.4,331.3 L215.6,327.6 L216.9,323.8 L218.1,319.9 L219.3,315.8 L220.6,311.7 L221.8,307.5 L223.1,303.1 L224.3,298.7 L225.5,294.2 L226.8,289.6 L228.0,285.0 L229.3,280.3 L230.5,275.5 L231.7,270.7 L233.0,265.8 L234.2,260.9 L235.5,256.0 L236.7,251.0 L237.9,246.1 L239.2,241.1 L240.4,236.2 L241.7,231.3 L242.9,226.4 L244.1,221.5 L245.4,216.7 L246.6,211.9 L247.9,207.2 L249.1,202.6 L250.3,198.0 L251.6,193.5 L252.8,189.1 L254.1,184.7 L255.3,180.5 L256.5,176.3 L257.8,172.2 L259.0,168.3 L260.3,164.4 L261.5,160.6 L262.7,156.9 L264.0,153.3 L265.2,149.9 L266.5,146.5 L267.7,143.2 L268.9,140.0 L270.2,137.0 L271.4,134.0 L272.7,131.1 L273.9,128.3 L275.1,125.7 L276.4,123.1 L277.6,120.6 L278.9,118.2 L280.1,115.9 L281.3,113.6 L282.6,111.5 L283.8,109.4 L285.1,107.4 L286.3,105.5 L287.5,103.7 L288.8,101.9 L290.0,100.3 L291.3,98.6 L292.5,97.1 L293.7,95.6 L295.0,94.2 L296.2,92.9 L297.5,91.6 L298.7,90.3 L299.9,89.1 L301.2,88.0 L302.4,87.0 L303.7,85.9 L304.9,85.0 L306.1,84.0 L307.4,83.2 L308.6,82.3 L309.9,81.6 L311.1,80.8 L312.3,80.1 L313.6,79.5 L314.8,78.8 L316.1,78.3 L317.3,77.7 L318.5,77.2 L319.8,76.8 L321.0,76.3 L322.3,75.9 L323.5,75.5 L324.7,75.2 L326.0,74.9 L327.2,74.6 L328.5,74.4 L329.7,74.2 L330.9,74.0 L332.2,73.8 L333.4,73.7 L334.7,73.6 L335.9,73.5 L337.1,73.5 L338.4,73.5 L339.6,73.5 L340.9,73.5 L342.1,73.6 L343.3,73.7 L344.6,73.8 L345.8,74.0 L347.1,74.1 L348.3,74.3 L349.5,74.6 L350.8,74.8 L352.0,75.1 L353.3,75.4 L354.5,75.8 L355.7,76.1 L357.0,76.5 L358.2,76.9 L359.5,77.4 L360.7,77.9 L361.9,78.4 L363.2,78.9 L364.4,79.5 L365.6,80.1 L366.9,80.8 L368.1,81.5 L369.4,82.2 L370.6,82.9 L371.8,83.7 L373.1,84.5 L374.3,85.4 L375.6,86.3 L376.8,87.2 L378.0,88.2 L379.3,89.2 L380.5,90.3 L381.8,91.4 L383.0,92.5 L384.2,93.7 L385.5,95.0 L386.7,96.3 L388.0,97.6 L389.2,99.0 L390.4,100.5 L391.7,102.0 L392.9,103.6 L394.2,105.2 L395.4,106.9 L396.6,108.6 L397.9,110.5 L399.1,112.3 L400.4,114.3 L401.6,116.3 L402.8,118.4 L404.1,120.5 L405.3,122.8 L406.6,125.1 L407.8,127.5 L409.0,129.9 L410.3,132.5 L411.5,135.1 L412.8,137.8 L414.0,140.6 L415.2,143.5 L416.5,146.4 L417.7,149.5 L419.0,152.6 L420.2,155.8 L421.4,159.1 L422.7,162.5 L423.9,166.0 L425.2,169.6 L426.4,173.2 L427.6,177.0 L428.9,180.8 L430.1,184.7 L431.4,188.7 L432.6,192.8 L433.8,197.0 L435.1,201.2 L436.3,205.5 L437.6,209.9 L438.8,214.3 L440.0,218.8 L441.3,223.4 L442.5,228.0 L443.8,232.6 L445.0,237.3 L446.2,242.0 L447.5,246.8 L448.7,251.5 L450.0,256.3 L451.2,261.1 L452.4,266.0 L453.7,270.8 L454.9,275.6 L456.2,280.3 L457.4,285.1 L458.6,289.8 L459.9,294.6 L461.1,299.2 L462.4,303.8 L463.6,308.4 L464.8,312.9 L466.1,317.4 L467.3,321.8 L468.6,326.1 L469.8,330.4 L471.0,334.6 L472.3,338.7 L473.5,342.7 L474.8,346.7 L476.0,350.6 L477.2,354.4 L478.5,358.1 L479.7,361.7 L481.0,365.2 L482.2,368.6 L483.4,372.0 L484.7,375.3 L485.9,378.4 L487.2,381.5 L488.4,384.5 L489.6,387.4 L490.9,390.3 L492.1,393.0 L493.4,395.7 L494.6,398.3 L495.8,400.8 L497.1,403.2 L498.3,405.6 L499.6,407.8 L500.8,410.0 L502.0,412.2 L503.3,414.2 L504.5,416.2 L505.8,418.2 L507.0,420.0 L508.2,421.8 L509.5,423.6 L510.7,425.2 L512.0,426.9 L513.2,428.4 L514.4,429.9 L515.7,431.4 L516.9,432.8 L518.2,434.2 L519.4,435.5 L520.6,436.8 L521.9,438.0 L523.1,439.2 L524.4,440.3 L525.6,441.4 L526.8,442.4 L528.1,443.5 L529.3,444.4 L530.6,445.4 L531.8,446.3 L533.0,447.2 L534.3,448.0 L535.5,448.9 L536.8,449.6 L538.0,450.4 L539.2,451.1 L540.5,451.8 L541.7,452.5 L543.0,453.2 L544.2,453.8 L545.4,454.4 L546.7,455.0 L547.9,455.6 L549.2,456.1 L550.4,456.6 L551.6,457.2 L552.9,457.6 L554.1,458.1 L555.4,458.6 L556.6,459.0 L557.8,459.4 L559.1,459.8 L560.3,460.2 L561.6,460.6 L562.8,461.0 L564.0,461.3 L565.3,461.6 L566.5,462.0 L567.8,462.3 L569.0,462.6 L570.2,462.9 L571.5,463.1 L572.7,463.4 L574.0,463.7 L575.2,463.9 L576.4,464.2 L577.7,464.4 L578.9,464.6 L580.2,464.8 L581.4,465.0 L582.6,465.2 L583.9,465.4 L585.1,465.6 L586.4,465.8 L587.6,466.0 L588.8,466.1 L590.1,466.3 L591.3,466.5 L592.6,466.6 L593.8,466.7 L595.0,466.9 L596.3,467.0 L597.5,467.1 L598.8,467.3 L600.0,467.4 L601.2,467.5 L602.5,467.6 L603.7,467.7 L605.0,467.8 L606.2,467.9 L607.4,468.0 L608.7,468.1 L609.9,468.2 L611.2,468.3 L612.4,468.4 L613.6,468.4 L614.9,468.5 L616.1,468.6 L617.4,468.7 L618.6,468.7 L619.8,468.8 L621.1,468.9 L622.3,468.9 L623.5,469.0 L624.8,469.0 L626.0,469.1 L627.3,469.1 L628.5,469.2 L629.7,469.2 L631.0,469.3 L632.2,469.3 L633.5,469.4 L634.7,469.4 L635.9,469.5 L637.2,469.5 L638.4,469.5 L639.7,469.6 L640.9,469.6 L642.1,469.7 L643.4,469.7 L644.6,469.7 L645.9,469.8 L647.1,469.8 L648.3,469.8 L649.6,469.8 L650.8,469.9 L652.1,469.9 L653.3,469.9 L654.5,469.9 L655.8,470.0 L657.0,470.0" stroke="#8FBC8F" stroke-width="2.6" fill="none" stroke-linejoin="round"/>
<path d="M162.3,267.7 L163.5,267.7 L164.8,267.7 L166.0,267.8 L167.3,267.8 L168.5,267.8 L169.7,267.8 L171.0,267.9 L172.2,267.9 L173.5,267.9 L174.7,268.0 L175.9,268.0 L177.2,268.0 L178.4,268.1 L179.7,268.1 L180.9,268.1 L182.1,268.2 L183.4,268.2 L184.6,268.3 L185.9,268.4 L187.1,268.4 L188.3,268.5 L189.6,268.5 L190.8,268.6 L192.1,268.7 L193.3,268.8 L194.5,268.9 L195.8,268.9 L197.0,269.0 L198.3,269.1 L199.5,269.2 L200.7,269.3 L202.0,269.5 L203.2,269.6 L204.5,269.7 L205.7,269.9 L206.9,270.0 L208.2,270.2 L209.4,270.3 L210.7,270.5 L211.9,270.7 L213.1,270.8 L214.4,271.0 L215.6,271.2 L216.9,271.4 L218.1,271.7 L219.3,271.9 L220.6,272.1 L221.8,272.4 L223.1,272.6 L224.3,272.9 L225.5,273.2 L226.8,273.4 L228.0,273.7 L229.3,274.0 L230.5,274.4 L231.7,274.7 L233.0,275.0 L234.2,275.3 L235.5,275.7 L236.7,276.0 L237.9,276.4 L239.2,276.8 L240.4,277.1 L241.7,277.5 L242.9,277.9 L244.1,278.3 L245.4,278.7 L246.6,279.1 L247.9,279.6 L249.1,280.0 L250.3,280.4 L251.6,280.9 L252.8,281.3 L254.1,281.7 L255.3,282.2 L256.5,282.6 L257.8,283.1 L259.0,283.6 L260.3,284.0 L261.5,284.5 L262.7,285.0 L264.0,285.5 L265.2,285.9 L266.5,286.4 L267.7,286.9 L268.9,287.4 L270.2,287.9 L271.4,288.4 L272.7,288.9 L273.9,289.4 L275.1,289.9 L276.4,290.4 L277.6,290.9 L278.9,291.4 L280.1,291.9 L281.3,292.4 L282.6,292.9 L283.8,293.4 L285.1,293.9 L286.3,294.5 L287.5,295.0 L288.8,295.5 L290.0,296.0 L291.3,296.5 L292.5,297.0 L293.7,297.6 L295.0,298.1 L296.2,298.6 L297.5,299.1 L298.7,299.6 L299.9,300.2 L301.2,300.7 L302.4,301.2 L303.7,301.7 L304.9,302.2 L306.1,302.8 L307.4,303.3 L308.6,303.8 L309.9,304.3 L311.1,304.9 L312.3,305.4 L313.6,305.9 L314.8,306.4 L316.1,307.0 L317.3,307.5 L318.5,308.0 L319.8,308.6 L321.0,309.1 L322.3,309.6 L323.5,310.1 L324.7,310.7 L326.0,311.2 L327.2,311.7 L328.5,312.2 L329.7,312.8 L330.9,313.3 L332.2,313.8 L333.4,314.4 L334.7,314.9 L335.9,315.4 L337.1,315.9 L338.4,316.5 L339.6,317.0 L340.9,317.5 L342.1,318.0 L343.3,318.6 L344.6,319.1 L345.8,319.6 L347.1,320.2 L348.3,320.7 L349.5,321.2 L350.8,321.7 L352.0,322.3 L353.3,322.8 L354.5,323.3 L355.7,323.8 L357.0,324.4 L358.2,324.9 L359.5,325.4 L360.7,326.0 L361.9,326.5 L363.2,327.0 L364.4,327.5 L365.6,328.1 L366.9,328.6 L368.1,329.1 L369.4,329.6 L370.6,330.2 L371.8,330.7 L373.1,331.2 L374.3,331.7 L375.6,332.2 L376.8,332.8 L378.0,333.3 L379.3,333.8 L380.5,334.3 L381.8,334.8 L383.0,335.4 L384.2,335.9 L385.5,336.4 L386.7,336.9 L388.0,337.4 L389.2,337.9 L390.4,338.5 L391.7,339.0 L392.9,339.5 L394.2,340.0 L395.4,340.5 L396.6,341.0 L397.9,341.5 L399.1,342.0 L400.4,342.5 L401.6,343.0 L402.8,343.5 L404.1,344.0 L405.3,344.5 L406.6,345.0 L407.8,345.5 L409.0,346.0 L410.3,346.5 L411.5,346.9 L412.8,347.4 L414.0,347.9 L415.2,348.4 L416.5,348.8 L417.7,349.3 L419.0,349.7 L420.2,350.2 L421.4,350.7 L422.7,351.1 L423.9,351.5 L425.2,352.0 L426.4,352.4 L427.6,352.8 L428.9,353.2 L430.1,353.7 L431.4,354.1 L432.6,354.5 L433.8,354.9 L435.1,355.2 L436.3,355.6 L437.6,356.0 L438.8,356.3 L440.0,356.7 L441.3,357.0 L442.5,357.4 L443.8,357.7 L445.0,358.0 L446.2,358.3 L447.5,358.6 L448.7,358.9 L450.0,359.2 L451.2,359.5 L452.4,359.7 L453.7,360.0 L454.9,360.2 L456.2,360.5 L457.4,360.7 L458.6,360.9 L459.9,361.1 L461.1,361.3 L462.4,361.5 L463.6,361.7 L464.8,361.9 L466.1,362.0 L467.3,362.2 L468.6,362.4 L469.8,362.5 L471.0,362.6 L472.3,362.8 L473.5,362.9 L474.8,363.0 L476.0,363.1 L477.2,363.2 L478.5,363.3 L479.7,363.4 L481.0,363.5 L482.2,363.6 L483.4,363.7 L484.7,363.7 L485.9,363.8 L487.2,363.9 L488.4,363.9 L489.6,364.0 L490.9,364.0 L492.1,364.1 L493.4,364.1 L494.6,364.2 L495.8,364.2 L497.1,364.3 L498.3,364.3 L499.6,364.4 L500.8,364.4 L502.0,364.4 L503.3,364.5 L504.5,364.5 L505.8,364.5 L507.0,364.5 L508.2,364.6 L509.5,364.6 L510.7,364.6 L512.0,364.6 L513.2,364.6 L514.4,364.7 L515.7,364.7 L516.9,364.7 L518.2,364.7 L519.4,364.7 L520.6,364.7 L521.9,364.7 L523.1,364.8 L524.4,364.8 L525.6,364.8 L526.8,364.8 L528.1,364.8 L529.3,364.8 L530.6,364.8 L531.8,364.8 L533.0,364.8 L534.3,364.8 L535.5,364.9 L536.8,364.9 L538.0,364.9 L539.2,364.9 L540.5,364.9 L541.7,364.9 L543.0,364.9 L544.2,364.9 L545.4,364.9 L546.7,364.9 L547.9,364.9 L549.2,364.9 L550.4,364.9 L551.6,364.9 L552.9,364.9 L554.1,364.9 L555.4,364.9 L556.6,364.9 L557.8,364.9 L559.1,364.9 L560.3,364.9 L561.6,364.9 L562.8,364.9 L564.0,364.9 L565.3,364.9 L566.5,364.9 L567.8,365.0 L569.0,365.0 L570.2,365.0 L571.5,365.0 L572.7,365.0 L574.0,365.0 L575.2,365.0 L576.4,365.0 L577.7,365.0 L578.9,365.0 L580.2,365.0 L581.4,365.0 L582.6,365.0 L583.9,365.0 L585.1,365.0 L586.4,365.0 L587.6,365.0 L588.8,365.0 L590.1,365.0 L591.3,365.0 L592.6,365.0 L593.8,365.0 L595.0,365.0 L596.3,365.0 L597.5,365.0 L598.8,365.0 L600.0,365.0 L601.2,365.0 L602.5,365.0 L603.7,365.0 L605.0,365.0 L606.2,365.0 L607.4,365.0 L608.7,365.0 L609.9,365.0 L611.2,365.0 L612.4,365.0 L613.6,365.0 L614.9,365.0 L616.1,365.0 L617.4,365.0 L618.6,365.0 L619.8,365.0 L621.1,365.0 L622.3,365.0 L623.5,365.0 L624.8,365.0 L626.0,365.0 L627.3,365.0 L628.5,365.0 L629.7,365.0 L631.0,365.0 L632.2,365.0 L633.5,365.0 L634.7,365.0 L635.9,365.0 L637.2,365.0 L638.4,365.0 L639.7,365.0 L640.9,365.0 L642.1,365.0 L643.4,365.0 L644.6,365.0 L645.9,365.0 L647.1,365.0 L648.3,365.0 L649.6,365.0 L650.8,365.0 L652.1,365.0 L653.3,365.0 L654.5,365.0 L655.8,365.0 L657.0,365.0" stroke="#5F9EA0" stroke-width="2.6" fill="none" stroke-linejoin="round"/>
<path d="M162.3,370.2 L163.5,371.5 L164.8,372.6 L166.0,373.6 L167.3,374.4 L168.5,375.1 L169.7,375.7 L171.0,376.1 L172.2,376.4 L173.5,376.6 L174.7,376.7 L175.9,376.6 L177.2,376.4 L178.4,376.0 L179.7,375.5 L180.9,374.9 L182.1,374.2 L183.4,373.3 L184.6,372.3 L185.9,371.2 L187.1,369.9 L188.3,368.5 L189.6,366.9 L190.8,365.3 L192.1,363.5 L193.3,361.5 L194.5,359.5 L195.8,357.2 L197.0,354.9 L198.3,352.4 L199.5,349.8 L200.7,347.1 L202.0,344.2 L203.2,341.3 L204.5,338.1 L205.7,334.9 L206.9,331.5 L208.2,328.1 L209.4,324.5 L210.7,320.8 L211.9,316.9 L213.1,313.0 L214.4,309.0 L215.6,304.9 L216.9,300.6 L218.1,296.4 L219.3,292.0 L220.6,287.5 L221.8,283.0 L223.1,278.4 L224.3,273.8 L225.5,269.2 L226.8,264.5 L228.0,259.7 L229.3,255.0 L230.5,250.2 L231.7,245.4 L233.0,240.7 L234.2,235.9 L235.5,231.2 L236.7,226.5 L237.9,221.8 L239.2,217.2 L240.4,212.6 L241.7,208.0 L242.9,203.5 L244.1,199.1 L245.4,194.8 L246.6,190.5 L247.9,186.3 L249.1,182.2 L250.3,178.1 L251.6,174.2 L252.8,170.3 L254.1,166.6 L255.3,162.9 L256.5,159.3 L257.8,155.8 L259.0,152.4 L260.3,149.1 L261.5,145.8 L262.7,142.7 L264.0,139.7 L265.2,136.8 L266.5,133.9 L267.7,131.1 L268.9,128.5 L270.2,125.9 L271.4,123.4 L272.7,121.0 L273.9,118.6 L275.1,116.4 L276.4,114.2 L277.6,112.1 L278.9,110.1 L280.1,108.2 L281.3,106.3 L282.6,104.5 L283.8,102.7 L285.1,101.1 L286.3,99.4 L287.5,97.9 L288.8,96.4 L290.0,95.0 L291.3,93.6 L292.5,92.3 L293.7,91.0 L295.0,89.8 L296.2,88.7 L297.5,87.5 L298.7,86.5 L299.9,85.5 L301.2,84.5 L302.4,83.6 L303.7,82.7 L304.9,81.8 L306.1,81.0 L307.4,80.2 L308.6,79.5 L309.9,78.8 L311.1,78.1 L312.3,77.5 L313.6,76.9 L314.8,76.4 L316.1,75.8 L317.3,75.3 L318.5,74.9 L319.8,74.4 L321.0,74.0 L322.3,73.6 L323.5,73.3 L324.7,73.0 L326.0,72.7 L327.2,72.4 L328.5,72.1 L329.7,71.9 L330.9,71.7 L332.2,71.5 L333.4,71.4 L334.7,71.3 L335.9,71.2 L337.1,71.1 L338.4,71.1 L339.6,71.0 L340.9,71.0 L342.1,71.1 L343.3,71.1 L344.6,71.2 L345.8,71.3 L347.1,71.4 L348.3,71.5 L349.5,71.7 L350.8,71.9 L352.0,72.1 L353.3,72.3 L354.5,72.6 L355.7,72.9 L357.0,73.2 L358.2,73.6 L359.5,74.0 L360.7,74.4 L361.9,74.8 L363.2,75.3 L364.4,75.8 L365.6,76.3 L366.9,76.8 L368.1,77.4 L369.4,78.1 L370.6,78.7 L371.8,79.4 L373.1,80.1 L374.3,80.9 L375.6,81.7 L376.8,82.6 L378.0,83.4 L379.3,84.4 L380.5,85.3 L381.8,86.4 L383.0,87.4 L384.2,88.5 L385.5,89.7 L386.7,90.9 L388.0,92.2 L389.2,93.5 L390.4,94.8 L391.7,96.3 L392.9,97.8 L394.2,99.3 L395.4,100.9 L396.6,102.6 L397.9,104.3 L399.1,106.1 L400.4,108.0 L401.6,110.0 L402.8,112.0 L404.1,114.1 L405.3,116.3 L406.6,118.5 L407.8,120.8 L409.0,123.3 L410.3,125.8 L411.5,128.4 L412.8,131.1 L414.0,133.8 L415.2,136.7 L416.5,139.7 L417.7,142.7 L419.0,145.9 L420.2,149.1 L421.4,152.5 L422.7,155.9 L423.9,159.5 L425.2,163.1 L426.4,166.8 L427.6,170.7 L428.9,174.6 L430.1,178.7 L431.4,182.8 L432.6,187.0 L433.8,191.3 L435.1,195.7 L436.3,200.2 L437.6,204.7 L438.8,209.4 L440.0,214.1 L441.3,218.9 L442.5,223.7 L443.8,228.6 L445.0,233.5 L446.2,238.5 L447.5,243.5 L448.7,248.5 L450.0,253.6 L451.2,258.7 L452.4,263.8 L453.7,268.9 L454.9,273.9 L456.2,279.0 L457.4,284.1 L458.6,289.1 L459.9,294.0 L461.1,299.0 L462.4,303.9 L463.6,308.7 L464.8,313.5 L466.1,318.2 L467.3,322.8 L468.6,327.3 L469.8,331.8 L471.0,336.2 L472.3,340.5 L473.5,344.7 L474.8,348.9 L476.0,352.9 L477.2,356.8 L478.5,360.7 L479.7,364.4 L481.0,368.1 L482.2,371.6 L483.4,375.1 L484.7,378.4 L485.9,381.7 L487.2,384.8 L488.4,387.9 L489.6,390.9 L490.9,393.7 L492.1,396.5 L493.4,399.2 L494.6,401.8 L495.8,404.4 L497.1,406.8 L498.3,409.2 L499.6,411.4 L500.8,413.7 L502.0,415.8 L503.3,417.8 L504.5,419.8 L505.8,421.7 L507.0,423.6 L508.2,425.3 L509.5,427.0 L510.7,428.7 L512.0,430.3 L513.2,431.8 L514.4,433.3 L515.7,434.7 L516.9,436.1 L518.2,437.4 L519.4,438.7 L520.6,439.9 L521.9,441.1 L523.1,442.2 L524.4,443.3 L525.6,444.4 L526.8,445.4 L528.1,446.3 L529.3,447.3 L530.6,448.2 L531.8,449.0 L533.0,449.9 L534.3,450.7 L535.5,451.4 L536.8,452.2 L538.0,452.9 L539.2,453.6 L540.5,454.2 L541.7,454.9 L543.0,455.5 L544.2,456.1 L545.4,456.6 L546.7,457.2 L547.9,457.7 L549.2,458.2 L550.4,458.7 L551.6,459.1 L552.9,459.6 L554.1,460.0 L555.4,460.4 L556.6,460.8 L557.8,461.2 L559.1,461.6 L560.3,461.9 L561.6,462.3 L562.8,462.6 L564.0,462.9 L565.3,463.2 L566.5,463.5 L567.8,463.8 L569.0,464.0 L570.2,464.3 L571.5,464.5 L572.7,464.8 L574.0,465.0 L575.2,465.2 L576.4,465.4 L577.7,465.6 L578.9,465.8 L580.2,466.0 L581.4,466.2 L582.6,466.3 L583.9,466.5 L585.1,466.7 L586.4,466.8 L587.6,467.0 L588.8,467.1 L590.1,467.2 L591.3,467.4 L592.6,467.5 L593.8,467.6 L595.0,467.7 L596.3,467.9 L597.5,468.0 L598.8,468.1 L600.0,468.2 L601.2,468.3 L602.5,468.3 L603.7,468.4 L605.0,468.5 L606.2,468.6 L607.4,468.7 L608.7,468.8 L609.9,468.8 L611.2,468.9 L612.4,469.0 L613.6,469.0 L614.9,469.1 L616.1,469.1 L617.4,469.2 L618.6,469.3 L619.8,469.3 L621.1,469.4 L622.3,469.4 L623.5,469.5 L624.8,469.5 L626.0,469.5 L627.3,469.6 L628.5,469.6 L629.7,469.7 L631.0,469.7 L632.2,469.7 L633.5,469.8 L634.7,469.8 L635.9,469.8 L637.2,469.9 L638.4,469.9 L639.7,469.9 L640.9,469.9 L642.1,470.0 L643.4,470.0 L644.6,470.0 L645.9,470.0 L647.1,470.1 L648.3,470.1 L649.6,470.1 L650.8,470.1 L652.1,470.1 L653.3,470.2 L654.5,470.2 L655.8,470.2 L657.0,470.2" stroke="#5F9EA0" stroke-width="2.6" fill="none" stroke-linejoin="round"/>
<path d="M162.3,270.4 L163.5,270.4 L164.8,270.4 L166.0,270.4 L167.3,270.4 L168.5,270.4 L169.7,270.5 L171.0,270.5 L172.2,270.5 L173.5,270.5 L174.7,270.5 L175.9,270.6 L177.2,270.6 L178.4,270.6 L179.7,270.6 L180.9,270.7 L182.1,270.7 L183.4,270.8 L184.6,270.8 L185.9,270.8 L187.1,270.9 L188.3,270.9 L189.6,271.0 L190.8,271.0 L192.1,271.1 L193.3,271.2 L194.5,271.2 L195.8,271.3 L197.0,271.4 L198.3,271.5 L199.5,271.5 L200.7,271.6 L202.0,271.7 L203.2,271.8 L204.5,271.9 L205.7,272.1 L206.9,272.2 L208.2,272.3 L209.4,272.5 L210.7,272.6 L211.9,272.8 L213.1,272.9 L214.4,273.1 L215.6,273.3 L216.9,273.5 L218.1,273.7 L219.3,273.9 L220.6,274.1 L221.8,274.3 L223.1,274.6 L224.3,274.8 L225.5,275.1 L226.8,275.4 L228.0,275.7 L229.3,275.9 L230.5,276.3 L231.7,276.6 L233.0,276.9 L234.2,277.2 L235.5,277.6 L236.7,277.9 L237.9,278.3 L239.2,278.7 L240.4,279.0 L241.7,279.4 L242.9,279.8 L244.1,280.2 L245.4,280.7 L246.6,281.1 L247.9,281.5 L249.1,281.9 L250.3,282.4 L251.6,282.8 L252.8,283.3 L254.1,283.7 L255.3,284.2 L256.5,284.7 L257.8,285.2 L259.0,285.6 L260.3,286.1 L261.5,286.6 L262.7,287.1 L264.0,287.6 L265.2,288.1 L266.5,288.6 L267.7,289.1 L268.9,289.6 L270.2,290.1 L271.4,290.7 L272.7,291.2 L273.9,291.7 L275.1,292.2 L276.4,292.7 L277.6,293.3 L278.9,293.8 L280.1,294.3 L281.3,294.8 L282.6,295.4 L283.8,295.9 L285.1,296.4 L286.3,297.0 L287.5,297.5 L288.8,298.0 L290.0,298.6 L291.3,299.1 L292.5,299.7 L293.7,300.2 L295.0,300.7 L296.2,301.3 L297.5,301.8 L298.7,302.4 L299.9,302.9 L301.2,303.4 L302.4,304.0 L303.7,304.5 L304.9,305.1 L306.1,305.6 L307.4,306.2 L308.6,306.7 L309.9,307.3 L311.1,307.8 L312.3,308.3 L313.6,308.9 L314.8,309.4 L316.1,310.0 L317.3,310.5 L318.5,311.1 L319.8,311.6 L321.0,312.2 L322.3,312.7 L323.5,313.3 L324.7,313.8 L326.0,314.3 L327.2,314.9 L328.5,315.4 L329.7,316.0 L330.9,316.5 L332.2,317.1 L333.4,317.6 L334.7,318.2 L335.9,318.7 L337.1,319.3 L338.4,319.8 L339.6,320.4 L340.9,320.9 L342.1,321.4 L343.3,322.0 L344.6,322.5 L345.8,323.1 L347.1,323.6 L348.3,324.2 L349.5,324.7 L350.8,325.3 L352.0,325.8 L353.3,326.4 L354.5,326.9 L355.7,327.4 L357.0,328.0 L358.2,328.5 L359.5,329.1 L360.7,329.6 L361.9,330.1 L363.2,330.7 L364.4,331.2 L365.6,331.8 L366.9,332.3 L368.1,332.8 L369.4,333.4 L370.6,333.9 L371.8,334.4 L373.1,335.0 L374.3,335.5 L375.6,336.0 L376.8,336.6 L378.0,337.1 L379.3,337.6 L380.5,338.1 L381.8,338.7 L383.0,339.2 L384.2,339.7 L385.5,340.2 L386.7,340.7 L388.0,341.2 L389.2,341.7 L390.4,342.3 L391.7,342.8 L392.9,343.3 L394.2,343.8 L395.4,344.2 L396.6,344.7 L397.9,345.2 L399.1,345.7 L400.4,346.2 L401.6,346.6 L402.8,347.1 L404.1,347.6 L405.3,348.0 L406.6,348.5 L407.8,348.9 L409.0,349.3 L410.3,349.8 L411.5,350.2 L412.8,350.6 L414.0,351.0 L415.2,351.4 L416.5,351.8 L417.7,352.2 L419.0,352.5 L420.2,352.9 L421.4,353.3 L422.7,353.6 L423.9,353.9 L425.2,354.3 L426.4,354.6 L427.6,354.9 L428.9,355.2 L430.1,355.4 L431.4,355.7 L432.6,356.0 L433.8,356.2 L435.1,356.5 L436.3,356.7 L437.6,356.9 L438.8,357.1 L440.0,357.3 L441.3,357.5 L442.5,357.7 L443.8,357.8 L445.0,358.0 L446.2,358.2 L447.5,358.3 L448.7,358.4 L450.0,358.6 L451.2,358.7 L452.4,358.8 L453.7,358.9 L454.9,359.0 L456.2,359.1 L457.4,359.2 L458.6,359.3 L459.9,359.4 L461.1,359.5 L462.4,359.5 L463.6,359.6 L464.8,359.7 L466.1,359.7 L467.3,359.8 L468.6,359.8 L469.8,359.9 L471.0,359.9 L472.3,360.0 L473.5,360.0 L474.8,360.0 L476.0,360.1 L477.2,360.1 L478.5,360.1 L479.7,360.1 L481.0,360.2 L482.2,360.2 L483.4,360.2 L484.7,360.2 L485.9,360.3 L487.2,360.3 L488.4,360.3 L489.6,360.3 L490.9,360.3 L492.1,360.3 L493.4,360.4 L494.6,360.4 L495.8,360.4 L497.1,360.4 L498.3,360.4 L499.6,360.4 L500.8,360.4 L502.0,360.4 L503.3,360.4 L504.5,360.4 L505.8,360.5 L507.0,360.5 L508.2,360.5 L509.5,360.5 L510.7,360.5 L512.0,360.5 L513.2,360.5 L514.4,360.5 L515.7,360.5 L516.9,360.5 L518.2,360.5 L519.4,360.5 L520.6,360.5 L521.9,360.5 L523.1,360.5 L524.4,360.5 L525.6,360.5 L526.8,360.5 L528.1,360.5 L529.3,360.5 L530.6,360.5 L531.8,360.5 L533.0,360.5 L534.3,360.5 L535.5,360.5 L536.8,360.5 L538.0,360.5 L539.2,360.5 L540.5,360.5 L541.7,360.5 L543.0,360.6 L544.2,360.6 L545.4,360.6 L546.7,360.6 L547.9,360.6 L549.2,360.6 L550.4,360.6 L551.6,360.6 L552.9,360.6 L554.1,360.6 L555.4,360.6 L556.6,360.6 L557.8,360.6 L559.1,360.6 L560.3,360.6 L561.6,360.6 L562.8,360.6 L564.0,360.6 L565.3,360.6 L566.5,360.6 L567.8,360.6 L569.0,360.6 L570.2,360.6 L571.5,360.6 L572.7,360.6 L574.0,360.6 L575.2,360.6 L576.4,360.6 L577.7,360.6 L578.9,360.6 L580.2,360.6 L581.4,360.6 L582.6,360.6 L583.9,360.6 L585.1,360.6 L586.4,360.6 L587.6,360.6 L588.8,360.6 L590.1,360.6 L591.3,360.6 L592.6,360.6 L593.8,360.6 L595.0,360.6 L596.3,360.6 L597.5,360.6 L598.8,360.6 L600.0,360.6 L601.2,360.6 L602.5,360.6 L603.7,360.6 L605.0,360.6 L606.2,360.6 L607.4,360.6 L608.7,360.6 L609.9,360.6 L611.2,360.6 L612.4,360.6 L613.6,360.6 L614.9,360.6 L616.1,360.6 L617.4,360.6 L618.6,360.6 L619.8,360.6 L621.1,360.6 L622.3,360.6 L623.5,360.6 L624.8,360.6 L626.0,360.6 L627.3,360.6 L628.5,360.6 L629.7,360.6 L631.0,360.6 L632.2,360.6 L633.5,360.6 L634.7,360.6 L635.9,360.6 L637.2,360.6 L638.4,360.6 L639.7,360.6 L640.9,360.6 L642.1,360.6 L643.4,360.6 L644.6,360.6 L645.9,360.6 L647.1,360.6 L648.3,360.6 L649.6,360.6 L650.8,360.6 L652.1,360.6 L653.3,360.6 L654.5,360.6 L655.8,360.6 L657.0,360.6" stroke="#B0E0E6" stroke-width="2.6" fill="none" stroke-linejoin="round"/>
<path d="M162.3,394.3 L163.5,394.8 L164.8,395.2 L166.0,395.6 L167.3,395.9 L168.5,396.2 L169.7,396.3 L171.0,396.4 L172.2,396.4 L173.5,396.3 L174.7,396.1 L175.9,395.9 L177.2,395.6 L178.4,395.1 L179.7,394.6 L180.9,394.0 L182.1,393.3 L183.4,392.6 L184.6,391.7 L185.9,390.7 L187.1,389.7 L188.3,388.5 L189.6,387.2 L190.8,385.8 L192.1,384.3 L193.3,382.8 L194.5,381.1 L195.8,379.2 L197.0,377.3 L198.3,375.3 L199.5,373.1 L200.7,370.8 L202.0,368.4 L203.2,365.9 L204.5,363.3 L205.7,360.5 L206.9,357.6 L208.2,354.6 L209.4,351.5 L210.7,348.2 L211.9,344.8 L213.1,341.3 L214.4,337.6 L215.6,333.9 L216.9,330.0 L218.1,326.0 L219.3,321.9 L220.6,317.7 L221.8,313.3 L223.1,308.9 L224.3,304.4 L225.5,299.7 L226.8,295.0 L228.0,290.2 L229.3,285.4 L230.5,280.5 L231.7,275.5 L233.0,270.4 L234.2,265.4 L235.5,260.3 L236.7,255.2 L237.9,250.0 L239.2,244.9 L240.4,239.7 L241.7,234.6 L242.9,229.5 L244.1,224.5 L245.4,219.4 L246.6,214.5 L247.9,209.5 L249.1,204.7 L250.3,199.9 L251.6,195.2 L252.8,190.5 L254.1,186.0 L255.3,181.5 L256.5,177.2 L257.8,172.9 L259.0,168.8 L260.3,164.7 L261.5,160.7 L262.7,156.9 L264.0,153.2 L265.2,149.6 L266.5,146.0 L267.7,142.7 L268.9,139.4 L270.2,136.2 L271.4,133.1 L272.7,130.2 L273.9,127.3 L275.1,124.5 L276.4,121.9 L277.6,119.4 L278.9,116.9 L280.1,114.6 L281.3,112.3 L282.6,110.2 L283.8,108.1 L285.1,106.1 L286.3,104.3 L287.5,102.5 L288.8,100.8 L290.0,99.1 L291.3,97.6 L292.5,96.1 L293.7,94.7 L295.0,93.4 L296.2,92.1 L297.5,90.9 L298.7,89.8 L299.9,88.8 L301.2,87.8 L302.4,86.8 L303.7,86.0 L304.9,85.2 L306.1,84.4 L307.4,83.7 L308.6,83.0 L309.9,82.4 L311.1,81.9 L312.3,81.3 L313.6,80.9 L314.8,80.4 L316.1,80.0 L317.3,79.7 L318.5,79.3 L319.8,79.1 L321.0,78.8 L322.3,78.6 L323.5,78.4 L324.7,78.2 L326.0,78.1 L327.2,78.0 L328.5,77.9 L329.7,77.8 L330.9,77.8 L332.2,77.8 L333.4,77.8 L334.7,77.8 L335.9,77.9 L337.1,78.0 L338.4,78.1 L339.6,78.2 L340.9,78.3 L342.1,78.5 L343.3,78.7 L344.6,78.9 L345.8,79.1 L347.1,79.3 L348.3,79.6 L349.5,79.9 L350.8,80.2 L352.0,80.6 L353.3,80.9 L354.5,81.3 L355.7,81.8 L357.0,82.2 L358.2,82.7 L359.5,83.2 L360.7,83.8 L361.9,84.4 L363.2,85.0 L364.4,85.7 L365.6,86.4 L366.9,87.1 L368.1,87.9 L369.4,88.7 L370.6,89.6 L371.8,90.5 L373.1,91.5 L374.3,92.5 L375.6,93.6 L376.8,94.7 L378.0,95.9 L379.3,97.2 L380.5,98.5 L381.8,99.8 L383.0,101.3 L384.2,102.8 L385.5,104.3 L386.7,105.9 L388.0,107.6 L389.2,109.4 L390.4,111.2 L391.7,113.2 L392.9,115.1 L394.2,117.2 L395.4,119.4 L396.6,121.6 L397.9,123.9 L399.1,126.3 L400.4,128.8 L401.6,131.3 L402.8,134.0 L404.1,136.7 L405.3,139.6 L406.6,142.5 L407.8,145.5 L409.0,148.6 L410.3,151.8 L411.5,155.1 L412.8,158.5 L414.0,162.0 L415.2,165.5 L416.5,169.2 L417.7,173.0 L419.0,176.8 L420.2,180.7 L421.4,184.7 L422.7,188.8 L423.9,193.0 L425.2,197.3 L426.4,201.6 L427.6,206.0 L428.9,210.5 L430.1,215.0 L431.4,219.6 L432.6,224.3 L433.8,229.0 L435.1,233.7 L436.3,238.5 L437.6,243.3 L438.8,248.1 L440.0,253.0 L441.3,257.9 L442.5,262.7 L443.8,267.6 L445.0,272.5 L446.2,277.3 L447.5,282.2 L448.7,287.0 L450.0,291.8 L451.2,296.5 L452.4,301.2 L453.7,305.9 L454.9,310.5 L456.2,315.0 L457.4,319.5 L458.6,323.9 L459.9,328.2 L461.1,332.5 L462.4,336.6 L463.6,340.7 L464.8,344.8 L466.1,348.7 L467.3,352.6 L468.6,356.3 L469.8,360.0 L471.0,363.6 L472.3,367.1 L473.5,370.5 L474.8,373.8 L476.0,377.0 L477.2,380.2 L478.5,383.2 L479.7,386.2 L481.0,389.0 L482.2,391.8 L483.4,394.5 L484.7,397.2 L485.9,399.7 L487.2,402.2 L488.4,404.6 L489.6,406.9 L490.9,409.1 L492.1,411.3 L493.4,413.4 L494.6,415.4 L495.8,417.3 L497.1,419.2 L498.3,421.0 L499.6,422.8 L500.8,424.5 L502.0,426.2 L503.3,427.7 L504.5,429.3 L505.8,430.8 L507.0,432.2 L508.2,433.6 L509.5,434.9 L510.7,436.2 L512.0,437.4 L513.2,438.6 L514.4,439.8 L515.7,440.9 L516.9,441.9 L518.2,443.0 L519.4,444.0 L520.6,444.9 L521.9,445.9 L523.1,446.8 L524.4,447.6 L525.6,448.4 L526.8,449.2 L528.1,450.0 L529.3,450.8 L530.6,451.5 L531.8,452.2 L533.0,452.8 L534.3,453.5 L535.5,454.1 L536.8,454.7 L538.0,455.3 L539.2,455.8 L540.5,456.3 L541.7,456.8 L543.0,457.3 L544.2,457.8 L545.4,458.3 L546.7,458.7 L547.9,459.1 L549.2,459.6 L550.4,460.0 L551.6,460.3 L552.9,460.7 L554.1,461.1 L555.4,461.4 L556.6,461.7 L557.8,462.0 L559.1,462.4 L560.3,462.6 L561.6,462.9 L562.8,463.2 L564.0,463.5 L565.3,463.7 L566.5,464.0 L567.8,464.2 L569.0,464.4 L570.2,464.6 L571.5,464.9 L572.7,465.1 L574.0,465.3 L575.2,465.5 L576.4,465.6 L577.7,465.8 L578.9,466.0 L580.2,466.1 L581.4,466.3 L582.6,466.5 L583.9,466.6 L585.1,466.7 L586.4,466.9 L587.6,467.0 L588.8,467.1 L590.1,467.3 L591.3,467.4 L592.6,467.5 L593.8,467.6 L595.0,467.7 L596.3,467.8 L597.5,467.9 L598.8,468.0 L600.0,468.1 L601.2,468.2 L602.5,468.3 L603.7,468.3 L605.0,468.4 L606.2,468.5 L607.4,468.6 L608.7,468.6 L609.9,468.7 L611.2,468.8 L612.4,468.8 L613.6,468.9 L614.9,469.0 L616.1,469.0 L617.4,469.1 L618.6,469.1 L619.8,469.2 L621.1,469.2 L622.3,469.3 L623.5,469.3 L624.8,469.4 L626.0,469.4 L627.3,469.4 L628.5,469.5 L629.7,469.5 L631.0,469.6 L632.2,469.6 L633.5,469.6 L634.7,469.7 L635.9,469.7 L637.2,469.7 L638.4,469.8 L639.7,469.8 L640.9,469.8 L642.1,469.8 L643.4,469.9 L644.6,469.9 L645.9,469.9 L647.1,469.9 L648.3,470.0 L649.6,470.0 L650.8,470.0 L652.1,470.0 L653.3,470.0 L654.5,470.1 L655.8,470.1 L657.0,470.1" stroke="#B0E0E6" stroke-width="2.6" fill="none" stroke-linejoin="round"/>
</g>
<g clip-path="url(#cb)">
<path d="M1066.5,457.5h0.01M1062.9,463.4h0.01M1060.4,468.2h0.01M1058.6,472.2h0.01M1057.2,475.4h0.01M1056.1,477.9h0.01M1055.2,480.0h0.01M1054.4,481.6h0.01M1071.6,450.7h0.01M1078.7,443.6h0.01M1085.1,433.4h0.01M1092.8,425.7h0.01M1100.4,419.0h0.01M1109.9,412.4h0.01M1119.6,405.3h0.01M1132.8,397.6h0.01M1146.6,391.5h0.01M1164.0,385.2h0.01M1180.9,381.2h0.01M1199.7,378.2h0.01M1218.0,375.5h0.01M1235.0,372.8h0.01M1251.5,370.6h0.01M1266.6,372.0h0.01M1280.8,370.8h0.01M1296.4,367.7h0.01" stroke="#008080" stroke-width="11" stroke-linecap="round" fill="none"/>
<path d="M1064.6,454.0h0.01M1061.1,460.9h0.01M1058.7,466.7h0.01M1057.3,471.4h0.01M1056.2,475.3h0.01M1055.3,478.3h0.01M1054.6,480.7h0.01M1070.0,446.0h0.01M1077.0,437.0h0.01M1084.0,427.0h0.01M1091.5,418.0h0.01M1100.7,408.0h0.01M1114.6,398.0h0.01M1130.2,389.8h0.01M1147.5,382.0h0.01M1167.5,374.8h0.01M1188.5,370.8h0.01M1208.2,371.5h0.01M1228.0,372.5h0.01M1247.0,374.5h0.01M1264.9,377.8h0.01M1278.8,383.0h0.01M1290.9,387.7h0.01M1302.2,390.3h0.01M1313.4,390.6h0.01M1285.0,385.5h0.01M1296.5,389.2h0.01M1308.0,390.6h0.01" stroke="#000080" stroke-width="11" stroke-linecap="round" fill="none"/>
<path d="M1062.6,447.5h0.01M1059.6,456.1h0.01M1057.7,463.2h0.01M1056.5,468.9h0.01M1055.6,473.5h0.01M1054.9,477.2h0.01M1054.4,480.1h0.01M1067.0,437.0h0.01M1073.0,425.0h0.01M1080.0,413.0h0.01M1088.5,402.0h0.01M1097.0,391.0h0.01M1106.8,380.3h0.01M1120.6,367.3h0.01M1141.4,352.5h0.01M1165.7,338.5h0.01M1192.6,328.4h0.01M1221.2,319.8h0.01M1250.3,314.9h0.01M1279.3,312.8h0.01M1307.9,312.0h0.01M1335.3,312.8h0.01M1360.8,315.7h0.01M1385.1,317.7h0.01M1408.9,318.9h0.01" stroke="#800080" stroke-width="11" stroke-linecap="round" fill="none"/>
<path d="M1061.5,447.5h0.01M1058.9,456.1h0.01M1057.3,463.1h0.01M1056.3,468.7h0.01M1055.6,473.3h0.01M1055.0,476.9h0.01M1054.5,479.8h0.01M1065.5,437.0h0.01M1071.0,425.0h0.01M1077.5,413.0h0.01M1084.5,401.0h0.01M1092.0,390.0h0.01M1100.7,379.4h0.01M1118.9,361.2h0.01M1139.9,346.0h0.01M1165.7,332.3h0.01M1193.6,320.8h0.01M1225.5,314.6h0.01M1256.8,312.0h0.01M1287.1,312.5h0.01M1315.7,314.6h0.01M1341.0,318.5h0.01M1365.2,323.0h0.01M1387.0,324.4h0.01M1409.3,326.9h0.01" stroke="#FFC0CB" stroke-width="11" stroke-linecap="round" fill="none"/>
<path d="M1058.8,447.4h0.01M1057.4,455.9h0.01M1056.4,462.7h0.01M1055.7,468.2h0.01M1055.2,472.5h0.01M1054.8,476.0h0.01M1054.4,478.8h0.01M1054.2,481.1h0.01M1061.5,437.0h0.01M1065.5,425.0h0.01M1069.0,413.0h0.01M1073.0,402.8h0.01M1082.5,386.3h0.01M1095.5,367.3h0.01M1112.3,347.2h0.01M1134.9,326.2h0.01M1162.6,305.4h0.01M1195.0,287.5h0.01M1233.3,273.8h0.01M1272.9,263.8h0.01M1314.3,259.4h0.01M1353.5,259.4h0.01M1389.9,262.6h0.01M1423.4,266.7h0.01M1454.5,270.8h0.01M1484.1,274.0h0.01" stroke="#008000" stroke-width="11" stroke-linecap="round" fill="none"/>
<path d="M1059.3,447.4h0.01M1057.9,455.9h0.01M1056.9,462.7h0.01M1056.0,468.1h0.01M1055.2,472.5h0.01M1054.7,476.0h0.01M1054.4,478.8h0.01M1054.2,481.0h0.01M1062.0,437.0h0.01M1066.0,425.0h0.01M1071.0,413.0h0.01M1077.0,401.0h0.01M1086.0,388.0h0.01M1097.0,373.0h0.01M1109.5,358.5h0.01M1122.5,346.0h0.01M1136.2,334.0h0.01M1163.6,315.0h0.01M1196.1,300.3h0.01M1232.1,288.9h0.01M1269.8,283.0h0.01M1305.8,283.0h0.01M1340.2,284.4h0.01M1372.0,289.7h0.01M1399.2,295.8h0.01M1424.6,300.2h0.01M1448.9,302.1h0.01" stroke="#808000" stroke-width="11" stroke-linecap="round" fill="none"/>
<path d="M1062.6,452.7h0.01M1059.8,460.7h0.01M1057.9,467.3h0.01M1056.8,472.6h0.01M1055.8,476.9h0.01M1054.7,480.2h0.01M1067.0,443.0h0.01M1073.0,432.0h0.01M1080.0,421.0h0.01M1088.0,410.5h0.01M1101.6,398.4h0.01M1118.0,388.0h0.01M1137.1,379.4h0.01M1159.0,375.1h0.01M1180.9,374.6h0.01M1202.3,378.9h0.01M1220.0,383.2h0.01M1236.4,389.1h0.01M1249.5,395.2h0.01M1260.1,400.3h0.01M1270.5,405.5h0.01M1279.6,409.0h0.01" stroke="#B8860B" stroke-width="11" stroke-linecap="round" fill="none"/>
<path d="M1062.0,449.7h0.01M1059.2,458.4h0.01M1057.4,465.4h0.01M1056.3,471.2h0.01M1055.3,475.7h0.01M1054.6,479.4h0.01M1066.0,439.0h0.01M1072.0,427.0h0.01M1079.0,415.0h0.01M1087.0,404.0h0.01M1096.0,395.0h0.01M1106.0,386.0h0.01M1118.0,377.7h0.01M1139.4,369.0h0.01M1163.5,362.0h0.01M1188.6,359.2h0.01M1212.1,362.7h0.01M1234.8,368.3h0.01M1252.8,375.5h0.01M1267.5,385.9h0.01M1280.5,392.0h0.01M1292.6,398.0h0.01M1307.4,403.8h0.01M1286.5,395.0h0.01M1299.5,401.0h0.01" stroke="#8FBC8F" stroke-width="11" stroke-linecap="round" fill="none"/>
<path d="M1056.4,446.4h0.01M1055.6,453.9h0.01M1055.0,459.9h0.01M1054.8,464.7h0.01M1054.6,468.6h0.01M1054.5,471.7h0.01M1054.4,474.1h0.01M1054.3,476.1h0.01M1054.2,477.7h0.01M1054.2,478.9h0.01M1054.1,480.0h0.01M1054.1,480.8h0.01M1054.1,481.4h0.01M1054.0,481.9h0.01M1057.5,437.1h0.01M1061.3,426.7h0.01M1067.0,415.2h0.01M1073.7,402.9h0.01M1083.2,386.7h0.01M1095.0,371.0h0.01M1110.0,357.0h0.01M1127.0,344.5h0.01M1145.8,333.5h0.01M1175.7,317.6h0.01M1210.5,307.3h0.01M1247.2,303.3h0.01M1283.1,305.0h0.01M1316.2,312.8h0.01M1343.3,324.4h0.01M1366.9,335.4h0.01M1385.8,345.1h0.01M1401.1,353.6h0.01M1414.4,358.9h0.01" stroke="#5F9EA0" stroke-width="11" stroke-linecap="round" fill="none"/>
<path d="M1060.4,448.6h0.01M1058.1,457.3h0.01M1056.5,464.3h0.01M1055.6,470.0h0.01M1054.9,474.5h0.01M1054.5,478.2h0.01M1054.2,481.1h0.01M1064.0,438.0h0.01M1069.5,426.0h0.01M1076.0,414.0h0.01M1084.0,403.0h0.01M1093.0,393.5h0.01M1104.0,385.0h0.01M1116.0,378.0h0.01M1131.0,372.0h0.01M1148.4,367.3h0.01M1172.8,363.0h0.01M1197.3,363.7h0.01M1221.6,367.9h0.01M1240.0,376.0h0.01M1255.0,386.5h0.01M1270.1,394.6h0.01M1282.2,401.5h0.01M1292.6,408.4h0.01M1301.3,414.5h0.01M1287.5,405.0h0.01M1297.0,411.5h0.01" stroke="#B0E0E6" stroke-width="11" stroke-linecap="round" fill="none"/>
<path d="M1054.0,482.5 L1054.2,481.7 L1054.4,480.9 L1054.5,480.1 L1054.7,479.3 L1054.8,478.5 L1055.0,477.7 L1055.2,476.8 L1055.4,475.9 L1055.7,475.0 L1056.0,474.0 L1056.4,472.9 L1056.8,471.8 L1057.2,470.7 L1057.7,469.5 L1058.2,468.3 L1058.7,467.0 L1059.3,465.8 L1059.9,464.5 L1060.4,463.3 L1061.0,462.0 L1061.6,460.8 L1062.2,459.5 L1062.7,458.3 L1063.3,457.0 L1064.0,455.7 L1064.6,454.4 L1065.3,453.1 L1066.0,451.8 L1066.7,450.4 L1067.5,449.0 L1068.3,447.5 L1069.2,446.0 L1070.1,444.3 L1071.0,442.7 L1072.0,441.0 L1072.9,439.4 L1073.9,437.8 L1075.0,436.2 L1076.0,434.7 L1077.0,433.3 L1078.0,432.0 L1079.1,430.7 L1080.2,429.5 L1081.2,428.4 L1082.3,427.2 L1083.5,426.1 L1084.6,425.1 L1085.7,424.0 L1086.9,423.0 L1088.0,422.0 L1089.1,421.0 L1090.2,420.1 L1091.3,419.2 L1092.3,418.4 L1093.4,417.5 L1094.6,416.7 L1095.8,415.8 L1097.1,414.9 L1098.5,414.0 L1100.0,413.0 L1101.7,411.9 L1103.4,410.8 L1105.3,409.7 L1107.2,408.5 L1109.2,407.3 L1111.3,406.1 L1113.4,404.9 L1115.6,403.7 L1117.8,402.6 L1120.0,401.5 L1122.3,400.4 L1124.7,399.4 L1127.1,398.3 L1129.6,397.3 L1132.2,396.3 L1134.8,395.3 L1137.3,394.4 L1139.9,393.4 L1142.5,392.5 L1145.0,391.6 L1147.5,390.7 L1149.9,389.9 L1152.4,389.1 L1154.8,388.3 L1157.2,387.6 L1159.7,386.9 L1162.2,386.1 L1164.7,385.4 L1167.3,384.7 L1170.0,384.0 L1172.8,383.3 L1175.7,382.6 L1178.6,381.9 L1181.6,381.3 L1184.6,380.6 L1187.7,380.0 L1190.7,379.3 L1193.8,378.7 L1196.8,378.1 L1199.7,377.5 L1202.6,376.9 L1205.5,376.3 L1208.3,375.7 L1211.1,375.1 L1213.9,374.6 L1216.8,374.0 L1219.6,373.5 L1222.4,373.0 L1225.2,372.5 L1228.0,372.0 L1230.8,371.6 L1233.7,371.2 L1236.6,370.8 L1239.5,370.5 L1242.4,370.2 L1245.3,369.8 L1248.1,369.5 L1250.9,369.1 L1253.6,368.7 L1256.2,368.2 L1258.7,367.7 L1261.1,367.1 L1263.5,366.5 L1265.7,365.9 L1268.0,365.2 L1270.2,364.5 L1272.4,363.8 L1274.6,363.1 L1276.8,362.3 L1279.0,361.5 L1281.3,360.7 L1283.5,359.8 L1285.7,358.8 L1288.0,357.8 L1290.2,356.8 L1292.4,355.8 L1294.6,354.8 L1296.8,353.8 L1299.1,352.8 L1301.3,351.8" stroke="#008080" stroke-width="2.8" fill="none" stroke-linejoin="round" stroke-linecap="round"/>
<path d="M1054.0,482.5 L1054.2,481.9 L1054.4,481.3 L1054.6,480.7 L1054.8,480.1 L1054.9,479.5 L1055.1,478.9 L1055.3,478.2 L1055.5,477.5 L1055.8,476.8 L1056.0,476.0 L1056.3,475.1 L1056.5,474.2 L1056.8,473.3 L1057.0,472.3 L1057.3,471.3 L1057.6,470.2 L1057.9,469.2 L1058.3,468.1 L1058.6,467.1 L1059.0,466.0 L1059.4,464.9 L1059.9,463.8 L1060.3,462.7 L1060.8,461.6 L1061.3,460.4 L1061.8,459.3 L1062.4,458.2 L1062.9,457.1 L1063.5,456.0 L1064.0,455.0 L1064.6,454.0 L1065.1,453.1 L1065.7,452.2 L1066.3,451.3 L1066.9,450.4 L1067.5,449.5 L1068.1,448.6 L1068.7,447.8 L1069.4,446.9 L1070.0,446.0 L1070.7,445.1 L1071.3,444.2 L1072.0,443.3 L1072.7,442.4 L1073.4,441.6 L1074.2,440.7 L1074.9,439.8 L1075.6,438.9 L1076.3,437.9 L1077.0,437.0 L1077.7,436.0 L1078.4,435.0 L1079.1,434.0 L1079.8,433.0 L1080.5,432.0 L1081.2,431.0 L1081.9,430.0 L1082.6,429.0 L1083.3,428.0 L1084.0,427.0 L1084.7,426.1 L1085.4,425.2 L1086.2,424.3 L1086.9,423.4 L1087.6,422.5 L1088.4,421.6 L1089.1,420.7 L1089.9,419.8 L1090.7,418.9 L1091.5,418.0 L1092.3,417.0 L1093.2,416.1 L1094.0,415.1 L1094.8,414.1 L1095.7,413.1 L1096.6,412.0 L1097.5,411.0 L1098.5,410.0 L1099.6,409.0 L1100.7,408.0 L1101.9,407.0 L1103.2,406.0 L1104.5,404.9 L1105.8,403.9 L1107.2,402.9 L1108.7,401.9 L1110.2,400.9 L1111.6,399.9 L1113.1,398.9 L1114.6,398.0 L1116.1,397.1 L1117.6,396.2 L1119.1,395.4 L1120.6,394.6 L1122.2,393.8 L1123.8,393.0 L1125.3,392.2 L1126.9,391.4 L1128.6,390.6 L1130.2,389.8 L1131.8,389.0 L1133.5,388.2 L1135.2,387.4 L1136.9,386.6 L1138.6,385.8 L1140.3,385.1 L1142.1,384.3 L1143.8,383.5 L1145.7,382.8 L1147.5,382.0 L1149.4,381.2 L1151.3,380.5 L1153.3,379.7 L1155.3,378.9 L1157.3,378.2 L1159.3,377.4 L1161.3,376.7 L1163.4,376.0 L1165.4,375.4 L1167.5,374.8 L1169.6,374.2 L1171.7,373.7 L1173.8,373.2 L1175.9,372.7 L1178.0,372.3 L1180.1,371.9 L1182.3,371.6 L1184.4,371.2 L1186.4,371.0 L1188.5,370.8 L1190.5,370.7 L1192.5,370.6 L1194.5,370.7 L1196.5,370.7 L1198.4,370.8 L1200.4,371.0 L1202.3,371.1 L1204.3,371.3 L1206.2,371.4 L1208.2,371.5 L1210.2,371.6 L1212.2,371.7 L1214.2,371.7 L1216.2,371.8 L1218.1,371.9 L1220.1,372.0 L1222.1,372.1 L1224.1,372.2 L1226.1,372.4 L1228.0,372.5 L1229.9,372.7 L1231.9,372.8 L1233.8,373.0 L1235.7,373.2 L1237.6,373.4 L1239.5,373.6 L1241.4,373.8 L1243.3,374.0 L1245.1,374.2 L1247.0,374.5 L1248.9,374.8 L1250.7,375.0 L1252.6,375.3 L1254.4,375.6 L1256.3,376.0 L1258.1,376.3 L1259.9,376.6 L1261.6,377.0 L1263.3,377.4 L1264.9,377.8 L1266.5,378.2 L1268.0,378.7 L1269.4,379.2 L1270.8,379.8 L1272.2,380.3 L1273.6,380.9 L1274.9,381.4 L1276.2,382.0 L1277.5,382.5 L1278.8,383.0 L1280.1,383.5 L1281.3,384.0 L1282.6,384.5 L1283.8,385.0 L1285.0,385.5 L1286.2,386.0 L1287.4,386.5 L1288.6,386.9 L1289.7,387.3 L1290.9,387.7 L1292.1,388.1 L1293.2,388.4 L1294.4,388.7 L1295.5,389.0 L1296.6,389.3 L1297.7,389.5 L1298.8,389.8 L1300.0,390.0 L1301.1,390.1 L1302.2,390.3 L1303.3,390.4 L1304.4,390.5 L1305.6,390.6 L1306.7,390.6 L1307.8,390.6 L1308.9,390.6 L1310.0,390.6 L1311.2,390.6 L1312.3,390.6 L1313.4,390.6" stroke="#000080" stroke-width="2.8" fill="none" stroke-linejoin="round" stroke-linecap="round"/>
<path d="M1054.0,482.5 L1054.1,481.7 L1054.3,480.9 L1054.4,480.1 L1054.6,479.3 L1054.7,478.5 L1054.8,477.7 L1055.0,476.8 L1055.1,475.9 L1055.3,475.0 L1055.5,474.0 L1055.7,472.9 L1055.9,471.8 L1056.1,470.7 L1056.4,469.5 L1056.6,468.3 L1056.8,467.0 L1057.1,465.8 L1057.4,464.5 L1057.7,463.3 L1058.0,462.0 L1058.3,460.7 L1058.7,459.4 L1059.1,458.1 L1059.4,456.8 L1059.8,455.5 L1060.3,454.2 L1060.7,452.9 L1061.1,451.6 L1061.6,450.3 L1062.0,449.0 L1062.5,447.8 L1062.9,446.5 L1063.4,445.3 L1063.9,444.1 L1064.4,442.9 L1064.9,441.8 L1065.4,440.6 L1065.9,439.4 L1066.5,438.2 L1067.0,437.0 L1067.6,435.8 L1068.1,434.6 L1068.7,433.4 L1069.3,432.2 L1069.9,431.0 L1070.5,429.8 L1071.1,428.6 L1071.7,427.4 L1072.4,426.2 L1073.0,425.0 L1073.7,423.8 L1074.3,422.6 L1075.0,421.4 L1075.7,420.2 L1076.3,418.9 L1077.0,417.7 L1077.8,416.5 L1078.5,415.3 L1079.2,414.2 L1080.0,413.0 L1080.8,411.9 L1081.6,410.7 L1082.4,409.6 L1083.3,408.5 L1084.2,407.4 L1085.0,406.4 L1085.9,405.3 L1086.8,404.2 L1087.6,403.1 L1088.5,402.0 L1089.3,400.9 L1090.2,399.8 L1091.0,398.7 L1091.8,397.6 L1092.7,396.5 L1093.5,395.4 L1094.4,394.3 L1095.2,393.2 L1096.1,392.1 L1097.0,391.0 L1097.9,389.9 L1098.8,388.9 L1099.7,387.8 L1100.6,386.8 L1101.6,385.8 L1102.5,384.7 L1103.5,383.7 L1104.6,382.6 L1105.7,381.5 L1106.8,380.3 L1108.0,379.1 L1109.2,377.9 L1110.4,376.6 L1111.7,375.4 L1113.0,374.1 L1114.4,372.7 L1115.8,371.4 L1117.3,370.1 L1118.9,368.7 L1120.6,367.3 L1122.4,365.9 L1124.3,364.4 L1126.2,363.0 L1128.2,361.5 L1130.3,360.0 L1132.5,358.4 L1134.7,356.9 L1136.9,355.4 L1139.1,354.0 L1141.4,352.5 L1143.7,351.1 L1146.0,349.6 L1148.4,348.1 L1150.7,346.7 L1153.2,345.2 L1155.6,343.8 L1158.1,342.4 L1160.6,341.0 L1163.1,339.7 L1165.7,338.5 L1168.3,337.3 L1170.9,336.2 L1173.5,335.1 L1176.2,334.1 L1178.9,333.1 L1181.6,332.1 L1184.3,331.2 L1187.1,330.3 L1189.8,329.3 L1192.6,328.4 L1195.4,327.5 L1198.2,326.5 L1201.0,325.6 L1203.9,324.7 L1206.8,323.8 L1209.6,322.9 L1212.5,322.1 L1215.4,321.3 L1218.3,320.5 L1221.2,319.8 L1224.1,319.1 L1227.0,318.5 L1229.9,318.0 L1232.8,317.4 L1235.7,316.9 L1238.6,316.5 L1241.6,316.0 L1244.5,315.6 L1247.4,315.3 L1250.3,314.9 L1253.2,314.6 L1256.1,314.3 L1259.0,314.0 L1261.9,313.8 L1264.8,313.6 L1267.7,313.4 L1270.6,313.2 L1273.5,313.1 L1276.4,312.9 L1279.3,312.8 L1282.2,312.7 L1285.1,312.5 L1287.9,312.4 L1290.8,312.3 L1293.7,312.2 L1296.6,312.1 L1299.4,312.1 L1302.3,312.0 L1305.1,312.0 L1307.9,312.0 L1310.7,312.0 L1313.5,312.0 L1316.3,312.1 L1319.0,312.1 L1321.8,312.2 L1324.5,312.3 L1327.3,312.4 L1330.0,312.5 L1332.6,312.6 L1335.3,312.8 L1337.9,313.0 L1340.5,313.3 L1343.1,313.5 L1345.7,313.9 L1348.2,314.2 L1350.8,314.5 L1353.3,314.8 L1355.8,315.1 L1358.3,315.4 L1360.8,315.7 L1363.3,315.9 L1365.7,316.2 L1368.2,316.4 L1370.6,316.6 L1373.1,316.8 L1375.5,317.0 L1377.9,317.2 L1380.3,317.4 L1382.7,317.5 L1385.1,317.7 L1387.5,317.9 L1389.9,318.0 L1392.3,318.1 L1394.7,318.2 L1397.0,318.4 L1399.4,318.5 L1401.8,318.6 L1404.1,318.7 L1406.5,318.8 L1408.9,318.9" stroke="#800080" stroke-width="2.8" fill="none" stroke-linejoin="round" stroke-linecap="round"/>
<path d="M1054.0,482.5 L1054.1,481.7 L1054.3,480.9 L1054.4,480.1 L1054.6,479.3 L1054.7,478.5 L1054.9,477.7 L1055.0,476.8 L1055.2,475.9 L1055.3,475.0 L1055.5,474.0 L1055.7,472.9 L1055.8,471.8 L1056.0,470.7 L1056.2,469.5 L1056.4,468.3 L1056.6,467.0 L1056.8,465.8 L1057.0,464.5 L1057.2,463.3 L1057.5,462.0 L1057.8,460.7 L1058.1,459.4 L1058.4,458.1 L1058.7,456.8 L1059.1,455.5 L1059.5,454.2 L1059.8,452.9 L1060.2,451.6 L1060.6,450.3 L1061.0,449.0 L1061.4,447.8 L1061.8,446.5 L1062.2,445.3 L1062.7,444.1 L1063.1,442.9 L1063.6,441.8 L1064.0,440.6 L1064.5,439.4 L1065.0,438.2 L1065.5,437.0 L1066.0,435.8 L1066.5,434.6 L1067.0,433.4 L1067.6,432.2 L1068.1,431.0 L1068.7,429.8 L1069.2,428.6 L1069.8,427.4 L1070.4,426.2 L1071.0,425.0 L1071.6,423.8 L1072.2,422.6 L1072.9,421.4 L1073.5,420.2 L1074.2,419.0 L1074.8,417.8 L1075.5,416.6 L1076.2,415.4 L1076.8,414.2 L1077.5,413.0 L1078.2,411.8 L1078.9,410.6 L1079.5,409.4 L1080.2,408.2 L1080.9,406.9 L1081.6,405.7 L1082.3,404.5 L1083.1,403.3 L1083.8,402.2 L1084.5,401.0 L1085.2,399.9 L1085.9,398.7 L1086.7,397.6 L1087.4,396.5 L1088.1,395.4 L1088.9,394.3 L1089.6,393.2 L1090.4,392.2 L1091.2,391.1 L1092.0,390.0 L1092.8,389.0 L1093.5,388.0 L1094.2,387.0 L1094.9,386.1 L1095.7,385.2 L1096.5,384.2 L1097.4,383.1 L1098.3,382.0 L1099.4,380.8 L1100.7,379.4 L1102.1,377.9 L1103.7,376.2 L1105.4,374.4 L1107.2,372.5 L1109.0,370.6 L1111.0,368.6 L1112.9,366.7 L1114.9,364.8 L1116.9,362.9 L1118.9,361.2 L1120.9,359.6 L1122.8,357.9 L1124.8,356.4 L1126.9,354.8 L1128.9,353.3 L1131.0,351.8 L1133.2,350.4 L1135.3,348.9 L1137.6,347.4 L1139.9,346.0 L1142.3,344.6 L1144.7,343.1 L1147.2,341.7 L1149.8,340.3 L1152.4,338.9 L1155.0,337.5 L1157.7,336.2 L1160.3,334.9 L1163.0,333.6 L1165.7,332.3 L1168.4,331.0 L1171.1,329.8 L1173.8,328.5 L1176.5,327.3 L1179.3,326.1 L1182.1,324.9 L1184.9,323.8 L1187.7,322.7 L1190.6,321.7 L1193.6,320.8 L1196.6,319.9 L1199.7,319.2 L1202.9,318.4 L1206.1,317.8 L1209.3,317.1 L1212.6,316.6 L1215.8,316.0 L1219.1,315.5 L1222.3,315.1 L1225.5,314.6 L1228.7,314.2 L1231.8,313.8 L1235.0,313.5 L1238.1,313.2 L1241.2,312.9 L1244.4,312.6 L1247.5,312.4 L1250.6,312.3 L1253.7,312.1 L1256.8,312.0 L1259.9,311.9 L1263.0,311.9 L1266.0,311.9 L1269.1,311.9 L1272.1,312.0 L1275.2,312.0 L1278.2,312.1 L1281.2,312.2 L1284.1,312.4 L1287.1,312.5 L1290.0,312.6 L1293.0,312.8 L1295.9,313.0 L1298.8,313.1 L1301.7,313.3 L1304.6,313.6 L1307.4,313.8 L1310.2,314.0 L1313.0,314.3 L1315.7,314.6 L1318.4,314.9 L1321.0,315.3 L1323.6,315.6 L1326.1,316.0 L1328.6,316.4 L1331.1,316.8 L1333.6,317.2 L1336.1,317.7 L1338.5,318.1 L1341.0,318.5 L1343.5,318.9 L1345.9,319.4 L1348.4,319.9 L1350.9,320.4 L1353.3,320.9 L1355.7,321.4 L1358.2,321.9 L1360.5,322.3 L1362.9,322.7 L1365.2,323.0 L1367.5,323.3 L1369.7,323.5 L1371.9,323.6 L1374.1,323.7 L1376.2,323.8 L1378.4,323.9 L1380.5,324.0 L1382.6,324.1 L1384.8,324.2 L1387.0,324.4 L1389.2,324.6 L1391.4,324.8 L1393.7,325.1 L1395.9,325.3 L1398.1,325.6 L1400.4,325.8 L1402.6,326.1 L1404.8,326.4 L1407.1,326.6 L1409.3,326.9" stroke="#FFC0CB" stroke-width="2.8" fill="none" stroke-linejoin="round" stroke-linecap="round"/>
<path d="M1054.0,482.5 L1054.1,481.7 L1054.2,480.9 L1054.3,480.1 L1054.4,479.3 L1054.5,478.5 L1054.6,477.7 L1054.7,476.8 L1054.8,475.9 L1054.9,475.0 L1055.0,474.0 L1055.1,472.9 L1055.3,471.8 L1055.4,470.7 L1055.5,469.5 L1055.7,468.3 L1055.8,467.0 L1056.0,465.8 L1056.2,464.5 L1056.3,463.3 L1056.5,462.0 L1056.7,460.7 L1056.9,459.4 L1057.0,458.1 L1057.2,456.8 L1057.4,455.5 L1057.6,454.2 L1057.8,452.9 L1058.0,451.6 L1058.3,450.3 L1058.5,449.0 L1058.8,447.8 L1059.0,446.5 L1059.3,445.3 L1059.6,444.1 L1059.9,442.9 L1060.2,441.8 L1060.5,440.6 L1060.8,439.4 L1061.2,438.2 L1061.5,437.0 L1061.9,435.8 L1062.2,434.6 L1062.6,433.4 L1063.1,432.2 L1063.5,431.0 L1063.9,429.8 L1064.3,428.6 L1064.7,427.4 L1065.1,426.2 L1065.5,425.0 L1065.9,423.8 L1066.2,422.6 L1066.6,421.3 L1066.9,420.1 L1067.2,418.9 L1067.6,417.7 L1067.9,416.5 L1068.3,415.3 L1068.6,414.1 L1069.0,413.0 L1069.4,411.9 L1069.7,410.9 L1070.0,410.0 L1070.3,409.1 L1070.6,408.2 L1071.0,407.2 L1071.4,406.3 L1071.8,405.2 L1072.4,404.1 L1073.0,402.8 L1073.7,401.4 L1074.5,399.9 L1075.3,398.4 L1076.2,396.8 L1077.2,395.1 L1078.2,393.4 L1079.2,391.6 L1080.3,389.9 L1081.4,388.1 L1082.5,386.3 L1083.6,384.5 L1084.8,382.7 L1086.0,380.8 L1087.3,378.9 L1088.5,377.0 L1089.9,375.1 L1091.2,373.2 L1092.6,371.2 L1094.0,369.3 L1095.5,367.3 L1097.0,365.3 L1098.5,363.4 L1100.1,361.4 L1101.7,359.4 L1103.3,357.4 L1105.0,355.4 L1106.7,353.3 L1108.5,351.3 L1110.4,349.3 L1112.3,347.2 L1114.3,345.1 L1116.4,343.1 L1118.5,341.0 L1120.7,338.9 L1122.9,336.7 L1125.2,334.6 L1127.6,332.5 L1130.0,330.4 L1132.4,328.3 L1134.9,326.2 L1137.4,324.1 L1140.0,322.0 L1142.7,319.9 L1145.4,317.7 L1148.1,315.6 L1150.9,313.5 L1153.8,311.4 L1156.7,309.4 L1159.6,307.4 L1162.6,305.4 L1165.6,303.5 L1168.7,301.6 L1171.8,299.7 L1174.9,297.8 L1178.1,296.0 L1181.4,294.2 L1184.7,292.5 L1188.1,290.8 L1191.5,289.1 L1195.0,287.5 L1198.6,285.9 L1202.3,284.4 L1206.0,283.0 L1209.8,281.5 L1213.7,280.2 L1217.6,278.8 L1221.5,277.5 L1225.5,276.2 L1229.4,275.0 L1233.3,273.8 L1237.2,272.6 L1241.1,271.5 L1245.0,270.4 L1249.0,269.3 L1252.9,268.2 L1256.9,267.2 L1260.8,266.3 L1264.8,265.4 L1268.9,264.6 L1272.9,263.8 L1277.0,263.1 L1281.1,262.5 L1285.3,261.9 L1289.4,261.4 L1293.6,261.0 L1297.8,260.6 L1302.0,260.2 L1306.1,259.9 L1310.2,259.6 L1314.3,259.4 L1318.3,259.2 L1322.3,259.1 L1326.3,259.0 L1330.3,258.9 L1334.2,258.9 L1338.1,259.0 L1342.0,259.0 L1345.9,259.1 L1349.7,259.3 L1353.5,259.4 L1357.3,259.6 L1361.0,259.8 L1364.7,260.1 L1368.4,260.4 L1372.1,260.7 L1375.7,261.1 L1379.3,261.5 L1382.9,261.9 L1386.4,262.2 L1389.9,262.6 L1393.4,263.0 L1396.8,263.4 L1400.2,263.8 L1403.6,264.2 L1407.0,264.6 L1410.3,265.0 L1413.6,265.4 L1416.9,265.9 L1420.2,266.3 L1423.4,266.7 L1426.6,267.1 L1429.8,267.5 L1433.0,268.0 L1436.1,268.4 L1439.2,268.8 L1442.3,269.2 L1445.4,269.6 L1448.4,270.0 L1451.5,270.4 L1454.5,270.8 L1457.5,271.2 L1460.5,271.5 L1463.5,271.8 L1466.4,272.1 L1469.4,272.5 L1472.3,272.8 L1475.3,273.1 L1478.2,273.4 L1481.1,273.7 L1484.1,274.0" stroke="#008000" stroke-width="2.8" fill="none" stroke-linejoin="round" stroke-linecap="round"/>
<path d="M1054.0,482.5 L1054.1,481.7 L1054.2,480.9 L1054.3,480.1 L1054.4,479.3 L1054.4,478.5 L1054.5,477.7 L1054.6,476.8 L1054.7,475.9 L1054.9,475.0 L1055.0,474.0 L1055.2,472.9 L1055.3,471.8 L1055.5,470.7 L1055.7,469.5 L1055.9,468.3 L1056.2,467.0 L1056.4,465.8 L1056.6,464.5 L1056.8,463.3 L1057.0,462.0 L1057.2,460.7 L1057.4,459.4 L1057.6,458.1 L1057.8,456.8 L1057.9,455.5 L1058.1,454.2 L1058.3,452.9 L1058.5,451.6 L1058.8,450.3 L1059.0,449.0 L1059.3,447.8 L1059.5,446.5 L1059.8,445.3 L1060.1,444.1 L1060.4,442.9 L1060.7,441.8 L1061.0,440.6 L1061.3,439.4 L1061.7,438.2 L1062.0,437.0 L1062.4,435.8 L1062.7,434.6 L1063.1,433.4 L1063.5,432.2 L1063.9,431.0 L1064.3,429.8 L1064.7,428.6 L1065.1,427.4 L1065.6,426.2 L1066.0,425.0 L1066.5,423.8 L1066.9,422.6 L1067.4,421.4 L1067.9,420.2 L1068.4,419.0 L1068.9,417.8 L1069.4,416.6 L1069.9,415.4 L1070.5,414.2 L1071.0,413.0 L1071.5,411.8 L1072.1,410.6 L1072.6,409.4 L1073.2,408.2 L1073.8,407.1 L1074.3,405.9 L1074.9,404.7 L1075.6,403.5 L1076.3,402.2 L1077.0,401.0 L1077.8,399.7 L1078.6,398.5 L1079.4,397.2 L1080.3,396.0 L1081.2,394.7 L1082.1,393.4 L1083.1,392.1 L1084.0,390.7 L1085.0,389.4 L1086.0,388.0 L1087.0,386.6 L1088.0,385.1 L1089.1,383.6 L1090.2,382.1 L1091.3,380.6 L1092.4,379.1 L1093.5,377.5 L1094.7,376.0 L1095.8,374.5 L1097.0,373.0 L1098.2,371.5 L1099.4,370.0 L1100.6,368.6 L1101.9,367.1 L1103.1,365.6 L1104.4,364.1 L1105.7,362.7 L1106.9,361.3 L1108.2,359.9 L1109.5,358.5 L1110.8,357.2 L1112.1,355.9 L1113.3,354.6 L1114.6,353.3 L1115.9,352.1 L1117.2,350.9 L1118.5,349.7 L1119.8,348.4 L1121.2,347.2 L1122.5,346.0 L1123.8,344.8 L1125.0,343.7 L1126.1,342.6 L1127.3,341.5 L1128.5,340.4 L1129.7,339.3 L1131.1,338.1 L1132.6,336.8 L1134.3,335.5 L1136.2,334.0 L1138.4,332.4 L1140.7,330.6 L1143.3,328.7 L1145.9,326.7 L1148.7,324.7 L1151.6,322.6 L1154.6,320.6 L1157.6,318.6 L1160.6,316.8 L1163.6,315.0 L1166.6,313.3 L1169.7,311.7 L1172.9,310.2 L1176.1,308.7 L1179.3,307.2 L1182.6,305.7 L1185.9,304.3 L1189.3,303.0 L1192.7,301.6 L1196.1,300.3 L1199.6,299.0 L1203.0,297.7 L1206.6,296.5 L1210.2,295.2 L1213.8,294.0 L1217.4,292.9 L1221.1,291.8 L1224.7,290.8 L1228.4,289.8 L1232.1,288.9 L1235.8,288.1 L1239.6,287.3 L1243.3,286.5 L1247.1,285.9 L1250.9,285.2 L1254.8,284.7 L1258.6,284.2 L1262.3,283.7 L1266.1,283.3 L1269.8,283.0 L1273.5,282.8 L1277.1,282.6 L1280.8,282.5 L1284.4,282.5 L1288.0,282.5 L1291.6,282.6 L1295.2,282.7 L1298.7,282.8 L1302.3,282.9 L1305.8,283.0 L1309.3,283.1 L1312.8,283.1 L1316.3,283.2 L1319.8,283.3 L1323.3,283.4 L1326.7,283.5 L1330.1,283.6 L1333.5,283.8 L1336.9,284.1 L1340.2,284.4 L1343.5,284.8 L1346.8,285.2 L1350.1,285.7 L1353.3,286.2 L1356.5,286.8 L1359.7,287.3 L1362.9,287.9 L1366.0,288.5 L1369.0,289.1 L1372.0,289.7 L1374.9,290.3 L1377.8,290.9 L1380.6,291.5 L1383.3,292.2 L1386.0,292.8 L1388.7,293.4 L1391.3,294.1 L1393.9,294.7 L1396.6,295.3 L1399.2,295.8 L1401.8,296.3 L1404.4,296.8 L1407.0,297.3 L1409.5,297.8 L1412.1,298.3 L1414.6,298.7 L1417.1,299.1 L1419.6,299.5 L1422.1,299.9 L1424.6,300.2 L1427.1,300.5 L1429.5,300.7 L1432.0,301.0 L1434.4,301.1 L1436.8,301.3 L1439.2,301.5 L1441.6,301.6 L1444.1,301.8 L1446.5,301.9 L1448.9,302.1" stroke="#808000" stroke-width="2.8" fill="none" stroke-linejoin="round" stroke-linecap="round"/>
<path d="M1054.0,482.5 L1054.2,481.9 L1054.4,481.3 L1054.6,480.7 L1054.8,480.1 L1055.0,479.5 L1055.2,478.9 L1055.4,478.3 L1055.6,477.6 L1055.8,476.8 L1056.0,476.0 L1056.2,475.1 L1056.4,474.1 L1056.7,473.1 L1056.9,472.0 L1057.1,470.8 L1057.4,469.7 L1057.6,468.5 L1057.9,467.3 L1058.2,466.2 L1058.5,465.0 L1058.8,463.8 L1059.2,462.6 L1059.6,461.4 L1060.0,460.2 L1060.4,458.9 L1060.8,457.7 L1061.2,456.5 L1061.6,455.3 L1062.1,454.1 L1062.5,453.0 L1062.9,451.9 L1063.3,450.9 L1063.8,449.9 L1064.2,448.9 L1064.6,447.9 L1065.1,447.0 L1065.5,446.0 L1066.0,445.0 L1066.5,444.0 L1067.0,443.0 L1067.5,441.9 L1068.1,440.9 L1068.7,439.8 L1069.2,438.7 L1069.8,437.6 L1070.5,436.4 L1071.1,435.3 L1071.7,434.2 L1072.4,433.1 L1073.0,432.0 L1073.7,430.9 L1074.3,429.8 L1075.0,428.7 L1075.7,427.6 L1076.4,426.5 L1077.1,425.4 L1077.8,424.3 L1078.5,423.2 L1079.3,422.1 L1080.0,421.0 L1080.7,419.9 L1081.4,418.9 L1082.2,417.9 L1082.9,416.8 L1083.6,415.8 L1084.3,414.8 L1085.2,413.8 L1086.0,412.7 L1087.0,411.6 L1088.0,410.5 L1089.1,409.3 L1090.3,408.2 L1091.6,406.9 L1092.9,405.7 L1094.3,404.4 L1095.7,403.2 L1097.1,402.0 L1098.6,400.7 L1100.1,399.5 L1101.6,398.4 L1103.1,397.3 L1104.7,396.2 L1106.2,395.1 L1107.8,394.0 L1109.5,393.0 L1111.1,391.9 L1112.8,390.9 L1114.5,389.9 L1116.2,389.0 L1118.0,388.0 L1119.8,387.0 L1121.6,386.1 L1123.4,385.2 L1125.3,384.2 L1127.2,383.3 L1129.1,382.4 L1131.1,381.6 L1133.1,380.8 L1135.1,380.1 L1137.1,379.4 L1139.2,378.8 L1141.3,378.2 L1143.5,377.7 L1145.7,377.2 L1147.9,376.7 L1150.1,376.3 L1152.3,376.0 L1154.6,375.6 L1156.8,375.4 L1159.0,375.1 L1161.2,374.9 L1163.4,374.7 L1165.6,374.5 L1167.8,374.4 L1170.0,374.3 L1172.2,374.3 L1174.4,374.3 L1176.6,374.3 L1178.7,374.4 L1180.9,374.6 L1183.1,374.8 L1185.3,375.2 L1187.5,375.5 L1189.7,376.0 L1191.9,376.5 L1194.0,376.9 L1196.2,377.5 L1198.3,378.0 L1200.3,378.4 L1202.3,378.9 L1204.2,379.3 L1206.1,379.7 L1207.9,380.1 L1209.7,380.5 L1211.5,380.9 L1213.2,381.4 L1214.9,381.8 L1216.6,382.2 L1218.3,382.7 L1220.0,383.2 L1221.7,383.7 L1223.4,384.3 L1225.1,384.8 L1226.8,385.4 L1228.5,386.0 L1230.1,386.6 L1231.8,387.3 L1233.4,387.9 L1234.9,388.5 L1236.4,389.1 L1237.9,389.7 L1239.3,390.3 L1240.7,390.9 L1242.0,391.6 L1243.3,392.2 L1244.6,392.8 L1245.9,393.4 L1247.1,394.0 L1248.3,394.6 L1249.5,395.2 L1250.7,395.8 L1251.8,396.3 L1252.9,396.8 L1253.9,397.3 L1255.0,397.8 L1256.0,398.3 L1257.0,398.8 L1258.0,399.3 L1259.1,399.8 L1260.1,400.3 L1261.2,400.8 L1262.2,401.4 L1263.3,401.9 L1264.3,402.5 L1265.4,403.0 L1266.4,403.5 L1267.5,404.1 L1268.5,404.6 L1269.5,405.0 L1270.5,405.5 L1271.5,405.9 L1272.4,406.3 L1273.3,406.7 L1274.2,407.0 L1275.1,407.4 L1276.0,407.7 L1276.9,408.0 L1277.8,408.3 L1278.7,408.7 L1279.6,409.0" stroke="#B8860B" stroke-width="2.8" fill="none" stroke-linejoin="round" stroke-linecap="round"/>
<path d="M1054.0,482.5 L1054.1,481.8 L1054.3,481.1 L1054.4,480.4 L1054.6,479.7 L1054.7,479.0 L1054.8,478.3 L1055.0,477.6 L1055.1,476.8 L1055.3,475.9 L1055.5,475.0 L1055.7,474.0 L1055.9,472.9 L1056.1,471.7 L1056.4,470.5 L1056.6,469.3 L1056.9,468.0 L1057.1,466.7 L1057.4,465.5 L1057.7,464.2 L1058.0,463.0 L1058.3,461.8 L1058.6,460.6 L1058.9,459.4 L1059.3,458.2 L1059.6,457.0 L1060.0,455.8 L1060.3,454.6 L1060.7,453.4 L1061.1,452.2 L1061.5,451.0 L1061.9,449.8 L1062.3,448.6 L1062.7,447.4 L1063.2,446.2 L1063.6,445.0 L1064.0,443.8 L1064.5,442.6 L1065.0,441.4 L1065.5,440.2 L1066.0,439.0 L1066.5,437.8 L1067.1,436.6 L1067.7,435.4 L1068.2,434.2 L1068.8,433.0 L1069.5,431.8 L1070.1,430.6 L1070.7,429.4 L1071.4,428.2 L1072.0,427.0 L1072.7,425.8 L1073.3,424.6 L1074.0,423.4 L1074.7,422.2 L1075.4,420.9 L1076.1,419.7 L1076.8,418.5 L1077.5,417.3 L1078.3,416.2 L1079.0,415.0 L1079.8,413.9 L1080.5,412.7 L1081.3,411.6 L1082.1,410.4 L1082.9,409.3 L1083.7,408.2 L1084.5,407.1 L1085.3,406.1 L1086.2,405.0 L1087.0,404.0 L1087.9,403.0 L1088.7,402.1 L1089.6,401.2 L1090.5,400.3 L1091.4,399.4 L1092.3,398.5 L1093.2,397.6 L1094.1,396.8 L1095.1,395.9 L1096.0,395.0 L1097.0,394.1 L1097.9,393.2 L1098.9,392.3 L1099.8,391.4 L1100.8,390.5 L1101.8,389.5 L1102.8,388.6 L1103.9,387.8 L1104.9,386.9 L1106.0,386.0 L1107.1,385.1 L1108.1,384.3 L1109.2,383.5 L1110.2,382.6 L1111.3,381.8 L1112.4,381.0 L1113.6,380.2 L1115.0,379.4 L1116.4,378.5 L1118.0,377.7 L1119.7,376.8 L1121.6,376.0 L1123.6,375.1 L1125.8,374.2 L1127.9,373.3 L1130.2,372.4 L1132.5,371.5 L1134.8,370.6 L1137.1,369.8 L1139.4,369.0 L1141.7,368.2 L1144.0,367.4 L1146.4,366.6 L1148.8,365.9 L1151.2,365.1 L1153.7,364.4 L1156.1,363.7 L1158.6,363.1 L1161.0,362.5 L1163.5,362.0 L1166.0,361.5 L1168.5,361.1 L1171.0,360.7 L1173.5,360.3 L1176.1,359.9 L1178.6,359.7 L1181.2,359.4 L1183.7,359.3 L1186.2,359.2 L1188.6,359.2 L1191.0,359.3 L1193.4,359.5 L1195.8,359.7 L1198.2,360.0 L1200.5,360.4 L1202.8,360.8 L1205.2,361.3 L1207.5,361.8 L1209.8,362.2 L1212.1,362.7 L1214.4,363.2 L1216.8,363.7 L1219.1,364.2 L1221.5,364.7 L1223.8,365.3 L1226.1,365.8 L1228.4,366.4 L1230.6,367.0 L1232.7,367.7 L1234.8,368.3 L1236.8,368.9 L1238.8,369.6 L1240.6,370.2 L1242.5,370.9 L1244.3,371.6 L1246.1,372.3 L1247.8,373.1 L1249.5,373.8 L1251.2,374.6 L1252.8,375.5 L1254.4,376.4 L1256.0,377.4 L1257.5,378.5 L1259.0,379.6 L1260.5,380.8 L1261.9,381.9 L1263.3,383.0 L1264.7,384.0 L1266.1,385.0 L1267.5,385.9 L1268.9,386.7 L1270.2,387.4 L1271.6,388.0 L1272.9,388.7 L1274.2,389.2 L1275.4,389.8 L1276.7,390.3 L1278.0,390.9 L1279.2,391.4 L1280.5,392.0 L1281.7,392.6 L1282.9,393.2 L1284.1,393.8 L1285.3,394.4 L1286.4,395.0 L1287.6,395.6 L1288.8,396.2 L1290.0,396.8 L1291.3,397.4 L1292.6,398.0 L1294.0,398.6 L1295.4,399.2 L1296.8,399.8 L1298.3,400.3 L1299.8,400.9 L1301.4,401.5 L1302.9,402.1 L1304.4,402.6 L1305.9,403.2 L1307.4,403.8" stroke="#8FBC8F" stroke-width="2.8" fill="none" stroke-linejoin="round" stroke-linecap="round"/>
<path d="M1054.0,482.5 L1054.0,481.5 L1054.1,480.4 L1054.2,479.4 L1054.2,478.4 L1054.2,477.3 L1054.3,476.3 L1054.3,475.3 L1054.4,474.2 L1054.5,473.1 L1054.5,472.0 L1054.5,470.9 L1054.6,469.7 L1054.6,468.4 L1054.7,467.2 L1054.7,466.0 L1054.8,464.7 L1054.8,463.5 L1054.9,462.3 L1054.9,461.1 L1055.0,460.0 L1055.1,458.9 L1055.2,457.9 L1055.2,456.9 L1055.3,456.0 L1055.4,455.1 L1055.5,454.1 L1055.6,453.2 L1055.8,452.2 L1055.9,451.1 L1056.0,450.0 L1056.1,448.8 L1056.2,447.6 L1056.3,446.3 L1056.5,444.9 L1056.6,443.6 L1056.7,442.2 L1056.9,440.9 L1057.0,439.6 L1057.3,438.3 L1057.5,437.1 L1057.8,436.0 L1058.1,434.9 L1058.4,433.8 L1058.8,432.8 L1059.1,431.8 L1059.5,430.8 L1059.9,429.8 L1060.4,428.8 L1060.8,427.8 L1061.3,426.7 L1061.8,425.6 L1062.3,424.5 L1062.8,423.4 L1063.4,422.2 L1064.0,421.1 L1064.6,419.9 L1065.2,418.7 L1065.8,417.6 L1066.4,416.4 L1067.0,415.2 L1067.6,414.0 L1068.2,412.9 L1068.8,411.7 L1069.5,410.5 L1070.1,409.3 L1070.8,408.1 L1071.5,406.9 L1072.2,405.6 L1072.9,404.3 L1073.7,402.9 L1074.5,401.4 L1075.4,399.9 L1076.3,398.3 L1077.2,396.7 L1078.1,395.0 L1079.1,393.3 L1080.1,391.6 L1081.1,390.0 L1082.1,388.3 L1083.2,386.7 L1084.3,385.1 L1085.4,383.5 L1086.5,381.9 L1087.6,380.3 L1088.8,378.7 L1089.9,377.1 L1091.2,375.6 L1092.4,374.0 L1093.7,372.5 L1095.0,371.0 L1096.4,369.5 L1097.8,368.1 L1099.2,366.6 L1100.7,365.2 L1102.2,363.8 L1103.7,362.4 L1105.3,361.0 L1106.8,359.7 L1108.4,358.3 L1110.0,357.0 L1111.6,355.7 L1113.2,354.4 L1114.9,353.1 L1116.6,351.8 L1118.3,350.6 L1120.0,349.3 L1121.7,348.1 L1123.5,346.9 L1125.2,345.7 L1127.0,344.5 L1128.8,343.4 L1130.5,342.3 L1132.2,341.2 L1133.9,340.2 L1135.6,339.2 L1137.4,338.2 L1139.3,337.1 L1141.3,336.0 L1143.5,334.8 L1145.8,333.5 L1148.3,332.1 L1151.0,330.5 L1153.8,328.9 L1156.7,327.2 L1159.7,325.5 L1162.9,323.8 L1166.0,322.1 L1169.2,320.5 L1172.5,319.0 L1175.7,317.6 L1179.0,316.3 L1182.3,315.1 L1185.7,313.9 L1189.2,312.8 L1192.7,311.7 L1196.2,310.7 L1199.8,309.8 L1203.3,308.9 L1206.9,308.0 L1210.5,307.3 L1214.1,306.6 L1217.7,306.0 L1221.4,305.5 L1225.1,305.0 L1228.8,304.6 L1232.5,304.2 L1236.2,303.9 L1239.9,303.6 L1243.6,303.4 L1247.2,303.3 L1250.8,303.2 L1254.5,303.2 L1258.1,303.2 L1261.8,303.3 L1265.4,303.4 L1269.0,303.6 L1272.6,303.9 L1276.1,304.2 L1279.6,304.6 L1283.1,305.0 L1286.6,305.5 L1290.0,306.1 L1293.4,306.8 L1296.8,307.5 L1300.2,308.3 L1303.5,309.1 L1306.8,310.0 L1310.0,310.9 L1313.1,311.8 L1316.2,312.8 L1319.2,313.8 L1322.1,314.9 L1324.9,316.0 L1327.6,317.2 L1330.3,318.4 L1333.0,319.6 L1335.6,320.8 L1338.2,322.1 L1340.8,323.2 L1343.3,324.4 L1345.8,325.5 L1348.3,326.7 L1350.8,327.8 L1353.2,328.9 L1355.6,330.0 L1358.0,331.1 L1360.3,332.2 L1362.5,333.3 L1364.7,334.4 L1366.9,335.4 L1369.0,336.4 L1371.0,337.4 L1373.0,338.4 L1375.0,339.4 L1376.9,340.4 L1378.7,341.4 L1380.5,342.3 L1382.3,343.3 L1384.1,344.2 L1385.8,345.1 L1387.5,346.0 L1389.1,346.9 L1390.7,347.8 L1392.3,348.7 L1393.8,349.6 L1395.3,350.5 L1396.8,351.3 L1398.2,352.1 L1399.7,352.9 L1401.1,353.6 L1402.5,354.3 L1404.0,354.8 L1405.4,355.4 L1406.8,355.9 L1408.2,356.4 L1409.6,356.8 L1410.9,357.3 L1412.1,357.8 L1413.3,358.3 L1414.4,358.9 L1415.4,359.5 L1416.3,360.1 L1417.1,360.8 L1417.9,361.4 L1418.6,362.1 L1419.3,362.8 L1420.0,363.5 L1420.7,364.2 L1421.4,364.8 L1422.2,365.5" stroke="#5F9EA0" stroke-width="2.8" fill="none" stroke-linejoin="round" stroke-linecap="round"/>
<path d="M1054.0,482.5 L1054.1,481.7 L1054.2,480.9 L1054.3,480.1 L1054.4,479.3 L1054.4,478.5 L1054.5,477.7 L1054.6,476.8 L1054.7,475.9 L1054.9,475.0 L1055.0,474.0 L1055.2,472.9 L1055.3,471.8 L1055.5,470.7 L1055.7,469.5 L1055.9,468.2 L1056.1,467.0 L1056.3,465.7 L1056.5,464.5 L1056.8,463.2 L1057.0,462.0 L1057.3,460.8 L1057.5,459.6 L1057.8,458.4 L1058.1,457.2 L1058.4,456.0 L1058.7,454.8 L1059.0,453.6 L1059.3,452.4 L1059.7,451.2 L1060.0,450.0 L1060.4,448.8 L1060.7,447.6 L1061.1,446.4 L1061.5,445.2 L1061.8,444.0 L1062.2,442.8 L1062.7,441.6 L1063.1,440.4 L1063.5,439.2 L1064.0,438.0 L1064.5,436.8 L1065.0,435.6 L1065.5,434.4 L1066.0,433.2 L1066.6,432.0 L1067.2,430.8 L1067.7,429.6 L1068.3,428.4 L1068.9,427.2 L1069.5,426.0 L1070.1,424.8 L1070.7,423.6 L1071.3,422.4 L1072.0,421.2 L1072.6,419.9 L1073.2,418.7 L1073.9,417.5 L1074.6,416.3 L1075.3,415.2 L1076.0,414.0 L1076.7,412.9 L1077.5,411.7 L1078.3,410.6 L1079.0,409.5 L1079.8,408.3 L1080.7,407.2 L1081.5,406.2 L1082.3,405.1 L1083.2,404.0 L1084.0,403.0 L1084.9,402.0 L1085.7,401.0 L1086.6,400.0 L1087.4,399.0 L1088.3,398.1 L1089.2,397.2 L1090.1,396.2 L1091.1,395.3 L1092.0,394.4 L1093.0,393.5 L1094.0,392.6 L1095.1,391.7 L1096.1,390.8 L1097.2,390.0 L1098.3,389.1 L1099.4,388.2 L1100.6,387.4 L1101.7,386.6 L1102.9,385.8 L1104.0,385.0 L1105.1,384.2 L1106.3,383.5 L1107.4,382.8 L1108.6,382.0 L1109.8,381.3 L1110.9,380.7 L1112.1,380.0 L1113.4,379.3 L1114.7,378.7 L1116.0,378.0 L1117.4,377.4 L1118.8,376.7 L1120.2,376.1 L1121.7,375.5 L1123.2,374.9 L1124.7,374.3 L1126.2,373.7 L1127.8,373.1 L1129.4,372.5 L1131.0,372.0 L1132.6,371.5 L1134.2,371.0 L1135.8,370.5 L1137.5,370.0 L1139.1,369.5 L1140.8,369.1 L1142.6,368.6 L1144.4,368.2 L1146.4,367.7 L1148.4,367.3 L1150.6,366.8 L1152.8,366.3 L1155.2,365.8 L1157.7,365.3 L1160.2,364.8 L1162.7,364.3 L1165.3,363.9 L1167.8,363.5 L1170.3,363.2 L1172.8,363.0 L1175.2,362.9 L1177.7,362.8 L1180.1,362.7 L1182.6,362.8 L1185.1,362.8 L1187.5,362.9 L1190.0,363.1 L1192.4,363.3 L1194.9,363.5 L1197.3,363.7 L1199.8,364.0 L1202.3,364.3 L1204.8,364.6 L1207.3,364.9 L1209.8,365.3 L1212.3,365.8 L1214.7,366.2 L1217.1,366.8 L1219.4,367.3 L1221.6,367.9 L1223.7,368.5 L1225.7,369.2 L1227.7,370.0 L1229.5,370.7 L1231.4,371.6 L1233.2,372.4 L1234.9,373.3 L1236.6,374.2 L1238.3,375.1 L1240.0,376.0 L1241.6,377.0 L1243.2,378.0 L1244.7,379.0 L1246.2,380.1 L1247.7,381.2 L1249.2,382.4 L1250.6,383.5 L1252.0,384.5 L1253.5,385.5 L1255.0,386.5 L1256.5,387.4 L1258.1,388.3 L1259.6,389.1 L1261.2,390.0 L1262.7,390.8 L1264.3,391.6 L1265.8,392.3 L1267.3,393.1 L1268.7,393.8 L1270.1,394.6 L1271.4,395.3 L1272.7,396.1 L1274.0,396.8 L1275.2,397.4 L1276.4,398.1 L1277.6,398.8 L1278.8,399.5 L1279.9,400.1 L1281.1,400.8 L1282.2,401.5 L1283.3,402.2 L1284.4,402.9 L1285.5,403.6 L1286.6,404.3 L1287.6,405.0 L1288.6,405.7 L1289.7,406.4 L1290.7,407.1 L1291.6,407.7 L1292.6,408.4 L1293.5,409.0 L1294.4,409.7 L1295.3,410.3 L1296.2,410.9 L1297.1,411.5 L1297.9,412.1 L1298.7,412.7 L1299.6,413.3 L1300.4,413.9 L1301.3,414.5" stroke="#B0E0E6" stroke-width="2.8" fill="none" stroke-linejoin="round" stroke-linecap="round"/>
</g>
<rect x="170.0" y="46.9" width="481.4" height="442.9" stroke="#303030" stroke-width="2.2" fill="none"/>
<path d="M163.7,46.90H170.0 M163.7,141.90H170.0 M163.7,236.00H170.0 M163.7,330.05H170.0 M163.7,424.10H170.0 M175.90,489.8V495.8 M311.40,489.8V495.8 M447.00,489.8V495.8 M582.50,489.8V495.8 M651.4,80.10H657.4 M651.4,177.70H657.4 M651.4,275.30H657.4 M651.4,372.90H657.4 M651.4,470.60H657.4" stroke="#303030" stroke-width="2.2" fill="none"/>
<rect x="1051.4" y="42.8" width="441.1" height="441.9" stroke="#464646" stroke-width="2.2" fill="none"/>
<path d="M1045.4,484.70H1051.4 M1045.4,396.32H1051.4 M1045.4,307.95H1051.4 M1045.4,219.57H1051.4 M1045.4,131.20H1051.4 M1045.4,42.82H1051.4 M1051.40,484.7V490.7 M1227.30,484.7V490.7 M1403.20,484.7V490.7" stroke="#464646" stroke-width="2.2" fill="none"/>
<rect x="543.5" y="46.6" width="105.1" height="193.7" rx="3.5" fill="#fff" fill-opacity="0.8" stroke="#d6d6d6" stroke-width="1"/>
<circle cx="562.4" cy="59.50" r="4.3" fill="#008080" fill-opacity="0.85" stroke="#008080" stroke-width="1.2"/>
<text transform="translate(586.10,62.80) scale(1.0636,1)" style="font-size:14.10px">Day 1</text>
<circle cx="562.4" cy="78.45" r="4.3" fill="#000080" fill-opacity="0.85" stroke="#000080" stroke-width="1.2"/>
<text transform="translate(586.10,81.75) scale(1.0619,1)" style="font-size:14.10px">Day 2</text>
<circle cx="562.4" cy="97.40" r="4.3" fill="#800080" fill-opacity="0.85" stroke="#800080" stroke-width="1.2"/>
<text transform="translate(586.10,100.70) scale(1.0677,1)" style="font-size:14.10px">Day 7</text>
<circle cx="562.4" cy="116.35" r="4.3" fill="#FFC0CB" fill-opacity="0.85" stroke="#FFC0CB" stroke-width="1.2"/>
<text transform="translate(586.09,119.65) scale(1.0767,1)" style="font-size:14.10px">Day 14</text>
<circle cx="562.4" cy="135.30" r="4.3" fill="#008000" fill-opacity="0.85" stroke="#008000" stroke-width="1.2"/>
<text transform="translate(586.09,138.60) scale(1.0709,1)" style="font-size:14.10px">Day 21</text>
<circle cx="562.4" cy="154.25" r="4.3" fill="#808000" fill-opacity="0.85" stroke="#808000" stroke-width="1.2"/>
<text transform="translate(586.09,157.55) scale(1.0753,1)" style="font-size:14.10px">Day 30</text>
<circle cx="562.4" cy="173.20" r="4.3" fill="#B8860B" fill-opacity="0.85" stroke="#B8860B" stroke-width="1.2"/>
<text transform="translate(586.09,176.50) scale(1.0753,1)" style="font-size:14.10px">Day 40</text>
<circle cx="562.4" cy="192.15" r="4.3" fill="#8FBC8F" fill-opacity="0.85" stroke="#8FBC8F" stroke-width="1.2"/>
<text transform="translate(586.09,195.45) scale(1.0753,1)" style="font-size:14.10px">Day 50</text>
<circle cx="562.4" cy="211.10" r="4.3" fill="#5F9EA0" fill-opacity="0.85" stroke="#5F9EA0" stroke-width="1.2"/>
<text transform="translate(586.09,214.40) scale(1.0707,1)" style="font-size:14.10px">Day 75</text>
<circle cx="562.4" cy="230.05" r="4.3" fill="#B0E0E6" fill-opacity="0.85" stroke="#B0E0E6" stroke-width="1.2"/>
<text transform="translate(586.08,233.35) scale(1.0782,1)" style="font-size:14.10px">Day 100</text>
<rect x="1384.8" y="42.8" width="105.4" height="194.0" rx="3.5" fill="#fff" fill-opacity="0.8" stroke="#d6d6d6" stroke-width="1"/>
<circle cx="1404.1" cy="55.60" r="4.3" fill="#008080" fill-opacity="0.85" stroke="#008080" stroke-width="1.2"/>
<text transform="translate(1427.60,58.90) scale(1.0636,1)" style="font-size:14.10px">Day 1</text>
<circle cx="1404.1" cy="74.55" r="4.3" fill="#000080" fill-opacity="0.85" stroke="#000080" stroke-width="1.2"/>
<text transform="translate(1427.60,77.85) scale(1.0619,1)" style="font-size:14.10px">Day 2</text>
<circle cx="1404.1" cy="93.50" r="4.3" fill="#800080" fill-opacity="0.85" stroke="#800080" stroke-width="1.2"/>
<text transform="translate(1427.60,96.80) scale(1.0677,1)" style="font-size:14.10px">Day 7</text>
<circle cx="1404.1" cy="112.45" r="4.3" fill="#FFC0CB" fill-opacity="0.85" stroke="#FFC0CB" stroke-width="1.2"/>
<text transform="translate(1427.59,115.75) scale(1.0767,1)" style="font-size:14.10px">Day 14</text>
<circle cx="1404.1" cy="131.40" r="4.3" fill="#008000" fill-opacity="0.85" stroke="#008000" stroke-width="1.2"/>
<text transform="translate(1427.59,134.70) scale(1.0709,1)" style="font-size:14.10px">Day 21</text>
<circle cx="1404.1" cy="150.35" r="4.3" fill="#808000" fill-opacity="0.85" stroke="#808000" stroke-width="1.2"/>
<text transform="translate(1427.59,153.65) scale(1.0753,1)" style="font-size:14.10px">Day 30</text>
<circle cx="1404.1" cy="169.30" r="4.3" fill="#B8860B" fill-opacity="0.85" stroke="#B8860B" stroke-width="1.2"/>
<text transform="translate(1427.59,172.60) scale(1.0753,1)" style="font-size:14.10px">Day 40</text>
<circle cx="1404.1" cy="188.25" r="4.3" fill="#8FBC8F" fill-opacity="0.85" stroke="#8FBC8F" stroke-width="1.2"/>
<text transform="translate(1427.59,191.55) scale(1.0753,1)" style="font-size:14.10px">Day 50</text>
<circle cx="1404.1" cy="207.20" r="4.3" fill="#5F9EA0" fill-opacity="0.85" stroke="#5F9EA0" stroke-width="1.2"/>
<text transform="translate(1427.59,210.50) scale(1.0707,1)" style="font-size:14.10px">Day 75</text>
<circle cx="1404.1" cy="226.15" r="4.3" fill="#B0E0E6" fill-opacity="0.85" stroke="#B0E0E6" stroke-width="1.2"/>
<text transform="translate(1427.58,229.45) scale(1.0782,1)" style="font-size:14.10px">Day 100</text>
<text transform="translate(-1.09,51.37) scale(0.9451,1)" style="font-weight:bold;font-size:63.09px" fill="#000" >a</text>
<text transform="translate(841.31,45.66) scale(1.0356,1)" style="font-weight:bold;font-size:63.67px" fill="#000" >b</text>
<text transform="translate(85.89,58.55) scale(1.0693,1)" style="font-size:35.07px" fill="#000" >10</text>
<text transform="translate(128.45,45.80) scale(1.1371,1)" style="font-size:22.86px" fill="#000" >12</text>
<text transform="translate(100.09,153.05) scale(1.0537,1)" style="font-size:35.49px" fill="#000" >10</text>
<text transform="translate(142.41,140.45) scale(1.0611,1)" style="font-size:24.93px" fill="#000" >9</text>
<text transform="translate(100.09,247.15) scale(1.0537,1)" style="font-size:35.49px" fill="#000" >10</text>
<text transform="translate(142.28,234.55) scale(1.0611,1)" style="font-size:24.93px" fill="#000" >6</text>
<text transform="translate(100.09,341.20) scale(1.0537,1)" style="font-size:35.49px" fill="#000" >10</text>
<text transform="translate(142.56,328.60) scale(1.0387,1)" style="font-size:24.93px" fill="#000" >3</text>
<text transform="translate(100.09,435.25) scale(1.0537,1)" style="font-size:35.49px" fill="#000" >10</text>
<text transform="translate(142.57,422.65) scale(1.0279,1)" style="font-size:24.93px" fill="#000" >0</text>
<text transform="translate(138.57,528.74) scale(1.0375,1)" style="font-size:36.34px" fill="#000" >10</text>
<text transform="translate(200.69,515.90) scale(1.0462,1)" style="font-size:25.00px" fill="#000" >2</text>
<rect x="182.9" y="507.9" width="15.0" height="1.9" fill="#000"/>
<text transform="translate(282.69,528.74) scale(1.0051,1)" style="font-size:35.92px" fill="#000" >10</text>
<text transform="translate(325.93,515.75) scale(0.9805,1)" style="font-size:24.65px" fill="#000" >0</text>
<text transform="translate(418.79,528.74) scale(1.0051,1)" style="font-size:35.92px" fill="#000" >10</text>
<text transform="translate(461.73,516.00) scale(1.0198,1)" style="font-size:25.00px" fill="#000" >2</text>
<text transform="translate(554.29,528.74) scale(1.0051,1)" style="font-size:35.92px" fill="#000" >10</text>
<text transform="translate(598.04,516.00) scale(0.9057,1)" style="font-size:25.36px" fill="#000" >4</text>
<text transform="translate(280.12,569.20) scale(1.0283,1)" style="font-size:36.24px">Frequency (Hz)</text>
<text transform="translate(690.30,92.34) scale(1.0626,1)" style="font-size:35.63px" fill="#000" >80</text>
<rect x="666.5" y="81.00" width="21.2" height="2.5" fill="#000"/>
<text transform="translate(690.10,189.96) scale(1.0678,1)" style="font-size:35.63px" fill="#000" >60</text>
<rect x="666.5" y="178.62" width="21.2" height="2.5" fill="#000"/>
<text transform="translate(691.26,287.58) scale(1.0374,1)" style="font-size:35.63px" fill="#000" >40</text>
<rect x="666.5" y="276.24" width="21.2" height="2.5" fill="#000"/>
<text transform="translate(690.10,385.20) scale(1.0678,1)" style="font-size:35.63px" fill="#000" >20</text>
<rect x="666.5" y="373.86" width="21.2" height="2.5" fill="#000"/>
<text transform="translate(663.19,482.84) scale(0.9881,1)" style="font-size:35.63px" fill="#000" >0</text>
<g transform="translate(65.3,371.6) rotate(-90)">
<text transform="translate(-3.55,0.00) scale(1.0996,1)" style="font-size:35.90px">|Z| (Ω • cm</text>
<text transform="translate(181.73,-12.60) scale(1.1312,1)" style="font-size:24.29px">2</text>
<text transform="translate(201.06,-2.57) scale(0.8532,1)" style="font-size:32.73px">)</text>
</g>
<g transform="translate(764.8,423.0) rotate(-90)">
<text transform="translate(-2.98,0.00) scale(1.0374,1)" style="font-size:35.90px">Phase angle (deg.)</text>
</g>
<g transform="translate(959.0,382.2) rotate(-90)">
<text transform="translate(-1.76,0.00) scale(1.0921,1)" style="font-size:35.90px">-Z" (kΩ • cm</text>
<text transform="translate(208.53,-12.60) scale(1.1312,1)" style="font-size:24.29px">2</text>
<text transform="translate(227.86,-2.57) scale(0.8532,1)" style="font-size:32.73px">)</text>
</g>
<text transform="translate(976.29,55.32) scale(1.0442,1)" style="font-size:35.60px">125</text>
<text transform="translate(975.59,143.70) scale(1.0530,1)" style="font-size:35.60px">100</text>
<text transform="translate(997.75,232.07) scale(1.0224,1)" style="font-size:35.60px">75</text>
<text transform="translate(997.26,320.45) scale(1.0304,1)" style="font-size:35.60px">50</text>
<text transform="translate(997.58,408.82) scale(1.0270,1)" style="font-size:35.60px">25</text>
<text transform="translate(1018.32,497.20) scale(0.9929,1)" style="font-size:35.60px">0</text>
<text transform="translate(1042.10,520.70) scale(0.9929,1)" style="font-size:35.60px">0</text>
<text transform="translate(1207.45,520.70) scale(1.0304,1)" style="font-size:35.60px">50</text>
<text transform="translate(1371.84,520.70) scale(1.0530,1)" style="font-size:35.60px">100</text>
<text transform="translate(1160.01,566.60) scale(1.1106,1)" style="font-size:35.76px">Z' (kΩ • cm</text>
<text transform="translate(1354.98,554.10) scale(1.0924,1)" style="font-size:24.14px" fill="#000" >2</text>
<text transform="translate(1373.86,563.82) scale(0.8879,1)" style="font-size:32.30px" fill="#000" >)</text>
</svg>
</body></html>
